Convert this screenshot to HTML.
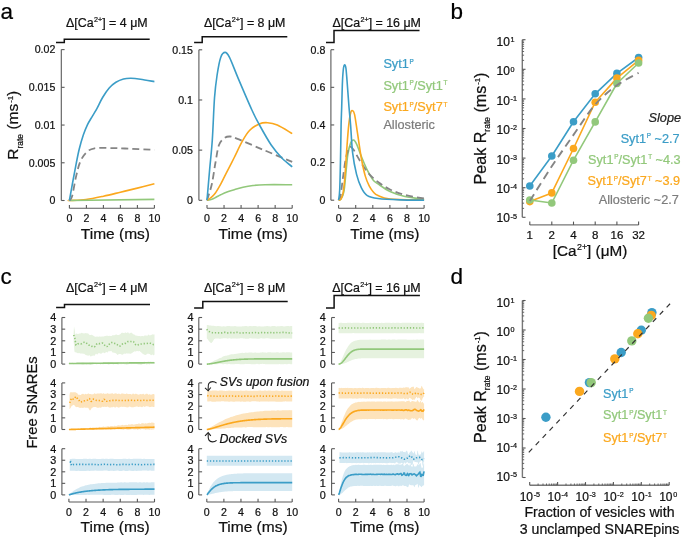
<!DOCTYPE html><html><head><meta charset="utf-8"><style>html,body{margin:0;padding:0;background:#fff;}svg{display:block;will-change:transform;}text{font-family:"Liberation Sans", sans-serif;}</style></head><body>
<svg width="685" height="538" viewBox="0 0 685 538">
<rect width="685" height="538" fill="#fff"/>
<text x="0.50" y="18.60" font-size="22.5" text-anchor="start" fill="#000" stroke="#000" stroke-width="0.22" >a</text>
<text x="450.50" y="18.60" font-size="22.5" text-anchor="start" fill="#000" stroke="#000" stroke-width="0.22" >b</text>
<text x="0.50" y="284.40" font-size="22.5" text-anchor="start" fill="#000" stroke="#000" stroke-width="0.22" >c</text>
<text x="450.50" y="284.40" font-size="22.5" text-anchor="start" fill="#000" stroke="#000" stroke-width="0.22" >d</text>
<path d="M56,42.5 H64.3 V39.3 H149.7" fill="none" stroke="#111" stroke-width="1.5"/>
<text x="66.10" y="27.00" font-size="12.4" text-anchor="start" fill="#111" stroke="#111" stroke-width="0.22" >&#916;[Ca<tspan dx="0.37" dy="-4.71" font-size="7.19">2+</tspan><tspan dy="4.71">&#8203;</tspan>] = 4 &#956;M</text>
<line x1="61.30" y1="49.60" x2="61.30" y2="200.50" stroke="#5a5a5a" stroke-width="1.1" />
<line x1="61.30" y1="200.50" x2="64.60" y2="200.50" stroke="#5a5a5a" stroke-width="1.1" />
<text x="55.30" y="204.30" font-size="10.6" text-anchor="end" fill="#111" stroke="#111" stroke-width="0.22" >0</text>
<line x1="61.30" y1="162.78" x2="64.60" y2="162.78" stroke="#5a5a5a" stroke-width="1.1" />
<text x="55.30" y="166.58" font-size="10.6" text-anchor="end" fill="#111" stroke="#111" stroke-width="0.22" >0.005</text>
<line x1="61.30" y1="125.05" x2="64.60" y2="125.05" stroke="#5a5a5a" stroke-width="1.1" />
<text x="55.30" y="128.85" font-size="10.6" text-anchor="end" fill="#111" stroke="#111" stroke-width="0.22" >0.01</text>
<line x1="61.30" y1="87.33" x2="64.60" y2="87.33" stroke="#5a5a5a" stroke-width="1.1" />
<text x="55.30" y="91.12" font-size="10.6" text-anchor="end" fill="#111" stroke="#111" stroke-width="0.22" >0.015</text>
<line x1="61.30" y1="49.60" x2="64.60" y2="49.60" stroke="#5a5a5a" stroke-width="1.1" />
<text x="55.30" y="53.40" font-size="10.6" text-anchor="end" fill="#111" stroke="#111" stroke-width="0.22" >0.02</text>
<line x1="69.40" y1="208.30" x2="154.40" y2="208.30" stroke="#5a5a5a" stroke-width="1.1" />
<line x1="69.40" y1="208.30" x2="69.40" y2="205.10" stroke="#5a5a5a" stroke-width="1.1" />
<text x="69.40" y="222.40" font-size="10.6" text-anchor="middle" fill="#111" stroke="#111" stroke-width="0.22" >0</text>
<line x1="86.40" y1="208.30" x2="86.40" y2="205.10" stroke="#5a5a5a" stroke-width="1.1" />
<text x="86.40" y="222.40" font-size="10.6" text-anchor="middle" fill="#111" stroke="#111" stroke-width="0.22" >2</text>
<line x1="103.40" y1="208.30" x2="103.40" y2="205.10" stroke="#5a5a5a" stroke-width="1.1" />
<text x="103.40" y="222.40" font-size="10.6" text-anchor="middle" fill="#111" stroke="#111" stroke-width="0.22" >4</text>
<line x1="120.40" y1="208.30" x2="120.40" y2="205.10" stroke="#5a5a5a" stroke-width="1.1" />
<text x="120.40" y="222.40" font-size="10.6" text-anchor="middle" fill="#111" stroke="#111" stroke-width="0.22" >6</text>
<line x1="137.40" y1="208.30" x2="137.40" y2="205.10" stroke="#5a5a5a" stroke-width="1.1" />
<text x="137.40" y="222.40" font-size="10.6" text-anchor="middle" fill="#111" stroke="#111" stroke-width="0.22" >8</text>
<line x1="154.40" y1="208.30" x2="154.40" y2="205.10" stroke="#5a5a5a" stroke-width="1.1" />
<text x="154.40" y="222.40" font-size="10.6" text-anchor="middle" fill="#111" stroke="#111" stroke-width="0.22" >10</text>
<text x="115.40" y="238.60" font-size="15.5" text-anchor="middle" fill="#111" stroke="#111" stroke-width="0.22" >Time (ms)</text>
<path d="M194.1,42.4 H202.2 V36.8 H287.3" fill="none" stroke="#111" stroke-width="1.5"/>
<text x="203.90" y="27.00" font-size="12.4" text-anchor="start" fill="#111" stroke="#111" stroke-width="0.22" >&#916;[Ca<tspan dx="0.37" dy="-4.71" font-size="7.19">2+</tspan><tspan dy="4.71">&#8203;</tspan>] = 8 &#956;M</text>
<line x1="198.90" y1="49.80" x2="198.90" y2="200.30" stroke="#5a5a5a" stroke-width="1.1" />
<line x1="198.90" y1="200.30" x2="202.20" y2="200.30" stroke="#5a5a5a" stroke-width="1.1" />
<text x="192.90" y="204.10" font-size="10.6" text-anchor="end" fill="#111" stroke="#111" stroke-width="0.22" >0</text>
<line x1="198.90" y1="150.13" x2="202.20" y2="150.13" stroke="#5a5a5a" stroke-width="1.1" />
<text x="192.90" y="153.93" font-size="10.6" text-anchor="end" fill="#111" stroke="#111" stroke-width="0.22" >0.05</text>
<line x1="198.90" y1="99.97" x2="202.20" y2="99.97" stroke="#5a5a5a" stroke-width="1.1" />
<text x="192.90" y="103.77" font-size="10.6" text-anchor="end" fill="#111" stroke="#111" stroke-width="0.22" >0.1</text>
<line x1="198.90" y1="49.80" x2="202.20" y2="49.80" stroke="#5a5a5a" stroke-width="1.1" />
<text x="192.90" y="53.60" font-size="10.6" text-anchor="end" fill="#111" stroke="#111" stroke-width="0.22" >0.15</text>
<line x1="207.00" y1="208.30" x2="292.20" y2="208.30" stroke="#5a5a5a" stroke-width="1.1" />
<line x1="207.00" y1="208.30" x2="207.00" y2="205.10" stroke="#5a5a5a" stroke-width="1.1" />
<text x="207.00" y="222.40" font-size="10.6" text-anchor="middle" fill="#111" stroke="#111" stroke-width="0.22" >0</text>
<line x1="224.04" y1="208.30" x2="224.04" y2="205.10" stroke="#5a5a5a" stroke-width="1.1" />
<text x="224.04" y="222.40" font-size="10.6" text-anchor="middle" fill="#111" stroke="#111" stroke-width="0.22" >2</text>
<line x1="241.08" y1="208.30" x2="241.08" y2="205.10" stroke="#5a5a5a" stroke-width="1.1" />
<text x="241.08" y="222.40" font-size="10.6" text-anchor="middle" fill="#111" stroke="#111" stroke-width="0.22" >4</text>
<line x1="258.12" y1="208.30" x2="258.12" y2="205.10" stroke="#5a5a5a" stroke-width="1.1" />
<text x="258.12" y="222.40" font-size="10.6" text-anchor="middle" fill="#111" stroke="#111" stroke-width="0.22" >6</text>
<line x1="275.16" y1="208.30" x2="275.16" y2="205.10" stroke="#5a5a5a" stroke-width="1.1" />
<text x="275.16" y="222.40" font-size="10.6" text-anchor="middle" fill="#111" stroke="#111" stroke-width="0.22" >8</text>
<line x1="292.20" y1="208.30" x2="292.20" y2="205.10" stroke="#5a5a5a" stroke-width="1.1" />
<text x="292.20" y="222.40" font-size="10.6" text-anchor="middle" fill="#111" stroke="#111" stroke-width="0.22" >10</text>
<text x="253.10" y="238.60" font-size="15.5" text-anchor="middle" fill="#111" stroke="#111" stroke-width="0.22" >Time (ms)</text>
<path d="M326,42.6 H334 V30.6 H419.5" fill="none" stroke="#111" stroke-width="1.5"/>
<text x="332.50" y="27.00" font-size="12.4" text-anchor="start" fill="#111" stroke="#111" stroke-width="0.22" >&#916;[Ca<tspan dx="0.37" dy="-4.71" font-size="7.19">2+</tspan><tspan dy="4.71">&#8203;</tspan>] = 16 &#956;M</text>
<line x1="330.90" y1="49.70" x2="330.90" y2="200.20" stroke="#5a5a5a" stroke-width="1.1" />
<line x1="330.90" y1="200.20" x2="334.20" y2="200.20" stroke="#5a5a5a" stroke-width="1.1" />
<text x="325.30" y="204.00" font-size="10.6" text-anchor="end" fill="#111" stroke="#111" stroke-width="0.22" >0</text>
<line x1="330.90" y1="162.57" x2="334.20" y2="162.57" stroke="#5a5a5a" stroke-width="1.1" />
<text x="325.30" y="166.38" font-size="10.6" text-anchor="end" fill="#111" stroke="#111" stroke-width="0.22" >0.2</text>
<line x1="330.90" y1="124.95" x2="334.20" y2="124.95" stroke="#5a5a5a" stroke-width="1.1" />
<text x="325.30" y="128.75" font-size="10.6" text-anchor="end" fill="#111" stroke="#111" stroke-width="0.22" >0.4</text>
<line x1="330.90" y1="87.33" x2="334.20" y2="87.33" stroke="#5a5a5a" stroke-width="1.1" />
<text x="325.30" y="91.12" font-size="10.6" text-anchor="end" fill="#111" stroke="#111" stroke-width="0.22" >0.6</text>
<line x1="330.90" y1="49.70" x2="334.20" y2="49.70" stroke="#5a5a5a" stroke-width="1.1" />
<text x="325.30" y="53.50" font-size="10.6" text-anchor="end" fill="#111" stroke="#111" stroke-width="0.22" >0.8</text>
<line x1="338.60" y1="208.30" x2="424.10" y2="208.30" stroke="#5a5a5a" stroke-width="1.1" />
<line x1="338.60" y1="208.30" x2="338.60" y2="205.10" stroke="#5a5a5a" stroke-width="1.1" />
<text x="338.60" y="222.40" font-size="10.6" text-anchor="middle" fill="#111" stroke="#111" stroke-width="0.22" >0</text>
<line x1="355.70" y1="208.30" x2="355.70" y2="205.10" stroke="#5a5a5a" stroke-width="1.1" />
<text x="355.70" y="222.40" font-size="10.6" text-anchor="middle" fill="#111" stroke="#111" stroke-width="0.22" >2</text>
<line x1="372.80" y1="208.30" x2="372.80" y2="205.10" stroke="#5a5a5a" stroke-width="1.1" />
<text x="372.80" y="222.40" font-size="10.6" text-anchor="middle" fill="#111" stroke="#111" stroke-width="0.22" >4</text>
<line x1="389.90" y1="208.30" x2="389.90" y2="205.10" stroke="#5a5a5a" stroke-width="1.1" />
<text x="389.90" y="222.40" font-size="10.6" text-anchor="middle" fill="#111" stroke="#111" stroke-width="0.22" >6</text>
<line x1="407.00" y1="208.30" x2="407.00" y2="205.10" stroke="#5a5a5a" stroke-width="1.1" />
<text x="407.00" y="222.40" font-size="10.6" text-anchor="middle" fill="#111" stroke="#111" stroke-width="0.22" >8</text>
<line x1="424.10" y1="208.30" x2="424.10" y2="205.10" stroke="#5a5a5a" stroke-width="1.1" />
<text x="424.10" y="222.40" font-size="10.6" text-anchor="middle" fill="#111" stroke="#111" stroke-width="0.22" >10</text>
<text x="384.85" y="238.60" font-size="15.5" text-anchor="middle" fill="#111" stroke="#111" stroke-width="0.22" >Time (ms)</text>
<text transform="translate(18,125.3) rotate(-90)" font-size="15.5" text-anchor="middle" fill="#111" stroke="#111" stroke-width="0.22">R<tspan dy="4.96" font-size="8.53">rate</tspan><tspan dy="-4.96">&#8203;</tspan> (ms<tspan dx="0.93" dy="-5.27" font-size="7.75">-1</tspan><tspan dy="5.27">&#8203;</tspan>)</text>
<path d="M69.40,200.50 C69.43,200.50 66.83,200.67 69.60,200.50 C72.37,200.33 80.35,200.22 86.00,199.50 C91.65,198.78 97.77,197.42 103.50,196.20 C109.23,194.98 114.77,193.55 120.40,192.20 C126.03,190.85 131.63,189.50 137.30,188.10 C142.97,186.70 151.55,184.52 154.40,183.80" fill="none" stroke="#fba81e" stroke-width="1.6" stroke-linecap="butt" stroke-linejoin="round"/>
<path d="M69.40,200.50 L154.40,199.40" fill="none" stroke="#92c87b" stroke-width="1.6" stroke-linecap="butt" stroke-linejoin="round"/>
<path d="M69.40,200.50 C69.85,199.80 70.97,200.40 72.10,196.30 C73.23,192.20 74.83,181.68 76.20,175.90 C77.57,170.12 78.60,165.52 80.30,161.60 C82.00,157.68 84.02,154.62 86.40,152.40 C88.78,150.18 90.17,149.02 94.60,148.30 C99.03,147.58 107.93,148.07 113.00,148.10 C118.07,148.13 118.10,148.20 125.00,148.50 C131.90,148.80 149.50,149.67 154.40,149.90" fill="none" stroke="#858585" stroke-width="1.8" stroke-linecap="butt" stroke-linejoin="round" stroke-dasharray="7,4"/>
<path d="M69.40,200.50 C70.02,197.08 71.97,186.15 73.10,180.00 C74.23,173.85 75.18,168.72 76.20,163.60 C77.22,158.48 78.02,154.07 79.20,149.30 C80.38,144.53 81.93,139.08 83.30,135.00 C84.67,130.92 85.90,127.92 87.40,124.80 C88.90,121.68 90.72,119.00 92.30,116.30 C93.88,113.60 95.18,111.73 96.90,108.60 C98.62,105.47 100.55,100.93 102.60,97.50 C104.65,94.07 106.98,90.53 109.20,88.00 C111.42,85.47 113.52,83.80 115.90,82.30 C118.28,80.80 120.98,79.67 123.50,79.00 C126.02,78.33 128.17,78.27 131.00,78.30 C133.83,78.33 136.60,78.65 140.50,79.20 C144.40,79.75 152.08,81.20 154.40,81.60" fill="none" stroke="#3b9dc7" stroke-width="1.6" stroke-linecap="butt" stroke-linejoin="round"/>
<path d="M207.00,200.30 C207.80,200.13 210.30,199.80 211.80,199.30 C213.30,198.80 214.52,198.05 216.00,197.30 C217.48,196.55 218.87,195.68 220.70,194.80 C222.53,193.92 224.65,192.88 227.00,192.00 C229.35,191.12 232.13,190.30 234.80,189.50 C237.47,188.70 239.97,187.87 243.00,187.20 C246.03,186.53 249.33,185.92 253.00,185.50 C256.67,185.08 258.47,184.83 265.00,184.70 C271.53,184.57 287.67,184.70 292.20,184.70" fill="none" stroke="#92c87b" stroke-width="1.6" stroke-linecap="butt" stroke-linejoin="round"/>
<path d="M207.00,200.30 C207.80,197.62 210.40,190.42 211.80,184.20 C213.20,177.98 214.22,169.48 215.40,163.00 C216.58,156.52 217.43,149.42 218.90,145.30 C220.37,141.18 222.43,139.77 224.20,138.30 C225.97,136.83 227.40,136.45 229.50,136.50 C231.60,136.55 231.05,136.33 236.80,138.60 C242.55,140.87 254.77,146.22 264.00,150.10 C273.23,153.98 287.50,159.93 292.20,161.90" fill="none" stroke="#858585" stroke-width="1.8" stroke-linecap="butt" stroke-linejoin="round" stroke-dasharray="7,4"/>
<path d="M207.00,200.30 C207.67,199.83 209.60,198.72 211.00,197.50 C212.40,196.28 213.78,195.22 215.40,193.00 C217.02,190.78 218.93,187.43 220.70,184.20 C222.47,180.97 223.78,177.97 226.00,173.60 C228.22,169.23 231.30,163.37 234.00,158.00 C236.70,152.63 239.62,145.98 242.20,141.40 C244.78,136.82 246.67,133.42 249.50,130.50 C252.33,127.58 256.18,125.20 259.20,123.90 C262.22,122.60 264.58,122.50 267.60,122.70 C270.62,122.90 273.20,123.28 277.30,125.10 C281.40,126.92 289.72,132.18 292.20,133.60" fill="none" stroke="#fba81e" stroke-width="1.6" stroke-linecap="butt" stroke-linejoin="round"/>
<path d="M207.00,200.30 C207.43,195.25 208.72,180.05 209.60,170.00 C210.48,159.95 211.48,152.00 212.30,140.00 C213.12,128.00 213.70,108.83 214.50,98.00 C215.30,87.17 216.07,81.77 217.10,75.00 C218.13,68.23 219.37,61.17 220.70,57.40 C222.03,53.63 223.63,52.40 225.10,52.40 C226.57,52.40 227.30,53.03 229.50,57.40 C231.70,61.77 234.57,69.83 238.30,78.60 C242.03,87.37 248.42,102.35 251.90,110.00 C255.38,117.65 255.98,118.67 259.20,124.50 C262.42,130.33 267.38,139.37 271.20,145.00 C275.02,150.63 278.60,154.67 282.10,158.30 C285.60,161.93 290.52,165.38 292.20,166.80" fill="none" stroke="#3b9dc7" stroke-width="1.6" stroke-linecap="butt" stroke-linejoin="round"/>
<path d="M338.60,200.20 C339.00,200.00 340.12,200.42 341.00,199.00 C341.88,197.58 343.10,195.85 343.90,191.70 C344.70,187.55 345.15,180.28 345.80,174.10 C346.45,167.92 346.98,159.80 347.80,154.60 C348.62,149.40 349.73,145.33 350.70,142.90 C351.67,140.47 352.63,139.83 353.60,140.00 C354.57,140.17 355.20,141.13 356.50,143.90 C357.80,146.67 359.60,152.22 361.40,156.60 C363.20,160.98 365.35,166.30 367.30,170.20 C369.25,174.10 371.32,177.72 373.10,180.00 C374.88,182.28 375.18,181.98 378.00,183.90 C380.82,185.82 385.50,189.40 390.00,191.50 C394.50,193.60 399.32,195.22 405.00,196.50 C410.68,197.78 420.92,198.75 424.10,199.20" fill="none" stroke="#92c87b" stroke-width="1.6" stroke-linecap="butt" stroke-linejoin="round"/>
<path d="M338.60,200.20 C338.92,199.50 339.78,199.70 340.50,196.00 C341.22,192.30 342.02,184.25 342.90,178.00 C343.78,171.75 344.83,163.37 345.80,158.50 C346.77,153.63 347.88,150.75 348.70,148.80 C349.52,146.85 349.88,146.63 350.70,146.80 C351.52,146.97 352.47,148.17 353.60,149.80 C354.73,151.43 355.87,153.85 357.50,156.60 C359.13,159.35 361.45,163.38 363.40,166.30 C365.35,169.22 366.77,171.49 369.20,174.10 C371.63,176.71 374.53,179.38 378.00,181.95 C381.47,184.52 385.50,187.32 390.00,189.50 C394.50,191.68 399.32,193.50 405.00,195.00 C410.68,196.50 420.92,197.92 424.10,198.50" fill="none" stroke="#858585" stroke-width="1.8" stroke-linecap="butt" stroke-linejoin="round" stroke-dasharray="7,4"/>
<path d="M338.60,200.20 C338.97,200.03 340.08,200.28 340.80,199.20 C341.52,198.12 342.23,197.23 342.90,193.70 C343.57,190.17 344.15,185.48 344.80,178.00 C345.45,170.52 346.15,157.57 346.80,148.80 C347.45,140.03 348.05,131.42 348.70,125.40 C349.35,119.38 350.05,115.15 350.70,112.70 C351.35,110.25 351.95,110.38 352.60,110.70 C353.25,111.02 353.78,110.85 354.60,114.60 C355.42,118.35 356.37,125.88 357.50,133.20 C358.63,140.52 360.10,151.35 361.40,158.50 C362.70,165.65 364.00,171.53 365.30,176.10 C366.60,180.67 367.90,183.30 369.20,185.90 C370.50,188.50 371.63,190.08 373.10,191.70 C374.57,193.32 375.18,194.38 378.00,195.60 C380.82,196.82 382.32,198.27 390.00,199.00 C397.68,199.73 418.42,199.83 424.10,200.00" fill="none" stroke="#fba81e" stroke-width="1.6" stroke-linecap="butt" stroke-linejoin="round"/>
<path d="M338.60,200.20 C338.78,198.50 339.38,196.70 339.70,190.00 C340.02,183.30 340.27,170.83 340.50,160.00 C340.73,149.17 340.90,133.83 341.10,125.00 C341.30,116.17 341.47,114.33 341.70,107.00 C341.93,99.67 342.20,87.50 342.50,81.00 C342.80,74.50 343.13,70.71 343.50,68.00 C343.87,65.29 344.30,64.75 344.70,64.75 C345.10,64.75 345.51,65.29 345.90,68.00 C346.29,70.71 346.53,74.50 347.05,81.00 C347.57,87.50 348.41,99.67 349.00,107.00 C349.59,114.33 350.00,117.38 350.60,125.00 C351.20,132.62 351.62,144.52 352.60,152.70 C353.58,160.88 355.03,168.25 356.50,174.10 C357.97,179.95 359.60,184.22 361.40,187.80 C363.20,191.38 364.53,193.82 367.30,195.60 C370.07,197.38 372.55,197.78 378.00,198.50 C383.45,199.22 392.32,199.63 400.00,199.90 C407.68,200.17 420.08,200.07 424.10,200.10" fill="none" stroke="#3b9dc7" stroke-width="1.6" stroke-linecap="butt" stroke-linejoin="round"/>
<text x="383.40" y="68.10" font-size="12.7" text-anchor="start" fill="#3b9dc7" stroke="#3b9dc7" stroke-width="0.22" >Syt1<tspan dx="0.76" dy="-4.32" font-size="6.35">P</tspan><tspan dy="4.32">&#8203;</tspan></text>
<text x="383.40" y="89.80" font-size="12.7" text-anchor="start" fill="#92c87b" stroke="#92c87b" stroke-width="0.22" >Syt1<tspan dx="0.76" dy="-4.32" font-size="6.35">P</tspan><tspan dy="4.32">&#8203;</tspan>/Syt1<tspan dx="0.76" dy="-4.32" font-size="6.35">T</tspan><tspan dy="4.32">&#8203;</tspan></text>
<text x="383.40" y="111.10" font-size="12.7" text-anchor="start" fill="#fba81e" stroke="#fba81e" stroke-width="0.22" >Syt1<tspan dx="0.76" dy="-4.32" font-size="6.35">P</tspan><tspan dy="4.32">&#8203;</tspan>/Syt7<tspan dx="0.76" dy="-4.32" font-size="6.35">T</tspan><tspan dy="4.32">&#8203;</tspan></text>
<text x="383.40" y="128.70" font-size="12.7" text-anchor="start" fill="#7c7c7c" stroke="#7c7c7c" stroke-width="0.22" >Allosteric</text>
<line x1="522.30" y1="39.70" x2="522.30" y2="217.30" stroke="#777" stroke-width="1.4" />
<line x1="522.30" y1="39.70" x2="525.50" y2="39.70" stroke="#555555" stroke-width="1.1" />
<text x="496.60" y="45.80" font-size="12" text-anchor="start" fill="#111" stroke="#111" stroke-width="0.22" >10<tspan dx="0.6" dy="-3.6" font-size="7.2">1</tspan></text>
<line x1="522.30" y1="60.39" x2="524.10" y2="60.39" stroke="#555555" stroke-width="0.9" />
<line x1="522.30" y1="55.18" x2="524.10" y2="55.18" stroke="#555555" stroke-width="0.9" />
<line x1="522.30" y1="51.48" x2="524.10" y2="51.48" stroke="#555555" stroke-width="0.9" />
<line x1="522.30" y1="48.61" x2="524.10" y2="48.61" stroke="#555555" stroke-width="0.9" />
<line x1="522.30" y1="46.27" x2="524.10" y2="46.27" stroke="#555555" stroke-width="0.9" />
<line x1="522.30" y1="44.29" x2="524.10" y2="44.29" stroke="#555555" stroke-width="0.9" />
<line x1="522.30" y1="42.57" x2="524.10" y2="42.57" stroke="#555555" stroke-width="0.9" />
<line x1="522.30" y1="41.05" x2="524.10" y2="41.05" stroke="#555555" stroke-width="0.9" />
<line x1="522.30" y1="69.30" x2="525.50" y2="69.30" stroke="#555555" stroke-width="1.1" />
<text x="496.60" y="75.23" font-size="12" text-anchor="start" fill="#111" stroke="#111" stroke-width="0.22" >10<tspan dx="0.6" dy="-3.6" font-size="7.2">0</tspan></text>
<line x1="522.30" y1="89.99" x2="524.10" y2="89.99" stroke="#555555" stroke-width="0.9" />
<line x1="522.30" y1="84.78" x2="524.10" y2="84.78" stroke="#555555" stroke-width="0.9" />
<line x1="522.30" y1="81.08" x2="524.10" y2="81.08" stroke="#555555" stroke-width="0.9" />
<line x1="522.30" y1="78.21" x2="524.10" y2="78.21" stroke="#555555" stroke-width="0.9" />
<line x1="522.30" y1="75.87" x2="524.10" y2="75.87" stroke="#555555" stroke-width="0.9" />
<line x1="522.30" y1="73.89" x2="524.10" y2="73.89" stroke="#555555" stroke-width="0.9" />
<line x1="522.30" y1="72.17" x2="524.10" y2="72.17" stroke="#555555" stroke-width="0.9" />
<line x1="522.30" y1="70.65" x2="524.10" y2="70.65" stroke="#555555" stroke-width="0.9" />
<line x1="522.30" y1="98.90" x2="525.50" y2="98.90" stroke="#555555" stroke-width="1.1" />
<text x="496.60" y="104.66" font-size="12" text-anchor="start" fill="#111" stroke="#111" stroke-width="0.22" >10<tspan dx="0.6" dy="-3.6" font-size="7.2">-1</tspan></text>
<line x1="522.30" y1="119.59" x2="524.10" y2="119.59" stroke="#555555" stroke-width="0.9" />
<line x1="522.30" y1="114.38" x2="524.10" y2="114.38" stroke="#555555" stroke-width="0.9" />
<line x1="522.30" y1="110.68" x2="524.10" y2="110.68" stroke="#555555" stroke-width="0.9" />
<line x1="522.30" y1="107.81" x2="524.10" y2="107.81" stroke="#555555" stroke-width="0.9" />
<line x1="522.30" y1="105.47" x2="524.10" y2="105.47" stroke="#555555" stroke-width="0.9" />
<line x1="522.30" y1="103.49" x2="524.10" y2="103.49" stroke="#555555" stroke-width="0.9" />
<line x1="522.30" y1="101.77" x2="524.10" y2="101.77" stroke="#555555" stroke-width="0.9" />
<line x1="522.30" y1="100.25" x2="524.10" y2="100.25" stroke="#555555" stroke-width="0.9" />
<line x1="522.30" y1="128.50" x2="525.50" y2="128.50" stroke="#555555" stroke-width="1.1" />
<text x="496.60" y="134.09" font-size="12" text-anchor="start" fill="#111" stroke="#111" stroke-width="0.22" >10<tspan dx="0.6" dy="-3.6" font-size="7.2">-2</tspan></text>
<line x1="522.30" y1="149.19" x2="524.10" y2="149.19" stroke="#555555" stroke-width="0.9" />
<line x1="522.30" y1="143.98" x2="524.10" y2="143.98" stroke="#555555" stroke-width="0.9" />
<line x1="522.30" y1="140.28" x2="524.10" y2="140.28" stroke="#555555" stroke-width="0.9" />
<line x1="522.30" y1="137.41" x2="524.10" y2="137.41" stroke="#555555" stroke-width="0.9" />
<line x1="522.30" y1="135.07" x2="524.10" y2="135.07" stroke="#555555" stroke-width="0.9" />
<line x1="522.30" y1="133.09" x2="524.10" y2="133.09" stroke="#555555" stroke-width="0.9" />
<line x1="522.30" y1="131.37" x2="524.10" y2="131.37" stroke="#555555" stroke-width="0.9" />
<line x1="522.30" y1="129.85" x2="524.10" y2="129.85" stroke="#555555" stroke-width="0.9" />
<line x1="522.30" y1="158.10" x2="525.50" y2="158.10" stroke="#555555" stroke-width="1.1" />
<text x="496.60" y="163.52" font-size="12" text-anchor="start" fill="#111" stroke="#111" stroke-width="0.22" >10<tspan dx="0.6" dy="-3.6" font-size="7.2">-3</tspan></text>
<line x1="522.30" y1="178.79" x2="524.10" y2="178.79" stroke="#555555" stroke-width="0.9" />
<line x1="522.30" y1="173.58" x2="524.10" y2="173.58" stroke="#555555" stroke-width="0.9" />
<line x1="522.30" y1="169.88" x2="524.10" y2="169.88" stroke="#555555" stroke-width="0.9" />
<line x1="522.30" y1="167.01" x2="524.10" y2="167.01" stroke="#555555" stroke-width="0.9" />
<line x1="522.30" y1="164.67" x2="524.10" y2="164.67" stroke="#555555" stroke-width="0.9" />
<line x1="522.30" y1="162.69" x2="524.10" y2="162.69" stroke="#555555" stroke-width="0.9" />
<line x1="522.30" y1="160.97" x2="524.10" y2="160.97" stroke="#555555" stroke-width="0.9" />
<line x1="522.30" y1="159.45" x2="524.10" y2="159.45" stroke="#555555" stroke-width="0.9" />
<line x1="522.30" y1="187.70" x2="525.50" y2="187.70" stroke="#555555" stroke-width="1.1" />
<text x="496.60" y="192.95" font-size="12" text-anchor="start" fill="#111" stroke="#111" stroke-width="0.22" >10<tspan dx="0.6" dy="-3.6" font-size="7.2">-4</tspan></text>
<line x1="522.30" y1="208.39" x2="524.10" y2="208.39" stroke="#555555" stroke-width="0.9" />
<line x1="522.30" y1="203.18" x2="524.10" y2="203.18" stroke="#555555" stroke-width="0.9" />
<line x1="522.30" y1="199.48" x2="524.10" y2="199.48" stroke="#555555" stroke-width="0.9" />
<line x1="522.30" y1="196.61" x2="524.10" y2="196.61" stroke="#555555" stroke-width="0.9" />
<line x1="522.30" y1="194.27" x2="524.10" y2="194.27" stroke="#555555" stroke-width="0.9" />
<line x1="522.30" y1="192.29" x2="524.10" y2="192.29" stroke="#555555" stroke-width="0.9" />
<line x1="522.30" y1="190.57" x2="524.10" y2="190.57" stroke="#555555" stroke-width="0.9" />
<line x1="522.30" y1="189.05" x2="524.10" y2="189.05" stroke="#555555" stroke-width="0.9" />
<line x1="522.30" y1="217.30" x2="525.50" y2="217.30" stroke="#555555" stroke-width="1.1" />
<text x="496.60" y="222.38" font-size="12" text-anchor="start" fill="#111" stroke="#111" stroke-width="0.22" >10<tspan dx="0.6" dy="-3.6" font-size="7.2">-5</tspan></text>
<line x1="529.80" y1="224.90" x2="638.60" y2="224.90" stroke="#777" stroke-width="1.4" />
<line x1="529.80" y1="224.90" x2="529.80" y2="221.60" stroke="#555555" stroke-width="1.1" />
<text x="529.80" y="238.60" font-size="11.5" text-anchor="middle" fill="#111" stroke="#111" stroke-width="0.22" >1</text>
<line x1="551.80" y1="224.90" x2="551.80" y2="221.60" stroke="#555555" stroke-width="1.1" />
<text x="551.80" y="238.60" font-size="11.5" text-anchor="middle" fill="#111" stroke="#111" stroke-width="0.22" >2</text>
<line x1="573.50" y1="224.90" x2="573.50" y2="221.60" stroke="#555555" stroke-width="1.1" />
<text x="573.50" y="238.60" font-size="11.5" text-anchor="middle" fill="#111" stroke="#111" stroke-width="0.22" >4</text>
<line x1="595.20" y1="224.90" x2="595.20" y2="221.60" stroke="#555555" stroke-width="1.1" />
<text x="595.20" y="238.60" font-size="11.5" text-anchor="middle" fill="#111" stroke="#111" stroke-width="0.22" >8</text>
<line x1="616.90" y1="224.90" x2="616.90" y2="221.60" stroke="#555555" stroke-width="1.1" />
<text x="616.90" y="238.60" font-size="11.5" text-anchor="middle" fill="#111" stroke="#111" stroke-width="0.22" >16</text>
<line x1="638.60" y1="224.90" x2="638.60" y2="221.60" stroke="#555555" stroke-width="1.1" />
<text x="638.60" y="238.60" font-size="11.5" text-anchor="middle" fill="#111" stroke="#111" stroke-width="0.22" >32</text>
<text x="590.00" y="256.00" font-size="15.3" text-anchor="middle" fill="#111" stroke="#111" stroke-width="0.22" >[Ca<tspan dx="0.46" dy="-5.81" font-size="8.87">2+</tspan><tspan dy="5.81">&#8203;</tspan>] (&#956;M)</text>
<text transform="translate(485.5,128.5) rotate(-90)" font-size="16.1" text-anchor="middle" fill="#111" stroke="#111" stroke-width="0.22">Peak R<tspan dy="4.96" font-size="8.53">rate</tspan><tspan dy="-4.96">&#8203;</tspan> (ms<tspan dx="0.93" dy="-5.27" font-size="7.75">-1</tspan><tspan dy="5.27">&#8203;</tspan>)</text>
<path d="M529.80,186.00 L551.80,156.00 L573.50,121.70 L595.20,93.80 L616.90,73.40 L638.60,57.50" fill="none" stroke="#3b9dc7" stroke-width="1.6" stroke-linejoin="round"/>
<circle cx="529.80" cy="186.00" r="3.8" fill="#3b9dc7"/>
<circle cx="551.80" cy="156.00" r="3.8" fill="#3b9dc7"/>
<circle cx="573.50" cy="121.70" r="3.8" fill="#3b9dc7"/>
<circle cx="595.20" cy="93.80" r="3.8" fill="#3b9dc7"/>
<circle cx="616.90" cy="73.40" r="3.8" fill="#3b9dc7"/>
<circle cx="638.60" cy="57.50" r="3.8" fill="#3b9dc7"/>
<path d="M529.80,201.60 L551.80,192.90 L573.50,148.50 L595.20,102.20 L616.90,78.10 L638.60,60.40" fill="none" stroke="#fba81e" stroke-width="1.6" stroke-linejoin="round"/>
<circle cx="529.80" cy="201.60" r="3.8" fill="#fba81e"/>
<circle cx="551.80" cy="192.90" r="3.8" fill="#fba81e"/>
<circle cx="573.50" cy="148.50" r="3.8" fill="#fba81e"/>
<circle cx="595.20" cy="102.20" r="3.8" fill="#fba81e"/>
<circle cx="616.90" cy="78.10" r="3.8" fill="#fba81e"/>
<circle cx="638.60" cy="60.40" r="3.8" fill="#fba81e"/>
<path d="M529.80,200.00 L551.80,203.00 L573.50,160.20 L595.20,121.90 L616.90,83.50 L638.60,63.00" fill="none" stroke="#92c87b" stroke-width="1.6" stroke-linejoin="round"/>
<circle cx="529.80" cy="200.00" r="3.8" fill="#92c87b"/>
<circle cx="551.80" cy="203.00" r="3.8" fill="#92c87b"/>
<circle cx="573.50" cy="160.20" r="3.8" fill="#92c87b"/>
<circle cx="595.20" cy="121.90" r="3.8" fill="#92c87b"/>
<circle cx="616.90" cy="83.50" r="3.8" fill="#92c87b"/>
<circle cx="638.60" cy="63.00" r="3.8" fill="#92c87b"/>
<path d="M529.80,200.90 C533.47,195.13 544.52,177.30 551.80,166.30 C559.08,155.30 566.27,145.18 573.50,134.90 C580.73,124.62 587.97,112.87 595.20,104.60 C602.43,96.33 609.67,90.58 616.90,85.30 C624.13,80.02 634.98,74.97 638.60,72.90" fill="none" stroke="#858585" stroke-width="1.9" stroke-linecap="butt" stroke-linejoin="round" stroke-dasharray="8,5"/>
<text x="681.00" y="122.20" font-size="12.7" text-anchor="end" fill="#222" stroke="#222" stroke-width="0.22" font-style="italic">Slope</text>
<text x="679.60" y="142.70" font-size="12.7" text-anchor="end" fill="#3b9dc7" stroke="#3b9dc7" stroke-width="0.22" >Syt1<tspan dx="0.76" dy="-4.32" font-size="6.35">P</tspan><tspan dy="4.32">&#8203;</tspan> ~2.7</text>
<text x="680.60" y="163.50" font-size="12.7" text-anchor="end" fill="#92c87b" stroke="#92c87b" stroke-width="0.22" >Syt1<tspan dx="0.76" dy="-4.32" font-size="6.35">P</tspan><tspan dy="4.32">&#8203;</tspan>/Syt1<tspan dx="0.76" dy="-4.32" font-size="6.35">T</tspan><tspan dy="4.32">&#8203;</tspan> ~4.3</text>
<text x="680.10" y="185.00" font-size="12.7" text-anchor="end" fill="#fba81e" stroke="#fba81e" stroke-width="0.22" >Syt1<tspan dx="0.76" dy="-4.32" font-size="6.35">P</tspan><tspan dy="4.32">&#8203;</tspan>/Syt7<tspan dx="0.76" dy="-4.32" font-size="6.35">T</tspan><tspan dy="4.32">&#8203;</tspan> ~3.9</text>
<text x="678.80" y="203.60" font-size="12.7" text-anchor="end" fill="#7c7c7c" stroke="#7c7c7c" stroke-width="0.22" >Allosteric ~2.7</text>
<line x1="522.40" y1="300.50" x2="522.40" y2="477.50" stroke="#777" stroke-width="1.4" />
<line x1="522.40" y1="300.50" x2="525.60" y2="300.50" stroke="#555555" stroke-width="1.1" />
<text x="496.60" y="306.70" font-size="12" text-anchor="start" fill="#111" stroke="#111" stroke-width="0.22" >10<tspan dx="0.6" dy="-3.6" font-size="7.2">1</tspan></text>
<line x1="522.40" y1="321.12" x2="524.20" y2="321.12" stroke="#555555" stroke-width="0.9" />
<line x1="522.40" y1="315.92" x2="524.20" y2="315.92" stroke="#555555" stroke-width="0.9" />
<line x1="522.40" y1="312.24" x2="524.20" y2="312.24" stroke="#555555" stroke-width="0.9" />
<line x1="522.40" y1="309.38" x2="524.20" y2="309.38" stroke="#555555" stroke-width="0.9" />
<line x1="522.40" y1="307.04" x2="524.20" y2="307.04" stroke="#555555" stroke-width="0.9" />
<line x1="522.40" y1="305.07" x2="524.20" y2="305.07" stroke="#555555" stroke-width="0.9" />
<line x1="522.40" y1="303.36" x2="524.20" y2="303.36" stroke="#555555" stroke-width="0.9" />
<line x1="522.40" y1="301.85" x2="524.20" y2="301.85" stroke="#555555" stroke-width="0.9" />
<line x1="522.40" y1="330.00" x2="525.60" y2="330.00" stroke="#555555" stroke-width="1.1" />
<text x="496.60" y="335.75" font-size="12" text-anchor="start" fill="#111" stroke="#111" stroke-width="0.22" >10<tspan dx="0.6" dy="-3.6" font-size="7.2">0</tspan></text>
<line x1="522.40" y1="350.62" x2="524.20" y2="350.62" stroke="#555555" stroke-width="0.9" />
<line x1="522.40" y1="345.42" x2="524.20" y2="345.42" stroke="#555555" stroke-width="0.9" />
<line x1="522.40" y1="341.74" x2="524.20" y2="341.74" stroke="#555555" stroke-width="0.9" />
<line x1="522.40" y1="338.88" x2="524.20" y2="338.88" stroke="#555555" stroke-width="0.9" />
<line x1="522.40" y1="336.54" x2="524.20" y2="336.54" stroke="#555555" stroke-width="0.9" />
<line x1="522.40" y1="334.57" x2="524.20" y2="334.57" stroke="#555555" stroke-width="0.9" />
<line x1="522.40" y1="332.86" x2="524.20" y2="332.86" stroke="#555555" stroke-width="0.9" />
<line x1="522.40" y1="331.35" x2="524.20" y2="331.35" stroke="#555555" stroke-width="0.9" />
<line x1="522.40" y1="359.50" x2="525.60" y2="359.50" stroke="#555555" stroke-width="1.1" />
<text x="496.60" y="364.80" font-size="12" text-anchor="start" fill="#111" stroke="#111" stroke-width="0.22" >10<tspan dx="0.6" dy="-3.6" font-size="7.2">-1</tspan></text>
<line x1="522.40" y1="380.12" x2="524.20" y2="380.12" stroke="#555555" stroke-width="0.9" />
<line x1="522.40" y1="374.92" x2="524.20" y2="374.92" stroke="#555555" stroke-width="0.9" />
<line x1="522.40" y1="371.24" x2="524.20" y2="371.24" stroke="#555555" stroke-width="0.9" />
<line x1="522.40" y1="368.38" x2="524.20" y2="368.38" stroke="#555555" stroke-width="0.9" />
<line x1="522.40" y1="366.04" x2="524.20" y2="366.04" stroke="#555555" stroke-width="0.9" />
<line x1="522.40" y1="364.07" x2="524.20" y2="364.07" stroke="#555555" stroke-width="0.9" />
<line x1="522.40" y1="362.36" x2="524.20" y2="362.36" stroke="#555555" stroke-width="0.9" />
<line x1="522.40" y1="360.85" x2="524.20" y2="360.85" stroke="#555555" stroke-width="0.9" />
<line x1="522.40" y1="389.00" x2="525.60" y2="389.00" stroke="#555555" stroke-width="1.1" />
<text x="496.60" y="393.85" font-size="12" text-anchor="start" fill="#111" stroke="#111" stroke-width="0.22" >10<tspan dx="0.6" dy="-3.6" font-size="7.2">-2</tspan></text>
<line x1="522.40" y1="409.62" x2="524.20" y2="409.62" stroke="#555555" stroke-width="0.9" />
<line x1="522.40" y1="404.42" x2="524.20" y2="404.42" stroke="#555555" stroke-width="0.9" />
<line x1="522.40" y1="400.74" x2="524.20" y2="400.74" stroke="#555555" stroke-width="0.9" />
<line x1="522.40" y1="397.88" x2="524.20" y2="397.88" stroke="#555555" stroke-width="0.9" />
<line x1="522.40" y1="395.54" x2="524.20" y2="395.54" stroke="#555555" stroke-width="0.9" />
<line x1="522.40" y1="393.57" x2="524.20" y2="393.57" stroke="#555555" stroke-width="0.9" />
<line x1="522.40" y1="391.86" x2="524.20" y2="391.86" stroke="#555555" stroke-width="0.9" />
<line x1="522.40" y1="390.35" x2="524.20" y2="390.35" stroke="#555555" stroke-width="0.9" />
<line x1="522.40" y1="418.50" x2="525.60" y2="418.50" stroke="#555555" stroke-width="1.1" />
<text x="496.60" y="422.90" font-size="12" text-anchor="start" fill="#111" stroke="#111" stroke-width="0.22" >10<tspan dx="0.6" dy="-3.6" font-size="7.2">-3</tspan></text>
<line x1="522.40" y1="439.12" x2="524.20" y2="439.12" stroke="#555555" stroke-width="0.9" />
<line x1="522.40" y1="433.92" x2="524.20" y2="433.92" stroke="#555555" stroke-width="0.9" />
<line x1="522.40" y1="430.24" x2="524.20" y2="430.24" stroke="#555555" stroke-width="0.9" />
<line x1="522.40" y1="427.38" x2="524.20" y2="427.38" stroke="#555555" stroke-width="0.9" />
<line x1="522.40" y1="425.04" x2="524.20" y2="425.04" stroke="#555555" stroke-width="0.9" />
<line x1="522.40" y1="423.07" x2="524.20" y2="423.07" stroke="#555555" stroke-width="0.9" />
<line x1="522.40" y1="421.36" x2="524.20" y2="421.36" stroke="#555555" stroke-width="0.9" />
<line x1="522.40" y1="419.85" x2="524.20" y2="419.85" stroke="#555555" stroke-width="0.9" />
<line x1="522.40" y1="448.00" x2="525.60" y2="448.00" stroke="#555555" stroke-width="1.1" />
<text x="496.60" y="451.95" font-size="12" text-anchor="start" fill="#111" stroke="#111" stroke-width="0.22" >10<tspan dx="0.6" dy="-3.6" font-size="7.2">-4</tspan></text>
<line x1="522.40" y1="468.62" x2="524.20" y2="468.62" stroke="#555555" stroke-width="0.9" />
<line x1="522.40" y1="463.42" x2="524.20" y2="463.42" stroke="#555555" stroke-width="0.9" />
<line x1="522.40" y1="459.74" x2="524.20" y2="459.74" stroke="#555555" stroke-width="0.9" />
<line x1="522.40" y1="456.88" x2="524.20" y2="456.88" stroke="#555555" stroke-width="0.9" />
<line x1="522.40" y1="454.54" x2="524.20" y2="454.54" stroke="#555555" stroke-width="0.9" />
<line x1="522.40" y1="452.57" x2="524.20" y2="452.57" stroke="#555555" stroke-width="0.9" />
<line x1="522.40" y1="450.86" x2="524.20" y2="450.86" stroke="#555555" stroke-width="0.9" />
<line x1="522.40" y1="449.35" x2="524.20" y2="449.35" stroke="#555555" stroke-width="0.9" />
<line x1="522.40" y1="477.50" x2="525.60" y2="477.50" stroke="#555555" stroke-width="1.1" />
<text x="496.60" y="481.00" font-size="12" text-anchor="start" fill="#111" stroke="#111" stroke-width="0.22" >10<tspan dx="0.6" dy="-3.6" font-size="7.2">-5</tspan></text>
<line x1="529.70" y1="485.30" x2="669.20" y2="485.30" stroke="#777" stroke-width="1.4" />
<line x1="529.70" y1="485.30" x2="529.70" y2="482.10" stroke="#555555" stroke-width="1.1" />
<text x="519.70" y="500.80" font-size="12" text-anchor="start" fill="#111" stroke="#111" stroke-width="0.22" >10<tspan dx="0.6" dy="-3.6" font-size="7.2">-5</tspan></text>
<line x1="538.10" y1="485.30" x2="538.10" y2="483.50" stroke="#555555" stroke-width="0.9" />
<line x1="543.01" y1="485.30" x2="543.01" y2="483.50" stroke="#555555" stroke-width="0.9" />
<line x1="546.50" y1="485.30" x2="546.50" y2="483.50" stroke="#555555" stroke-width="0.9" />
<line x1="549.20" y1="485.30" x2="549.20" y2="483.50" stroke="#555555" stroke-width="0.9" />
<line x1="551.41" y1="485.30" x2="551.41" y2="483.50" stroke="#555555" stroke-width="0.9" />
<line x1="553.28" y1="485.30" x2="553.28" y2="483.50" stroke="#555555" stroke-width="0.9" />
<line x1="554.90" y1="485.30" x2="554.90" y2="483.50" stroke="#555555" stroke-width="0.9" />
<line x1="556.32" y1="485.30" x2="556.32" y2="483.50" stroke="#555555" stroke-width="0.9" />
<line x1="557.60" y1="485.30" x2="557.60" y2="482.10" stroke="#555555" stroke-width="1.1" />
<text x="547.60" y="500.80" font-size="12" text-anchor="start" fill="#111" stroke="#111" stroke-width="0.22" >10<tspan dx="0.6" dy="-3.6" font-size="7.2">-4</tspan></text>
<line x1="566.00" y1="485.30" x2="566.00" y2="483.50" stroke="#555555" stroke-width="0.9" />
<line x1="570.91" y1="485.30" x2="570.91" y2="483.50" stroke="#555555" stroke-width="0.9" />
<line x1="574.40" y1="485.30" x2="574.40" y2="483.50" stroke="#555555" stroke-width="0.9" />
<line x1="577.10" y1="485.30" x2="577.10" y2="483.50" stroke="#555555" stroke-width="0.9" />
<line x1="579.31" y1="485.30" x2="579.31" y2="483.50" stroke="#555555" stroke-width="0.9" />
<line x1="581.18" y1="485.30" x2="581.18" y2="483.50" stroke="#555555" stroke-width="0.9" />
<line x1="582.80" y1="485.30" x2="582.80" y2="483.50" stroke="#555555" stroke-width="0.9" />
<line x1="584.22" y1="485.30" x2="584.22" y2="483.50" stroke="#555555" stroke-width="0.9" />
<line x1="585.50" y1="485.30" x2="585.50" y2="482.10" stroke="#555555" stroke-width="1.1" />
<text x="575.50" y="500.80" font-size="12" text-anchor="start" fill="#111" stroke="#111" stroke-width="0.22" >10<tspan dx="0.6" dy="-3.6" font-size="7.2">-3</tspan></text>
<line x1="593.90" y1="485.30" x2="593.90" y2="483.50" stroke="#555555" stroke-width="0.9" />
<line x1="598.81" y1="485.30" x2="598.81" y2="483.50" stroke="#555555" stroke-width="0.9" />
<line x1="602.30" y1="485.30" x2="602.30" y2="483.50" stroke="#555555" stroke-width="0.9" />
<line x1="605.00" y1="485.30" x2="605.00" y2="483.50" stroke="#555555" stroke-width="0.9" />
<line x1="607.21" y1="485.30" x2="607.21" y2="483.50" stroke="#555555" stroke-width="0.9" />
<line x1="609.08" y1="485.30" x2="609.08" y2="483.50" stroke="#555555" stroke-width="0.9" />
<line x1="610.70" y1="485.30" x2="610.70" y2="483.50" stroke="#555555" stroke-width="0.9" />
<line x1="612.12" y1="485.30" x2="612.12" y2="483.50" stroke="#555555" stroke-width="0.9" />
<line x1="613.40" y1="485.30" x2="613.40" y2="482.10" stroke="#555555" stroke-width="1.1" />
<text x="603.40" y="500.80" font-size="12" text-anchor="start" fill="#111" stroke="#111" stroke-width="0.22" >10<tspan dx="0.6" dy="-3.6" font-size="7.2">-2</tspan></text>
<line x1="621.80" y1="485.30" x2="621.80" y2="483.50" stroke="#555555" stroke-width="0.9" />
<line x1="626.71" y1="485.30" x2="626.71" y2="483.50" stroke="#555555" stroke-width="0.9" />
<line x1="630.20" y1="485.30" x2="630.20" y2="483.50" stroke="#555555" stroke-width="0.9" />
<line x1="632.90" y1="485.30" x2="632.90" y2="483.50" stroke="#555555" stroke-width="0.9" />
<line x1="635.11" y1="485.30" x2="635.11" y2="483.50" stroke="#555555" stroke-width="0.9" />
<line x1="636.98" y1="485.30" x2="636.98" y2="483.50" stroke="#555555" stroke-width="0.9" />
<line x1="638.60" y1="485.30" x2="638.60" y2="483.50" stroke="#555555" stroke-width="0.9" />
<line x1="640.02" y1="485.30" x2="640.02" y2="483.50" stroke="#555555" stroke-width="0.9" />
<line x1="641.30" y1="485.30" x2="641.30" y2="482.10" stroke="#555555" stroke-width="1.1" />
<text x="631.30" y="500.80" font-size="12" text-anchor="start" fill="#111" stroke="#111" stroke-width="0.22" >10<tspan dx="0.6" dy="-3.6" font-size="7.2">-1</tspan></text>
<line x1="649.70" y1="485.30" x2="649.70" y2="483.50" stroke="#555555" stroke-width="0.9" />
<line x1="654.61" y1="485.30" x2="654.61" y2="483.50" stroke="#555555" stroke-width="0.9" />
<line x1="658.10" y1="485.30" x2="658.10" y2="483.50" stroke="#555555" stroke-width="0.9" />
<line x1="660.80" y1="485.30" x2="660.80" y2="483.50" stroke="#555555" stroke-width="0.9" />
<line x1="663.01" y1="485.30" x2="663.01" y2="483.50" stroke="#555555" stroke-width="0.9" />
<line x1="664.88" y1="485.30" x2="664.88" y2="483.50" stroke="#555555" stroke-width="0.9" />
<line x1="666.50" y1="485.30" x2="666.50" y2="483.50" stroke="#555555" stroke-width="0.9" />
<line x1="667.92" y1="485.30" x2="667.92" y2="483.50" stroke="#555555" stroke-width="0.9" />
<line x1="669.20" y1="485.30" x2="669.20" y2="482.10" stroke="#555555" stroke-width="1.1" />
<text x="659.20" y="500.80" font-size="12" text-anchor="start" fill="#111" stroke="#111" stroke-width="0.22" >10<tspan dx="0.6" dy="-3.6" font-size="7.2">0</tspan></text>
<text x="599.50" y="517.00" font-size="14.15" text-anchor="middle" fill="#111" stroke="#111" stroke-width="0.22" >Fraction of vesicles with</text>
<text x="599.50" y="533.90" font-size="14.15" text-anchor="middle" fill="#111" stroke="#111" stroke-width="0.22" >3 unclamped SNAREpins</text>
<text transform="translate(485.5,387) rotate(-90)" font-size="16.1" text-anchor="middle" fill="#111" stroke="#111" stroke-width="0.22">Peak R<tspan dy="4.96" font-size="8.53">rate</tspan><tspan dy="-4.96">&#8203;</tspan> (ms<tspan dx="0.93" dy="-5.27" font-size="7.75">-1</tspan><tspan dy="5.27">&#8203;</tspan>)</text>
<circle cx="545.9" cy="417.2" r="4.7" fill="#3b9dc7"/>
<circle cx="589.4" cy="382.6" r="4.7" fill="#3b9dc7"/>
<circle cx="621.2" cy="352.5" r="4.7" fill="#3b9dc7"/>
<circle cx="641.3" cy="330.3" r="4.7" fill="#3b9dc7"/>
<circle cx="651.9" cy="312.6" r="4.7" fill="#3b9dc7"/>
<circle cx="579.5" cy="391.4" r="4.7" fill="#fba81e"/>
<circle cx="614.8" cy="358.9" r="4.7" fill="#fba81e"/>
<circle cx="637.8" cy="333.8" r="4.7" fill="#fba81e"/>
<circle cx="651.2" cy="315.4" r="4.7" fill="#fba81e"/>
<circle cx="591.2" cy="382.6" r="4.7" fill="#92c87b"/>
<circle cx="631.8" cy="340.9" r="4.7" fill="#92c87b"/>
<circle cx="648.4" cy="318.3" r="4.7" fill="#92c87b"/>
<line x1="528.8" y1="452.3" x2="670.2" y2="303.6" stroke="#333" stroke-width="1.2" stroke-dasharray="5,5"/>
<text x="603.00" y="397.80" font-size="12.7" text-anchor="start" fill="#3b9dc7" stroke="#3b9dc7" stroke-width="0.22" >Syt1<tspan dx="0.76" dy="-4.32" font-size="6.35">P</tspan><tspan dy="4.32">&#8203;</tspan></text>
<text x="603.00" y="419.00" font-size="12.7" text-anchor="start" fill="#92c87b" stroke="#92c87b" stroke-width="0.22" >Syt1<tspan dx="0.76" dy="-4.32" font-size="6.35">P</tspan><tspan dy="4.32">&#8203;</tspan>/Syt1<tspan dx="0.76" dy="-4.32" font-size="6.35">T</tspan><tspan dy="4.32">&#8203;</tspan></text>
<text x="603.00" y="442.00" font-size="12.7" text-anchor="start" fill="#fba81e" stroke="#fba81e" stroke-width="0.22" >Syt1<tspan dx="0.76" dy="-4.32" font-size="6.35">P</tspan><tspan dy="4.32">&#8203;</tspan>/Syt7<tspan dx="0.76" dy="-4.32" font-size="6.35">T</tspan><tspan dy="4.32">&#8203;</tspan></text>
<path d="M56.1,307.5 H64.5 V304.5 H150" fill="none" stroke="#111" stroke-width="1.5"/>
<text x="66.10" y="292.00" font-size="12.4" text-anchor="start" fill="#111" stroke="#111" stroke-width="0.22" >&#916;[Ca<tspan dx="0.37" dy="-4.71" font-size="7.19">2+</tspan><tspan dy="4.71">&#8203;</tspan>] = 4 &#956;M</text>
<line x1="61.90" y1="317.50" x2="61.90" y2="364.10" stroke="#5a5a5a" stroke-width="1.1" />
<line x1="61.90" y1="364.10" x2="65.20" y2="364.10" stroke="#5a5a5a" stroke-width="1.1" />
<text x="56.30" y="368.00" font-size="10.8" text-anchor="end" fill="#111" stroke="#111" stroke-width="0.22" >0</text>
<line x1="61.90" y1="352.45" x2="65.20" y2="352.45" stroke="#5a5a5a" stroke-width="1.1" />
<text x="56.30" y="356.35" font-size="10.8" text-anchor="end" fill="#111" stroke="#111" stroke-width="0.22" >1</text>
<line x1="61.90" y1="340.80" x2="65.20" y2="340.80" stroke="#5a5a5a" stroke-width="1.1" />
<text x="56.30" y="344.70" font-size="10.8" text-anchor="end" fill="#111" stroke="#111" stroke-width="0.22" >2</text>
<line x1="61.90" y1="329.15" x2="65.20" y2="329.15" stroke="#5a5a5a" stroke-width="1.1" />
<text x="56.30" y="333.05" font-size="10.8" text-anchor="end" fill="#111" stroke="#111" stroke-width="0.22" >3</text>
<line x1="61.90" y1="317.50" x2="65.20" y2="317.50" stroke="#5a5a5a" stroke-width="1.1" />
<text x="56.30" y="321.40" font-size="10.8" text-anchor="end" fill="#111" stroke="#111" stroke-width="0.22" >4</text>
<line x1="61.90" y1="382.90" x2="61.90" y2="429.50" stroke="#5a5a5a" stroke-width="1.1" />
<line x1="61.90" y1="429.50" x2="65.20" y2="429.50" stroke="#5a5a5a" stroke-width="1.1" />
<text x="56.30" y="433.40" font-size="10.8" text-anchor="end" fill="#111" stroke="#111" stroke-width="0.22" >0</text>
<line x1="61.90" y1="417.85" x2="65.20" y2="417.85" stroke="#5a5a5a" stroke-width="1.1" />
<text x="56.30" y="421.75" font-size="10.8" text-anchor="end" fill="#111" stroke="#111" stroke-width="0.22" >1</text>
<line x1="61.90" y1="406.20" x2="65.20" y2="406.20" stroke="#5a5a5a" stroke-width="1.1" />
<text x="56.30" y="410.10" font-size="10.8" text-anchor="end" fill="#111" stroke="#111" stroke-width="0.22" >2</text>
<line x1="61.90" y1="394.55" x2="65.20" y2="394.55" stroke="#5a5a5a" stroke-width="1.1" />
<text x="56.30" y="398.45" font-size="10.8" text-anchor="end" fill="#111" stroke="#111" stroke-width="0.22" >3</text>
<line x1="61.90" y1="382.90" x2="65.20" y2="382.90" stroke="#5a5a5a" stroke-width="1.1" />
<text x="56.30" y="386.80" font-size="10.8" text-anchor="end" fill="#111" stroke="#111" stroke-width="0.22" >4</text>
<line x1="61.90" y1="448.70" x2="61.90" y2="494.90" stroke="#5a5a5a" stroke-width="1.1" />
<line x1="61.90" y1="494.90" x2="65.20" y2="494.90" stroke="#5a5a5a" stroke-width="1.1" />
<text x="56.30" y="498.80" font-size="10.8" text-anchor="end" fill="#111" stroke="#111" stroke-width="0.22" >0</text>
<line x1="61.90" y1="483.35" x2="65.20" y2="483.35" stroke="#5a5a5a" stroke-width="1.1" />
<text x="56.30" y="487.25" font-size="10.8" text-anchor="end" fill="#111" stroke="#111" stroke-width="0.22" >1</text>
<line x1="61.90" y1="471.80" x2="65.20" y2="471.80" stroke="#5a5a5a" stroke-width="1.1" />
<text x="56.30" y="475.70" font-size="10.8" text-anchor="end" fill="#111" stroke="#111" stroke-width="0.22" >2</text>
<line x1="61.90" y1="460.25" x2="65.20" y2="460.25" stroke="#5a5a5a" stroke-width="1.1" />
<text x="56.30" y="464.15" font-size="10.8" text-anchor="end" fill="#111" stroke="#111" stroke-width="0.22" >3</text>
<line x1="61.90" y1="448.70" x2="65.20" y2="448.70" stroke="#5a5a5a" stroke-width="1.1" />
<text x="56.30" y="452.60" font-size="10.8" text-anchor="end" fill="#111" stroke="#111" stroke-width="0.22" >4</text>
<line x1="68.90" y1="502.00" x2="154.50" y2="502.00" stroke="#5a5a5a" stroke-width="1.1" />
<line x1="68.90" y1="502.00" x2="68.90" y2="498.80" stroke="#5a5a5a" stroke-width="1.1" />
<text x="68.90" y="516.00" font-size="10.6" text-anchor="middle" fill="#111" stroke="#111" stroke-width="0.22" >0</text>
<line x1="86.02" y1="502.00" x2="86.02" y2="498.80" stroke="#5a5a5a" stroke-width="1.1" />
<text x="86.02" y="516.00" font-size="10.6" text-anchor="middle" fill="#111" stroke="#111" stroke-width="0.22" >2</text>
<line x1="103.14" y1="502.00" x2="103.14" y2="498.80" stroke="#5a5a5a" stroke-width="1.1" />
<text x="103.14" y="516.00" font-size="10.6" text-anchor="middle" fill="#111" stroke="#111" stroke-width="0.22" >4</text>
<line x1="120.26" y1="502.00" x2="120.26" y2="498.80" stroke="#5a5a5a" stroke-width="1.1" />
<text x="120.26" y="516.00" font-size="10.6" text-anchor="middle" fill="#111" stroke="#111" stroke-width="0.22" >6</text>
<line x1="137.38" y1="502.00" x2="137.38" y2="498.80" stroke="#5a5a5a" stroke-width="1.1" />
<text x="137.38" y="516.00" font-size="10.6" text-anchor="middle" fill="#111" stroke="#111" stroke-width="0.22" >8</text>
<line x1="154.50" y1="502.00" x2="154.50" y2="498.80" stroke="#5a5a5a" stroke-width="1.1" />
<text x="154.50" y="516.00" font-size="10.6" text-anchor="middle" fill="#111" stroke="#111" stroke-width="0.22" >10</text>
<text x="115.20" y="532.20" font-size="15.5" text-anchor="middle" fill="#111" stroke="#111" stroke-width="0.22" >Time (ms)</text>
<path d="M194.1,307.9 H202.8 V301.6 H287.7" fill="none" stroke="#111" stroke-width="1.5"/>
<text x="203.90" y="292.00" font-size="12.4" text-anchor="start" fill="#111" stroke="#111" stroke-width="0.22" >&#916;[Ca<tspan dx="0.37" dy="-4.71" font-size="7.19">2+</tspan><tspan dy="4.71">&#8203;</tspan>] = 8 &#956;M</text>
<line x1="198.80" y1="317.50" x2="198.80" y2="364.10" stroke="#5a5a5a" stroke-width="1.1" />
<line x1="198.80" y1="364.10" x2="202.10" y2="364.10" stroke="#5a5a5a" stroke-width="1.1" />
<text x="193.60" y="368.00" font-size="10.8" text-anchor="end" fill="#111" stroke="#111" stroke-width="0.22" >0</text>
<line x1="198.80" y1="352.45" x2="202.10" y2="352.45" stroke="#5a5a5a" stroke-width="1.1" />
<text x="193.60" y="356.35" font-size="10.8" text-anchor="end" fill="#111" stroke="#111" stroke-width="0.22" >1</text>
<line x1="198.80" y1="340.80" x2="202.10" y2="340.80" stroke="#5a5a5a" stroke-width="1.1" />
<text x="193.60" y="344.70" font-size="10.8" text-anchor="end" fill="#111" stroke="#111" stroke-width="0.22" >2</text>
<line x1="198.80" y1="329.15" x2="202.10" y2="329.15" stroke="#5a5a5a" stroke-width="1.1" />
<text x="193.60" y="333.05" font-size="10.8" text-anchor="end" fill="#111" stroke="#111" stroke-width="0.22" >3</text>
<line x1="198.80" y1="317.50" x2="202.10" y2="317.50" stroke="#5a5a5a" stroke-width="1.1" />
<text x="193.60" y="321.40" font-size="10.8" text-anchor="end" fill="#111" stroke="#111" stroke-width="0.22" >4</text>
<line x1="198.80" y1="382.90" x2="198.80" y2="429.50" stroke="#5a5a5a" stroke-width="1.1" />
<line x1="198.80" y1="429.50" x2="202.10" y2="429.50" stroke="#5a5a5a" stroke-width="1.1" />
<text x="193.60" y="433.40" font-size="10.8" text-anchor="end" fill="#111" stroke="#111" stroke-width="0.22" >0</text>
<line x1="198.80" y1="417.85" x2="202.10" y2="417.85" stroke="#5a5a5a" stroke-width="1.1" />
<text x="193.60" y="421.75" font-size="10.8" text-anchor="end" fill="#111" stroke="#111" stroke-width="0.22" >1</text>
<line x1="198.80" y1="406.20" x2="202.10" y2="406.20" stroke="#5a5a5a" stroke-width="1.1" />
<text x="193.60" y="410.10" font-size="10.8" text-anchor="end" fill="#111" stroke="#111" stroke-width="0.22" >2</text>
<line x1="198.80" y1="394.55" x2="202.10" y2="394.55" stroke="#5a5a5a" stroke-width="1.1" />
<text x="193.60" y="398.45" font-size="10.8" text-anchor="end" fill="#111" stroke="#111" stroke-width="0.22" >3</text>
<line x1="198.80" y1="382.90" x2="202.10" y2="382.90" stroke="#5a5a5a" stroke-width="1.1" />
<text x="193.60" y="386.80" font-size="10.8" text-anchor="end" fill="#111" stroke="#111" stroke-width="0.22" >4</text>
<line x1="198.80" y1="448.70" x2="198.80" y2="494.90" stroke="#5a5a5a" stroke-width="1.1" />
<line x1="198.80" y1="494.90" x2="202.10" y2="494.90" stroke="#5a5a5a" stroke-width="1.1" />
<text x="193.60" y="498.80" font-size="10.8" text-anchor="end" fill="#111" stroke="#111" stroke-width="0.22" >0</text>
<line x1="198.80" y1="483.35" x2="202.10" y2="483.35" stroke="#5a5a5a" stroke-width="1.1" />
<text x="193.60" y="487.25" font-size="10.8" text-anchor="end" fill="#111" stroke="#111" stroke-width="0.22" >1</text>
<line x1="198.80" y1="471.80" x2="202.10" y2="471.80" stroke="#5a5a5a" stroke-width="1.1" />
<text x="193.60" y="475.70" font-size="10.8" text-anchor="end" fill="#111" stroke="#111" stroke-width="0.22" >2</text>
<line x1="198.80" y1="460.25" x2="202.10" y2="460.25" stroke="#5a5a5a" stroke-width="1.1" />
<text x="193.60" y="464.15" font-size="10.8" text-anchor="end" fill="#111" stroke="#111" stroke-width="0.22" >3</text>
<line x1="198.80" y1="448.70" x2="202.10" y2="448.70" stroke="#5a5a5a" stroke-width="1.1" />
<text x="193.60" y="452.60" font-size="10.8" text-anchor="end" fill="#111" stroke="#111" stroke-width="0.22" >4</text>
<line x1="206.80" y1="502.00" x2="292.20" y2="502.00" stroke="#5a5a5a" stroke-width="1.1" />
<line x1="206.80" y1="502.00" x2="206.80" y2="498.80" stroke="#5a5a5a" stroke-width="1.1" />
<text x="206.80" y="516.00" font-size="10.6" text-anchor="middle" fill="#111" stroke="#111" stroke-width="0.22" >0</text>
<line x1="223.88" y1="502.00" x2="223.88" y2="498.80" stroke="#5a5a5a" stroke-width="1.1" />
<text x="223.88" y="516.00" font-size="10.6" text-anchor="middle" fill="#111" stroke="#111" stroke-width="0.22" >2</text>
<line x1="240.96" y1="502.00" x2="240.96" y2="498.80" stroke="#5a5a5a" stroke-width="1.1" />
<text x="240.96" y="516.00" font-size="10.6" text-anchor="middle" fill="#111" stroke="#111" stroke-width="0.22" >4</text>
<line x1="258.04" y1="502.00" x2="258.04" y2="498.80" stroke="#5a5a5a" stroke-width="1.1" />
<text x="258.04" y="516.00" font-size="10.6" text-anchor="middle" fill="#111" stroke="#111" stroke-width="0.22" >6</text>
<line x1="275.12" y1="502.00" x2="275.12" y2="498.80" stroke="#5a5a5a" stroke-width="1.1" />
<text x="275.12" y="516.00" font-size="10.6" text-anchor="middle" fill="#111" stroke="#111" stroke-width="0.22" >8</text>
<line x1="292.20" y1="502.00" x2="292.20" y2="498.80" stroke="#5a5a5a" stroke-width="1.1" />
<text x="292.20" y="516.00" font-size="10.6" text-anchor="middle" fill="#111" stroke="#111" stroke-width="0.22" >10</text>
<text x="253.00" y="532.20" font-size="15.5" text-anchor="middle" fill="#111" stroke="#111" stroke-width="0.22" >Time (ms)</text>
<path d="M326,307.9 H334.1 V295.6 H419.9" fill="none" stroke="#111" stroke-width="1.5"/>
<text x="332.30" y="292.00" font-size="12.4" text-anchor="start" fill="#111" stroke="#111" stroke-width="0.22" >&#916;[Ca<tspan dx="0.37" dy="-4.71" font-size="7.19">2+</tspan><tspan dy="4.71">&#8203;</tspan>] = 16 &#956;M</text>
<line x1="331.60" y1="317.50" x2="331.60" y2="364.10" stroke="#5a5a5a" stroke-width="1.1" />
<line x1="331.60" y1="364.10" x2="334.90" y2="364.10" stroke="#5a5a5a" stroke-width="1.1" />
<text x="325.80" y="368.00" font-size="10.8" text-anchor="end" fill="#111" stroke="#111" stroke-width="0.22" >0</text>
<line x1="331.60" y1="352.45" x2="334.90" y2="352.45" stroke="#5a5a5a" stroke-width="1.1" />
<text x="325.80" y="356.35" font-size="10.8" text-anchor="end" fill="#111" stroke="#111" stroke-width="0.22" >1</text>
<line x1="331.60" y1="340.80" x2="334.90" y2="340.80" stroke="#5a5a5a" stroke-width="1.1" />
<text x="325.80" y="344.70" font-size="10.8" text-anchor="end" fill="#111" stroke="#111" stroke-width="0.22" >2</text>
<line x1="331.60" y1="329.15" x2="334.90" y2="329.15" stroke="#5a5a5a" stroke-width="1.1" />
<text x="325.80" y="333.05" font-size="10.8" text-anchor="end" fill="#111" stroke="#111" stroke-width="0.22" >3</text>
<line x1="331.60" y1="317.50" x2="334.90" y2="317.50" stroke="#5a5a5a" stroke-width="1.1" />
<text x="325.80" y="321.40" font-size="10.8" text-anchor="end" fill="#111" stroke="#111" stroke-width="0.22" >4</text>
<line x1="331.60" y1="382.90" x2="331.60" y2="429.50" stroke="#5a5a5a" stroke-width="1.1" />
<line x1="331.60" y1="429.50" x2="334.90" y2="429.50" stroke="#5a5a5a" stroke-width="1.1" />
<text x="325.80" y="433.40" font-size="10.8" text-anchor="end" fill="#111" stroke="#111" stroke-width="0.22" >0</text>
<line x1="331.60" y1="417.85" x2="334.90" y2="417.85" stroke="#5a5a5a" stroke-width="1.1" />
<text x="325.80" y="421.75" font-size="10.8" text-anchor="end" fill="#111" stroke="#111" stroke-width="0.22" >1</text>
<line x1="331.60" y1="406.20" x2="334.90" y2="406.20" stroke="#5a5a5a" stroke-width="1.1" />
<text x="325.80" y="410.10" font-size="10.8" text-anchor="end" fill="#111" stroke="#111" stroke-width="0.22" >2</text>
<line x1="331.60" y1="394.55" x2="334.90" y2="394.55" stroke="#5a5a5a" stroke-width="1.1" />
<text x="325.80" y="398.45" font-size="10.8" text-anchor="end" fill="#111" stroke="#111" stroke-width="0.22" >3</text>
<line x1="331.60" y1="382.90" x2="334.90" y2="382.90" stroke="#5a5a5a" stroke-width="1.1" />
<text x="325.80" y="386.80" font-size="10.8" text-anchor="end" fill="#111" stroke="#111" stroke-width="0.22" >4</text>
<line x1="331.60" y1="448.70" x2="331.60" y2="494.90" stroke="#5a5a5a" stroke-width="1.1" />
<line x1="331.60" y1="494.90" x2="334.90" y2="494.90" stroke="#5a5a5a" stroke-width="1.1" />
<text x="325.80" y="498.80" font-size="10.8" text-anchor="end" fill="#111" stroke="#111" stroke-width="0.22" >0</text>
<line x1="331.60" y1="483.35" x2="334.90" y2="483.35" stroke="#5a5a5a" stroke-width="1.1" />
<text x="325.80" y="487.25" font-size="10.8" text-anchor="end" fill="#111" stroke="#111" stroke-width="0.22" >1</text>
<line x1="331.60" y1="471.80" x2="334.90" y2="471.80" stroke="#5a5a5a" stroke-width="1.1" />
<text x="325.80" y="475.70" font-size="10.8" text-anchor="end" fill="#111" stroke="#111" stroke-width="0.22" >2</text>
<line x1="331.60" y1="460.25" x2="334.90" y2="460.25" stroke="#5a5a5a" stroke-width="1.1" />
<text x="325.80" y="464.15" font-size="10.8" text-anchor="end" fill="#111" stroke="#111" stroke-width="0.22" >3</text>
<line x1="331.60" y1="448.70" x2="334.90" y2="448.70" stroke="#5a5a5a" stroke-width="1.1" />
<text x="325.80" y="452.60" font-size="10.8" text-anchor="end" fill="#111" stroke="#111" stroke-width="0.22" >4</text>
<line x1="338.60" y1="502.00" x2="424.10" y2="502.00" stroke="#5a5a5a" stroke-width="1.1" />
<line x1="338.60" y1="502.00" x2="338.60" y2="498.80" stroke="#5a5a5a" stroke-width="1.1" />
<text x="338.60" y="516.00" font-size="10.6" text-anchor="middle" fill="#111" stroke="#111" stroke-width="0.22" >0</text>
<line x1="355.70" y1="502.00" x2="355.70" y2="498.80" stroke="#5a5a5a" stroke-width="1.1" />
<text x="355.70" y="516.00" font-size="10.6" text-anchor="middle" fill="#111" stroke="#111" stroke-width="0.22" >2</text>
<line x1="372.80" y1="502.00" x2="372.80" y2="498.80" stroke="#5a5a5a" stroke-width="1.1" />
<text x="372.80" y="516.00" font-size="10.6" text-anchor="middle" fill="#111" stroke="#111" stroke-width="0.22" >4</text>
<line x1="389.90" y1="502.00" x2="389.90" y2="498.80" stroke="#5a5a5a" stroke-width="1.1" />
<text x="389.90" y="516.00" font-size="10.6" text-anchor="middle" fill="#111" stroke="#111" stroke-width="0.22" >6</text>
<line x1="407.00" y1="502.00" x2="407.00" y2="498.80" stroke="#5a5a5a" stroke-width="1.1" />
<text x="407.00" y="516.00" font-size="10.6" text-anchor="middle" fill="#111" stroke="#111" stroke-width="0.22" >8</text>
<line x1="424.10" y1="502.00" x2="424.10" y2="498.80" stroke="#5a5a5a" stroke-width="1.1" />
<text x="424.10" y="516.00" font-size="10.6" text-anchor="middle" fill="#111" stroke="#111" stroke-width="0.22" >10</text>
<text x="384.85" y="532.20" font-size="15.5" text-anchor="middle" fill="#111" stroke="#111" stroke-width="0.22" >Time (ms)</text>
<text transform="translate(37.3,402.5) rotate(-90)" font-size="14.7" text-anchor="middle" fill="#111" stroke="#111" stroke-width="0.22">Free SNAREs</text>
<path d="M73.61,333.18 L74.01,326.25 L74.42,328.42 L74.82,330.47 L75.23,333.95 L75.63,334.48 L76.03,334.01 L76.44,333.59 L76.84,333.53 L77.25,333.77 L77.65,333.99 L78.06,333.92 L78.46,333.83 L78.87,333.75 L79.27,333.62 L79.67,333.58 L80.08,333.62 L80.48,333.58 L80.89,333.32 L81.29,332.95 L81.70,332.74 L82.10,332.85 L82.51,333.15 L82.91,333.37 L83.32,333.40 L83.72,333.37 L84.12,333.37 L84.53,333.40 L84.93,333.26 L85.34,333.12 L85.74,333.15 L86.15,333.16 L86.55,333.13 L86.96,333.20 L87.36,333.31 L87.76,333.42 L88.17,333.52 L88.57,333.85 L88.98,334.44 L89.38,334.82 L89.79,334.88 L90.19,334.94 L90.60,334.98 L91.00,334.96 L91.40,334.85 L91.81,334.86 L92.21,335.08 L92.62,335.25 L93.02,335.46 L93.43,335.84 L93.83,336.11 L94.24,336.28 L94.64,336.50 L95.04,336.71 L95.45,336.80 L95.85,336.81 L96.26,336.74 L96.66,336.59 L97.07,336.48 L97.47,336.49 L97.88,336.67 L98.28,336.79 L98.68,336.71 L99.09,336.58 L99.49,336.46 L99.90,336.38 L100.30,336.51 L100.71,336.67 L101.11,336.67 L101.52,336.59 L101.92,336.52 L102.32,336.48 L102.73,336.50 L103.13,336.57 L103.54,336.62 L103.94,336.50 L104.35,336.24 L104.75,336.05 L105.16,336.00 L105.56,335.92 L105.96,335.85 L106.37,335.81 L106.77,335.80 L107.18,335.79 L107.58,335.77 L107.99,335.84 L108.39,335.94 L108.80,335.95 L109.20,335.91 L109.60,335.86 L110.01,335.83 L110.41,335.88 L110.82,336.01 L111.22,336.08 L111.63,335.92 L112.03,335.48 L112.44,335.15 L112.84,335.14 L113.25,335.27 L113.65,335.37 L114.05,335.32 L114.46,335.14 L114.86,334.95 L115.27,334.84 L115.67,334.72 L116.08,334.58 L116.48,334.48 L116.89,334.63 L117.29,334.93 L117.69,335.02 L118.10,334.96 L118.50,334.97 L118.91,334.93 L119.31,334.78 L119.72,334.53 L120.12,334.32 L120.53,334.10 L120.93,333.54 L121.33,333.03 L121.74,332.87 L122.14,332.84 L122.55,332.83 L122.95,332.77 L123.36,332.90 L123.76,333.12 L124.17,333.16 L124.57,332.93 L124.97,332.59 L125.38,332.40 L125.78,332.51 L126.19,332.82 L126.59,333.02 L127.00,332.90 L127.40,332.51 L127.81,332.22 L128.21,332.33 L128.61,332.91 L129.02,333.49 L129.42,333.61 L129.83,333.29 L130.23,332.91 L130.64,332.87 L131.04,332.86 L131.45,332.80 L131.85,332.85 L132.25,333.23 L132.66,333.80 L133.06,334.18 L133.47,334.31 L133.87,334.43 L134.28,334.55 L134.68,334.75 L135.09,335.13 L135.49,335.47 L135.89,335.60 L136.30,335.62 L136.70,335.63 L137.11,335.71 L137.51,335.82 L137.92,335.92 L138.32,335.99 L138.73,336.01 L139.13,336.00 L139.53,336.00 L139.94,336.10 L140.34,336.27 L140.75,336.37 L141.15,336.30 L141.56,336.12 L141.96,335.98 L142.37,335.99 L142.77,336.11 L143.18,336.22 L143.58,336.17 L143.98,335.88 L144.39,335.56 L144.79,335.46 L145.20,335.51 L145.60,335.57 L146.01,335.57 L146.41,335.62 L146.82,335.73 L147.22,335.77 L147.62,335.48 L148.03,334.90 L148.43,334.52 L148.84,334.64 L149.24,335.09 L149.65,335.43 L150.05,335.40 L150.46,335.22 L150.86,335.05 L151.26,334.97 L151.67,334.73 L152.07,334.45 L152.48,334.37 L152.88,334.43 L153.29,334.53 L153.69,334.56 L154.10,334.46 L154.50,334.30 L154.50,354.46 L154.10,355.04 L153.69,355.37 L153.29,355.20 L152.88,354.78 L152.48,354.46 L152.07,354.52 L151.67,354.88 L151.26,355.19 L150.86,355.12 L150.46,354.65 L150.05,354.16 L149.65,354.01 L149.24,353.90 L148.84,353.77 L148.43,353.70 L148.03,353.67 L147.62,353.66 L147.22,353.64 L146.82,353.93 L146.41,354.55 L146.01,354.94 L145.60,354.93 L145.20,354.87 L144.79,354.78 L144.39,354.66 L143.98,354.48 L143.58,354.28 L143.18,354.08 L142.77,353.77 L142.37,353.44 L141.96,353.18 L141.56,352.78 L141.15,352.31 L140.75,352.01 L140.34,351.71 L139.94,351.35 L139.53,351.10 L139.13,351.07 L138.73,351.22 L138.32,351.30 L137.92,351.20 L137.51,351.02 L137.11,350.90 L136.70,350.96 L136.30,351.22 L135.89,351.49 L135.49,351.57 L135.09,351.47 L134.68,351.35 L134.28,351.41 L133.87,351.67 L133.47,352.01 L133.06,352.23 L132.66,352.51 L132.25,352.90 L131.85,353.18 L131.45,353.36 L131.04,353.59 L130.64,353.78 L130.23,353.82 L129.83,353.66 L129.42,353.53 L129.02,353.58 L128.61,353.59 L128.21,353.57 L127.81,353.59 L127.40,353.51 L127.00,353.39 L126.59,353.36 L126.19,353.51 L125.78,353.73 L125.38,353.86 L124.97,353.80 L124.57,353.65 L124.17,353.59 L123.76,353.80 L123.36,354.26 L122.95,354.62 L122.55,354.68 L122.14,354.63 L121.74,354.60 L121.33,354.59 L120.93,354.29 L120.53,353.95 L120.12,353.90 L119.72,353.91 L119.31,353.91 L118.91,353.92 L118.50,354.26 L118.10,354.78 L117.69,354.97 L117.29,354.70 L116.89,354.21 L116.48,353.82 L116.08,353.60 L115.67,353.35 L115.27,353.10 L114.86,352.89 L114.46,352.84 L114.05,352.80 L113.65,352.63 L113.25,352.59 L112.84,352.61 L112.44,352.49 L112.03,351.88 L111.63,351.13 L111.22,350.85 L110.82,350.99 L110.41,351.23 L110.01,351.37 L109.60,351.33 L109.20,351.20 L108.80,351.14 L108.39,351.37 L107.99,352.01 L107.58,352.56 L107.18,352.61 L106.77,352.32 L106.37,352.04 L105.96,352.09 L105.56,352.52 L105.16,353.02 L104.75,353.22 L104.35,353.00 L103.94,352.63 L103.54,352.54 L103.13,352.64 L102.73,352.74 L102.32,352.83 L101.92,353.07 L101.52,353.54 L101.11,353.90 L100.71,353.86 L100.30,353.47 L99.90,353.14 L99.49,353.14 L99.09,353.17 L98.68,353.19 L98.28,353.26 L97.88,353.77 L97.47,354.41 L97.07,354.60 L96.66,354.27 L96.26,353.81 L95.85,353.71 L95.45,354.21 L95.04,355.02 L94.64,355.63 L94.24,355.75 L93.83,355.59 L93.43,355.50 L93.02,355.65 L92.62,355.76 L92.21,355.80 L91.81,355.85 L91.40,356.14 L91.00,356.43 L90.60,356.41 L90.19,356.00 L89.79,355.46 L89.38,355.18 L88.98,355.32 L88.57,355.63 L88.17,355.72 L87.76,355.60 L87.36,355.50 L86.96,355.42 L86.55,355.30 L86.15,355.06 L85.74,354.88 L85.34,354.76 L84.93,354.40 L84.53,354.02 L84.12,353.86 L83.72,353.83 L83.32,353.83 L82.91,353.74 L82.51,353.59 L82.10,353.44 L81.70,353.39 L81.29,353.47 L80.89,353.59 L80.48,353.62 L80.08,353.49 L79.67,353.28 L79.27,353.10 L78.87,353.05 L78.46,353.19 L78.06,353.27 L77.65,353.15 L77.25,352.92 L76.84,352.69 L76.44,352.57 L76.03,352.40 L75.63,352.24 L75.23,352.17 L74.82,352.20 L74.42,351.16 L74.01,345.36 L73.61,341.70Z" fill="#e6f2df"/>
<path d="M68.90,362.65 L69.33,362.66 L69.76,362.66 L70.18,362.82 L70.61,363.15 L71.04,363.32 L71.47,363.12 L71.90,362.73 L72.32,362.54 L72.75,362.70 L73.18,363.04 L73.61,363.20 L74.04,363.24 L74.46,363.31 L74.89,363.34 L75.32,363.40 L75.75,363.53 L76.18,363.60 L76.60,363.46 L77.03,363.18 L77.46,363.04 L77.89,363.15 L78.32,363.37 L78.74,363.48 L79.17,363.44 L79.60,363.36 L80.03,363.31 L80.46,363.20 L80.88,362.97 L81.31,362.85 L81.74,362.79 L82.17,362.68 L82.60,362.62 L83.02,362.62 L83.45,362.63 L83.88,362.63 L84.31,362.85 L84.74,363.27 L85.16,363.49 L85.59,363.49 L86.02,363.50 L86.45,363.50 L86.88,363.43 L87.30,363.30 L87.73,363.23 L88.16,363.13 L88.59,362.93 L89.02,362.83 L89.44,362.73 L89.87,362.53 L90.30,362.43 L90.73,362.44 L91.16,362.46 L91.58,362.47 L92.01,362.42 L92.44,362.33 L92.87,362.28 L93.30,362.38 L93.72,362.60 L94.15,362.71 L94.58,362.69 L95.01,362.65 L95.44,362.63 L95.86,362.74 L96.29,362.95 L96.72,363.06 L97.15,363.05 L97.58,363.03 L98.00,363.01 L98.43,363.04 L98.86,363.11 L99.29,363.14 L99.72,363.02 L100.14,362.80 L100.57,362.69 L101.00,362.66 L101.43,362.61 L101.86,362.58 L102.28,362.58 L102.71,362.60 L103.14,362.61 L103.57,362.66 L104.00,362.77 L104.42,362.83 L104.85,362.81 L105.28,362.78 L105.71,362.77 L106.14,362.82 L106.56,362.93 L106.99,362.98 L107.42,362.79 L107.85,362.41 L108.28,362.22 L108.70,362.29 L109.13,362.44 L109.56,362.51 L109.99,362.45 L110.42,362.33 L110.84,362.27 L111.27,362.25 L111.70,362.20 L112.13,362.17 L112.56,362.34 L112.98,362.68 L113.41,362.85 L113.84,362.90 L114.27,363.00 L114.70,363.04 L115.12,362.98 L115.55,362.87 L115.98,362.81 L116.41,362.60 L116.84,362.19 L117.26,361.98 L117.69,362.01 L118.12,362.08 L118.55,362.11 L118.98,362.23 L119.40,362.48 L119.83,362.60 L120.26,362.47 L120.69,362.22 L121.12,362.10 L121.54,362.23 L121.97,362.51 L122.40,362.65 L122.83,362.47 L123.26,362.12 L123.68,361.95 L124.11,362.19 L124.54,362.69 L124.97,362.94 L125.40,362.72 L125.82,362.29 L126.25,362.07 L126.68,361.99 L127.11,361.83 L127.54,361.74 L127.96,361.92 L128.39,362.28 L128.82,362.46 L129.25,362.44 L129.68,362.40 L130.10,362.38 L130.53,362.49 L130.96,362.70 L131.39,362.80 L131.82,362.75 L132.24,362.65 L132.67,362.59 L133.10,362.60 L133.53,362.62 L133.96,362.63 L134.38,362.60 L134.81,362.56 L135.24,362.53 L135.67,362.60 L136.10,362.74 L136.52,362.81 L136.95,362.73 L137.38,362.57 L137.81,362.49 L138.24,362.55 L138.66,362.67 L139.09,362.73 L139.52,362.59 L139.95,362.31 L140.38,362.16 L140.80,362.20 L141.23,362.27 L141.66,362.30 L142.09,362.35 L142.52,362.46 L142.94,362.52 L143.37,362.28 L143.80,361.80 L144.23,361.56 L144.66,361.77 L145.08,362.17 L145.51,362.37 L145.94,362.30 L146.37,362.15 L146.80,362.07 L147.22,361.94 L147.65,361.70 L148.08,361.58 L148.51,361.61 L148.94,361.70 L149.36,361.74 L149.79,361.66 L150.22,361.52 L150.65,361.45 L151.08,361.56 L151.50,361.78 L151.93,361.90 L152.36,361.80 L152.79,361.63 L153.22,361.54 L153.64,361.79 L154.07,362.31 L154.50,362.57 L154.50,363.96 L154.07,363.91 L153.64,363.82 L153.22,363.77 L152.79,363.81 L152.36,363.87 L151.93,363.90 L151.50,363.82 L151.08,363.67 L150.65,363.59 L150.22,363.84 L149.79,364.34 L149.36,364.59 L148.94,364.41 L148.51,364.06 L148.08,363.89 L147.65,364.07 L147.22,364.43 L146.80,364.61 L146.37,364.40 L145.94,363.98 L145.51,363.77 L145.08,363.73 L144.66,363.65 L144.23,363.61 L143.80,363.62 L143.37,363.62 L142.94,363.63 L142.52,363.90 L142.09,364.43 L141.66,364.70 L141.23,364.69 L140.80,364.68 L140.38,364.67 L139.95,364.64 L139.52,364.60 L139.09,364.57 L138.66,364.51 L138.24,364.39 L137.81,364.33 L137.38,364.22 L136.95,364.01 L136.52,363.90 L136.10,363.82 L135.67,363.68 L135.24,363.60 L134.81,363.71 L134.38,363.94 L133.96,364.05 L133.53,363.98 L133.10,363.85 L132.67,363.78 L132.24,363.89 L131.82,364.09 L131.39,364.20 L130.96,364.10 L130.53,363.90 L130.10,363.80 L129.68,363.89 L129.25,364.07 L128.82,364.15 L128.39,364.26 L127.96,364.47 L127.54,364.58 L127.11,364.61 L126.68,364.69 L126.25,364.72 L125.82,364.60 L125.40,364.36 L124.97,364.24 L124.54,364.21 L124.11,364.14 L123.68,364.11 L123.26,364.05 L122.83,363.94 L122.40,363.89 L121.97,363.97 L121.54,364.14 L121.12,364.22 L120.69,364.14 L120.26,363.97 L119.83,363.88 L119.40,364.05 L118.98,364.39 L118.55,364.56 L118.12,364.51 L117.69,364.41 L117.26,364.36 L116.84,364.18 L116.41,363.83 L115.98,363.65 L115.55,363.63 L115.12,363.61 L114.70,363.59 L114.27,363.82 L113.84,364.28 L113.41,364.51 L112.98,364.38 L112.56,364.10 L112.13,363.96 L111.70,363.95 L111.27,363.95 L110.84,363.94 L110.42,364.04 L109.99,364.24 L109.56,364.34 L109.13,364.42 L108.70,364.60 L108.28,364.68 L107.85,364.38 L107.42,363.78 L106.99,363.47 L106.56,363.57 L106.14,363.76 L105.71,363.85 L105.28,363.78 L104.85,363.63 L104.42,363.56 L104.00,363.82 L103.57,364.33 L103.14,364.59 L102.71,364.41 L102.28,364.06 L101.86,363.88 L101.43,364.06 L101.00,364.41 L100.57,364.59 L100.14,364.39 L99.72,363.99 L99.29,363.80 L98.86,363.80 L98.43,363.80 L98.00,363.80 L97.58,363.97 L97.15,364.30 L96.72,364.47 L96.29,364.27 L95.86,363.86 L95.44,363.66 L95.01,363.65 L94.58,363.63 L94.15,363.62 L93.72,363.89 L93.30,364.44 L92.87,364.71 L92.44,364.46 L92.01,363.97 L91.58,363.73 L91.16,363.97 L90.73,364.44 L90.30,364.67 L89.87,364.49 L89.44,364.13 L89.02,363.94 L88.59,363.93 L88.16,363.91 L87.73,363.90 L87.30,364.06 L86.88,364.37 L86.45,364.53 L86.02,364.35 L85.59,363.99 L85.16,363.81 L84.74,364.00 L84.31,364.37 L83.88,364.56 L83.45,364.56 L83.02,364.55 L82.60,364.55 L82.17,364.46 L81.74,364.27 L81.31,364.18 L80.88,364.05 L80.46,363.79 L80.03,363.66 L79.60,363.72 L79.17,363.83 L78.74,363.89 L78.32,363.85 L77.89,363.77 L77.46,363.73 L77.03,363.80 L76.60,363.93 L76.18,364.00 L75.75,363.95 L75.32,363.85 L74.89,363.80 L74.46,363.91 L74.04,364.14 L73.61,364.25 L73.18,364.20 L72.75,364.09 L72.32,364.03 L71.90,363.99 L71.47,363.90 L71.04,363.85 L70.61,363.89 L70.18,363.96 L69.76,364.00 L69.33,363.89 L68.90,363.67Z" fill="#e6f2df"/>
<path d="M73.61,334.96 L74.01,335.88 L74.42,337.44 L74.82,338.26 L75.23,341.00 L75.63,342.37 L76.03,345.06 L76.44,345.05 L76.84,344.82 L77.25,344.46 L77.65,344.08 L78.06,343.81 L78.46,343.70 L78.87,343.66 L79.27,343.65 L79.67,343.68 L80.08,343.75 L80.48,343.84 L80.89,343.87 L81.29,343.81 L81.70,343.65 L82.10,343.43 L82.51,343.17 L82.91,342.91 L83.32,342.67 L83.72,342.46 L84.12,342.32 L84.53,342.24 L84.93,342.24 L85.34,342.33 L85.74,342.53 L86.15,342.83 L86.55,343.19 L86.96,343.60 L87.36,344.02 L87.76,344.42 L88.17,344.76 L88.57,345.02 L88.98,345.16 L89.38,345.20 L89.79,345.27 L90.19,345.38 L90.60,345.53 L91.00,345.72 L91.40,345.95 L91.81,346.22 L92.21,346.50 L92.62,346.75 L93.02,346.93 L93.43,347.04 L93.83,347.07 L94.24,346.94 L94.64,346.65 L95.04,346.23 L95.45,345.72 L95.85,345.16 L96.26,344.61 L96.66,344.09 L97.07,343.67 L97.47,343.38 L97.88,343.31 L98.28,343.39 L98.68,343.50 L99.09,343.59 L99.49,343.64 L99.90,343.65 L100.30,343.58 L100.71,343.45 L101.11,343.31 L101.52,343.17 L101.92,343.07 L102.32,343.04 L102.73,343.15 L103.13,343.42 L103.54,343.83 L103.94,344.32 L104.35,344.84 L104.75,345.35 L105.16,345.80 L105.56,346.16 L105.96,346.43 L106.37,346.56 L106.77,346.55 L107.18,346.40 L107.58,346.12 L107.99,345.74 L108.39,345.28 L108.80,344.76 L109.20,344.23 L109.60,343.72 L110.01,343.27 L110.41,342.90 L110.82,342.65 L111.22,342.54 L111.63,342.54 L112.03,342.61 L112.44,342.72 L112.84,342.86 L113.25,342.99 L113.65,343.12 L114.05,343.25 L114.46,343.37 L114.86,343.48 L115.27,343.59 L115.67,343.70 L116.08,343.80 L116.48,344.00 L116.89,344.32 L117.29,344.70 L117.69,345.09 L118.10,345.45 L118.50,345.77 L118.91,346.01 L119.31,346.13 L119.72,346.12 L120.12,346.02 L120.53,345.83 L120.93,345.51 L121.33,345.11 L121.74,344.68 L122.14,344.28 L122.55,343.96 L122.95,343.76 L123.36,343.70 L123.76,343.76 L124.17,343.80 L124.57,343.74 L124.97,343.56 L125.38,343.27 L125.78,342.91 L126.19,342.55 L126.59,342.22 L127.00,341.94 L127.40,341.75 L127.81,341.65 L128.21,341.64 L128.61,341.63 L129.02,341.61 L129.42,341.58 L129.83,341.56 L130.23,341.54 L130.64,341.54 L131.04,341.51 L131.45,341.46 L131.85,341.38 L132.25,341.31 L132.66,341.26 L133.06,341.33 L133.47,341.62 L133.87,342.11 L134.28,342.73 L134.68,343.40 L135.09,344.04 L135.49,344.58 L135.89,344.96 L136.30,345.19 L136.70,345.27 L137.11,345.25 L137.51,345.16 L137.92,345.01 L138.32,344.80 L138.73,344.58 L139.13,344.38 L139.53,344.22 L139.94,344.14 L140.34,344.10 L140.75,344.06 L141.15,344.02 L141.56,343.97 L141.96,343.91 L142.37,343.85 L142.77,343.78 L143.18,343.72 L143.58,343.66 L143.98,343.62 L144.39,343.61 L144.79,343.62 L145.20,343.65 L145.60,343.67 L146.01,343.67 L146.41,343.63 L146.82,343.53 L147.22,343.39 L147.62,343.26 L148.03,343.15 L148.43,343.11 L148.84,343.11 L149.24,343.13 L149.65,343.16 L150.05,343.22 L150.46,343.31 L150.86,343.41 L151.26,343.53 L151.67,343.70 L152.07,343.91 L152.48,344.13 L152.88,344.33 L153.29,344.49 L153.69,344.59 L154.10,344.63 L154.50,344.63" fill="none" stroke="#92c87b" stroke-width="1.6" stroke-dasharray="1.3,1.8"/>
<path d="M68.90,363.52 L69.33,363.51 L69.76,363.51 L70.18,363.51 L70.61,363.50 L71.04,363.50 L71.47,363.49 L71.90,363.49 L72.32,363.48 L72.75,363.48 L73.18,363.48 L73.61,363.47 L74.04,363.47 L74.46,363.46 L74.89,363.46 L75.32,363.46 L75.75,363.45 L76.18,363.45 L76.60,363.44 L77.03,363.44 L77.46,363.44 L77.89,363.43 L78.32,363.43 L78.74,363.42 L79.17,363.42 L79.60,363.42 L80.03,363.41 L80.46,363.41 L80.88,363.40 L81.31,363.40 L81.74,363.40 L82.17,363.39 L82.60,363.39 L83.02,363.38 L83.45,363.38 L83.88,363.37 L84.31,363.37 L84.74,363.37 L85.16,363.36 L85.59,363.36 L86.02,363.35 L86.45,363.35 L86.88,363.35 L87.30,363.34 L87.73,363.34 L88.16,363.33 L88.59,363.33 L89.02,363.33 L89.44,363.32 L89.87,363.32 L90.30,363.31 L90.73,363.31 L91.16,363.31 L91.58,363.30 L92.01,363.30 L92.44,363.29 L92.87,363.29 L93.30,363.29 L93.72,363.28 L94.15,363.28 L94.58,363.27 L95.01,363.27 L95.44,363.26 L95.86,363.26 L96.29,363.26 L96.72,363.25 L97.15,363.25 L97.58,363.24 L98.00,363.24 L98.43,363.24 L98.86,363.23 L99.29,363.23 L99.72,363.22 L100.14,363.22 L100.57,363.22 L101.00,363.21 L101.43,363.21 L101.86,363.20 L102.28,363.20 L102.71,363.20 L103.14,363.19 L103.57,363.19 L104.00,363.18 L104.42,363.18 L104.85,363.17 L105.28,363.17 L105.71,363.17 L106.14,363.16 L106.56,363.16 L106.99,363.15 L107.42,363.15 L107.85,363.15 L108.28,363.14 L108.70,363.14 L109.13,363.13 L109.56,363.13 L109.99,363.13 L110.42,363.12 L110.84,363.12 L111.27,363.11 L111.70,363.11 L112.13,363.11 L112.56,363.10 L112.98,363.10 L113.41,363.09 L113.84,363.09 L114.27,363.09 L114.70,363.08 L115.12,363.08 L115.55,363.07 L115.98,363.07 L116.41,363.06 L116.84,363.06 L117.26,363.06 L117.69,363.05 L118.12,363.05 L118.55,363.04 L118.98,363.04 L119.40,363.04 L119.83,363.03 L120.26,363.03 L120.69,363.02 L121.12,363.02 L121.54,363.02 L121.97,363.01 L122.40,363.01 L122.83,363.00 L123.26,363.00 L123.68,363.00 L124.11,362.99 L124.54,362.99 L124.97,362.98 L125.40,362.98 L125.82,362.98 L126.25,362.97 L126.68,362.97 L127.11,362.96 L127.54,362.96 L127.96,362.95 L128.39,362.95 L128.82,362.95 L129.25,362.94 L129.68,362.94 L130.10,362.93 L130.53,362.93 L130.96,362.93 L131.39,362.92 L131.82,362.92 L132.24,362.91 L132.67,362.91 L133.10,362.91 L133.53,362.90 L133.96,362.90 L134.38,362.89 L134.81,362.89 L135.24,362.89 L135.67,362.88 L136.10,362.88 L136.52,362.87 L136.95,362.87 L137.38,362.87 L137.81,362.86 L138.24,362.86 L138.66,362.85 L139.09,362.85 L139.52,362.84 L139.95,362.84 L140.38,362.84 L140.80,362.83 L141.23,362.83 L141.66,362.82 L142.09,362.82 L142.52,362.82 L142.94,362.81 L143.37,362.81 L143.80,362.80 L144.23,362.80 L144.66,362.80 L145.08,362.79 L145.51,362.79 L145.94,362.78 L146.37,362.78 L146.80,362.78 L147.22,362.77 L147.65,362.77 L148.08,362.76 L148.51,362.76 L148.94,362.76 L149.36,362.75 L149.79,362.75 L150.22,362.74 L150.65,362.74 L151.08,362.73 L151.50,362.73 L151.93,362.73 L152.36,362.72 L152.79,362.72 L153.22,362.71 L153.64,362.71 L154.07,362.71 L154.50,362.70" fill="none" stroke="#92c87b" stroke-width="1.65"/>
<path d="M69.50,395.38 L69.92,392.78 L70.35,392.16 L70.77,392.21 L71.20,392.28 L71.62,392.32 L72.05,392.33 L72.47,392.35 L72.90,392.39 L73.32,392.33 L73.75,392.26 L74.17,392.27 L74.60,392.23 L75.02,392.15 L75.45,392.18 L75.87,392.45 L76.30,392.79 L76.72,392.90 L77.15,393.02 L77.57,393.75 L78.00,394.61 L78.42,394.80 L78.85,394.72 L79.27,394.69 L79.70,394.79 L80.12,394.95 L80.55,394.97 L80.97,394.71 L81.40,394.35 L81.82,394.20 L82.25,394.03 L82.67,393.79 L83.10,393.69 L83.52,393.94 L83.95,394.35 L84.37,394.47 L84.80,394.23 L85.22,393.88 L85.65,393.74 L86.07,393.91 L86.50,394.20 L86.92,394.31 L87.35,394.06 L87.77,393.64 L88.20,393.47 L88.62,393.59 L89.05,393.80 L89.47,393.88 L89.90,393.93 L90.32,394.02 L90.75,394.05 L91.17,394.14 L91.60,394.33 L92.02,394.41 L92.45,394.35 L92.87,394.26 L93.30,394.20 L93.72,393.96 L94.15,393.50 L94.57,393.26 L95.00,393.43 L95.42,393.82 L95.85,394.02 L96.27,393.88 L96.70,393.60 L97.12,393.44 L97.55,393.44 L97.97,393.45 L98.40,393.44 L98.82,393.45 L99.25,393.50 L99.67,393.52 L100.10,393.44 L100.52,393.27 L100.95,393.17 L101.37,393.29 L101.80,393.62 L102.22,393.82 L102.65,393.70 L103.07,393.39 L103.50,393.19 L103.92,393.31 L104.35,393.66 L104.77,393.89 L105.20,393.87 L105.62,393.78 L106.05,393.73 L106.47,393.64 L106.90,393.38 L107.32,393.20 L107.75,393.29 L108.17,393.56 L108.60,393.76 L109.02,393.79 L109.45,393.82 L109.87,393.85 L110.30,393.80 L110.72,393.60 L111.15,393.45 L111.57,393.43 L112.00,393.35 L112.42,393.30 L112.85,393.39 L113.27,393.75 L113.70,394.03 L114.12,393.97 L114.55,393.62 L114.97,393.32 L115.40,393.32 L115.82,393.38 L116.25,393.43 L116.67,393.51 L117.10,393.83 L117.52,394.11 L117.95,394.08 L118.37,393.79 L118.80,393.53 L119.22,393.57 L119.65,393.88 L120.07,394.16 L120.50,394.15 L120.92,393.88 L121.35,393.62 L121.77,393.59 L122.20,393.57 L122.62,393.55 L123.05,393.58 L123.47,393.71 L123.90,393.83 L124.32,393.86 L124.75,393.88 L125.17,393.91 L125.60,393.89 L126.02,393.69 L126.45,393.48 L126.87,393.49 L127.30,393.80 L127.72,394.12 L128.15,394.17 L128.57,394.06 L129.00,393.93 L129.42,393.91 L129.85,393.90 L130.27,393.90 L130.70,393.93 L131.12,394.15 L131.55,394.41 L131.97,394.43 L132.40,394.06 L132.82,393.61 L133.25,393.54 L133.67,393.87 L134.10,394.27 L134.52,394.36 L134.95,394.10 L135.37,393.78 L135.80,393.71 L136.22,393.87 L136.65,394.05 L137.07,394.13 L137.50,394.33 L137.92,394.59 L138.35,394.67 L138.77,394.56 L139.20,394.41 L139.62,394.36 L140.05,394.26 L140.47,394.11 L140.90,394.07 L141.32,394.13 L141.75,394.20 L142.17,394.23 L142.60,394.06 L143.02,393.82 L143.45,393.74 L143.87,394.08 L144.30,394.59 L144.72,394.78 L145.15,394.49 L145.57,394.04 L146.00,393.87 L146.42,393.87 L146.85,393.85 L147.27,393.85 L147.70,394.10 L148.12,394.51 L148.55,394.68 L148.97,394.57 L149.40,394.37 L149.82,394.29 L150.25,394.44 L150.67,394.71 L151.10,394.83 L151.52,394.67 L151.95,394.36 L152.37,394.22 L152.80,394.19 L153.22,394.12 L153.65,394.09 L154.07,394.21 L154.50,394.44 L154.50,406.85 L154.07,406.95 L153.65,407.00 L153.22,406.95 L152.80,406.85 L152.37,406.80 L151.95,406.81 L151.52,406.83 L151.10,406.84 L150.67,406.92 L150.25,407.11 L149.82,407.21 L149.40,407.04 L148.97,406.64 L148.55,406.41 L148.12,406.40 L147.70,406.38 L147.27,406.37 L146.85,406.35 L146.42,406.29 L146.00,406.25 L145.57,406.38 L145.15,406.73 L144.72,406.96 L144.30,406.85 L143.87,406.52 L143.45,406.31 L143.02,406.48 L142.60,406.99 L142.17,407.35 L141.75,407.24 L141.32,406.89 L140.90,406.64 L140.47,406.66 L140.05,406.75 L139.62,406.82 L139.20,406.85 L138.77,406.92 L138.35,406.97 L137.92,406.90 L137.50,406.61 L137.07,406.40 L136.65,406.43 L136.22,406.57 L135.80,406.69 L135.37,406.73 L134.95,406.82 L134.52,406.89 L134.10,406.95 L133.67,407.14 L133.25,407.30 L132.82,407.33 L132.40,407.36 L131.97,407.40 L131.55,407.35 L131.12,407.12 L130.70,406.92 L130.27,406.87 L129.85,406.72 L129.42,406.59 L129.00,406.66 L128.57,407.11 L128.15,407.52 L127.72,407.54 L127.30,407.36 L126.87,407.18 L126.45,407.16 L126.02,407.14 L125.60,407.12 L125.17,407.10 L124.75,406.95 L124.32,406.81 L123.90,406.80 L123.47,406.87 L123.05,406.94 L122.62,406.93 L122.20,406.81 L121.77,406.68 L121.35,406.67 L120.92,406.81 L120.50,406.95 L120.07,407.01 L119.65,407.29 L119.22,407.60 L118.80,407.64 L118.37,407.49 L117.95,407.33 L117.52,407.27 L117.10,407.03 L116.67,406.77 L116.25,406.74 L115.82,407.14 L115.40,407.60 L114.97,407.68 L114.55,407.32 L114.12,406.88 L113.70,406.78 L113.27,406.95 L112.85,407.15 L112.42,407.21 L112.00,407.24 L111.57,407.29 L111.15,407.31 L110.72,407.44 L110.30,407.62 L109.87,407.66 L109.45,407.52 L109.02,407.33 L108.60,407.26 L108.17,407.03 L107.75,406.69 L107.32,406.60 L106.90,406.74 L106.47,406.93 L106.05,407.00 L105.62,406.94 L105.20,406.86 L104.77,406.84 L104.35,406.86 L103.92,406.89 L103.50,406.91 L103.07,406.84 L102.65,406.73 L102.22,406.70 L101.80,407.05 L101.37,407.61 L100.95,407.84 L100.52,407.72 L100.10,407.52 L99.67,407.44 L99.25,407.52 L98.82,407.65 L98.40,407.71 L97.97,407.72 L97.55,407.72 L97.12,407.72 L96.70,407.55 L96.27,407.22 L95.85,407.07 L95.42,407.02 L95.00,406.93 L94.57,406.88 L94.15,406.96 L93.72,407.11 L93.30,407.19 L92.87,407.37 L92.45,407.74 L92.02,407.93 L91.60,408.14 L91.17,408.77 L90.75,409.66 L90.32,410.31 L89.90,410.39 L89.47,409.98 L89.05,409.20 L88.62,408.44 L88.20,407.85 L87.77,407.64 L87.35,407.76 L86.92,407.84 L86.50,407.83 L86.07,407.81 L85.65,407.80 L85.22,407.73 L84.80,407.55 L84.37,407.44 L83.95,407.52 L83.52,407.75 L83.10,407.90 L82.67,407.88 L82.25,407.80 L81.82,407.74 L81.40,407.77 L80.97,407.85 L80.55,407.90 L80.12,407.87 L79.70,407.78 L79.27,407.71 L78.85,407.59 L78.42,407.19 L78.00,406.89 L77.57,406.92 L77.15,407.09 L76.72,407.18 L76.30,407.05 L75.87,406.88 L75.45,406.60 L75.02,406.13 L74.60,405.46 L74.17,404.90 L73.75,404.71 L73.32,404.89 L72.90,405.17 L72.47,405.42 L72.05,405.64 L71.62,406.06 L71.20,406.79 L70.77,407.61 L70.35,408.28 L69.92,408.75 L69.50,409.25Z" fill="#fde3bb"/>
<path d="M68.90,429.42 L69.33,429.27 L69.76,429.18 L70.18,429.09 L70.61,428.96 L71.04,428.87 L71.47,428.97 L71.90,429.20 L72.32,429.29 L72.75,429.30 L73.18,429.36 L73.61,429.37 L74.04,429.30 L74.46,429.20 L74.89,429.13 L75.32,429.16 L75.75,429.27 L76.18,429.31 L76.60,429.14 L77.03,428.84 L77.46,428.67 L77.89,428.55 L78.32,428.35 L78.74,428.24 L79.17,428.39 L79.60,428.72 L80.03,428.86 L80.46,428.70 L80.88,428.41 L81.31,428.25 L81.74,428.34 L82.17,428.56 L82.60,428.65 L83.02,428.45 L83.45,428.08 L83.88,427.88 L84.31,427.93 L84.74,428.07 L85.16,428.12 L85.59,428.12 L86.02,428.17 L86.45,428.17 L86.88,428.22 L87.30,428.35 L87.73,428.40 L88.16,428.34 L88.59,428.24 L89.02,428.18 L89.44,427.97 L89.87,427.59 L90.30,427.38 L90.73,427.51 L91.16,427.81 L91.58,427.94 L92.01,427.81 L92.44,427.57 L92.87,427.44 L93.30,427.41 L93.72,427.41 L94.15,427.38 L94.58,427.38 L95.01,427.39 L95.44,427.39 L95.86,427.29 L96.29,427.13 L96.72,427.03 L97.15,427.13 L97.58,427.37 L98.00,427.47 L98.43,427.31 L98.86,427.02 L99.29,426.86 L99.72,426.97 L100.14,427.21 L100.57,427.32 L101.00,427.25 L101.43,427.15 L101.86,427.07 L102.28,426.93 L102.71,426.68 L103.14,426.54 L103.57,426.62 L104.00,426.81 L104.42,426.89 L104.85,426.87 L105.28,426.86 L105.71,426.83 L106.14,426.72 L106.56,426.51 L106.99,426.39 L107.42,426.32 L107.85,426.22 L108.28,426.15 L108.70,426.27 L109.13,426.53 L109.56,426.64 L109.99,426.45 L110.42,426.10 L110.84,425.91 L111.27,425.90 L111.70,425.91 L112.13,425.89 L112.56,425.99 L112.98,426.23 L113.41,426.33 L113.84,426.16 L114.27,425.86 L114.70,425.70 L115.12,425.79 L115.55,426.02 L115.98,426.12 L116.41,425.96 L116.84,425.66 L117.26,425.50 L117.69,425.45 L118.12,425.39 L118.55,425.34 L118.98,425.36 L119.40,425.43 L119.83,425.45 L120.26,425.42 L120.69,425.40 L121.12,425.37 L121.54,425.23 L121.97,424.99 L122.40,424.86 L122.83,424.96 L123.26,425.21 L123.68,425.31 L124.11,425.21 L124.54,425.05 L124.97,424.95 L125.40,424.91 L125.82,424.86 L126.25,424.82 L126.68,424.89 L127.11,425.07 L127.54,425.14 L127.96,424.90 L128.39,424.47 L128.82,424.24 L129.25,424.37 L129.68,424.67 L130.10,424.80 L130.53,424.62 L130.96,424.30 L131.39,424.13 L131.82,424.17 L132.24,424.28 L132.67,424.32 L133.10,424.39 L133.53,424.57 L133.96,424.64 L134.38,424.54 L134.81,424.37 L135.24,424.27 L135.67,424.17 L136.10,424.00 L136.52,423.90 L136.95,423.89 L137.38,423.92 L137.81,423.91 L138.24,423.77 L138.66,423.52 L139.09,423.38 L139.52,423.56 L139.95,423.93 L140.38,424.10 L140.80,423.88 L141.23,423.47 L141.66,423.25 L142.09,423.21 L142.52,423.16 L142.94,423.12 L143.37,423.24 L143.80,423.53 L144.23,423.66 L144.66,423.55 L145.08,423.35 L145.51,423.24 L145.94,423.31 L146.37,423.49 L146.80,423.56 L147.22,423.40 L147.65,423.12 L148.08,422.96 L148.51,422.90 L148.94,422.81 L149.36,422.75 L149.79,422.81 L150.22,422.96 L150.65,423.02 L151.08,422.87 L151.50,422.60 L151.93,422.45 L152.36,422.54 L152.79,422.76 L153.22,422.85 L153.64,422.86 L154.07,422.91 L154.50,422.92 L154.50,429.30 L154.07,429.33 L153.64,429.39 L153.22,429.42 L152.79,429.49 L152.36,429.62 L151.93,429.68 L151.50,429.64 L151.08,429.56 L150.65,429.52 L150.22,429.56 L149.79,429.63 L149.36,429.67 L148.94,429.63 L148.51,429.55 L148.08,429.51 L147.65,429.52 L147.22,429.53 L146.80,429.54 L146.37,429.61 L145.94,429.76 L145.51,429.83 L145.08,429.67 L144.66,429.35 L144.23,429.18 L143.80,429.18 L143.37,429.16 L142.94,429.15 L142.52,429.12 L142.09,429.07 L141.66,429.05 L141.23,429.19 L140.80,429.47 L140.38,429.61 L139.95,429.48 L139.52,429.21 L139.09,429.07 L138.66,429.28 L138.24,429.70 L137.81,429.91 L137.38,429.76 L136.95,429.46 L136.52,429.32 L136.10,429.35 L135.67,429.42 L135.24,429.46 L134.81,429.48 L134.38,429.54 L133.96,429.57 L133.53,429.45 L133.10,429.20 L132.67,429.08 L132.24,429.14 L131.82,429.26 L131.39,429.32 L130.96,429.36 L130.53,429.43 L130.10,429.46 L129.68,429.55 L129.25,429.71 L128.82,429.79 L128.39,429.80 L127.96,429.83 L127.54,429.84 L127.11,429.74 L126.68,429.53 L126.25,429.43 L125.82,429.36 L125.40,429.22 L124.97,429.15 L124.54,429.35 L124.11,429.75 L123.68,429.94 L123.26,429.86 L122.83,429.68 L122.40,429.60 L121.97,429.59 L121.54,429.57 L121.12,429.56 L120.69,429.49 L120.26,429.35 L119.83,429.28 L119.40,429.31 L118.98,429.37 L118.55,429.40 L118.12,429.34 L117.69,429.21 L117.26,429.15 L116.84,429.22 L116.41,429.34 L115.98,429.40 L115.55,429.54 L115.12,429.81 L114.70,429.94 L114.27,429.87 L113.84,429.72 L113.41,429.64 L112.98,429.52 L112.56,429.29 L112.13,429.17 L111.70,429.37 L111.27,429.76 L110.84,429.96 L110.42,429.78 L109.99,429.40 L109.56,429.21 L109.13,429.30 L108.70,429.47 L108.28,429.56 L107.85,429.58 L107.42,429.61 L106.99,429.63 L106.56,429.71 L106.14,429.85 L105.71,429.93 L105.28,429.85 L104.85,429.68 L104.42,429.60 L104.00,429.46 L103.57,429.19 L103.14,429.05 L102.71,429.12 L102.28,429.28 L101.86,429.36 L101.43,429.32 L101.00,429.25 L100.57,429.21 L100.14,429.22 L99.72,429.24 L99.29,429.25 L98.86,429.21 L98.43,429.11 L98.00,429.06 L97.58,429.29 L97.15,429.74 L96.72,429.96 L96.29,429.87 L95.86,429.71 L95.44,429.62 L95.01,429.67 L94.58,429.77 L94.15,429.82 L93.72,429.82 L93.30,429.82 L92.87,429.82 L92.44,429.68 L92.01,429.42 L91.58,429.28 L91.16,429.24 L90.73,429.16 L90.30,429.12 L89.87,429.18 L89.44,429.30 L89.02,429.36 L88.59,429.51 L88.16,429.81 L87.73,429.95 L87.30,429.75 L86.88,429.35 L86.45,429.14 L86.02,429.26 L85.59,429.48 L85.16,429.59 L84.74,429.61 L84.31,429.66 L83.88,429.68 L83.45,429.73 L83.02,429.83 L82.60,429.88 L82.17,429.87 L81.74,429.86 L81.31,429.85 L80.88,429.78 L80.46,429.63 L80.03,429.56 L79.60,429.65 L79.17,429.84 L78.74,429.93 L78.32,429.90 L77.89,429.83 L77.46,429.80 L77.03,429.83 L76.60,429.90 L76.18,429.93 L75.75,429.89 L75.32,429.81 L74.89,429.78 L74.46,429.61 L74.04,429.28 L73.61,429.11 L73.18,429.18 L72.75,429.32 L72.32,429.39 L71.90,429.43 L71.47,429.52 L71.04,429.57 L70.61,429.45 L70.18,429.21 L69.76,429.09 L69.33,429.21 L68.90,429.46Z" fill="#fde3bb"/>
<path d="M69.50,402.75 L69.92,402.35 L70.35,401.28 L70.77,399.92 L71.20,398.75 L71.62,398.17 L72.05,398.24 L72.47,398.55 L72.90,398.94 L73.32,399.21 L73.75,399.21 L74.17,398.89 L74.60,398.33 L75.02,397.67 L75.45,397.11 L75.87,396.78 L76.30,396.81 L76.72,397.30 L77.15,398.12 L77.57,398.98 L78.00,399.58 L78.42,399.75 L78.85,400.11 L79.27,400.79 L79.70,401.52 L80.12,402.00 L80.55,402.08 L80.97,401.99 L81.40,401.81 L81.82,401.58 L82.25,401.33 L82.67,401.12 L83.10,400.98 L83.52,400.94 L83.95,400.90 L84.37,400.82 L84.80,400.71 L85.22,400.59 L85.65,400.47 L86.07,400.38 L86.50,400.32 L86.92,400.30 L87.35,400.11 L87.77,399.70 L88.20,399.20 L88.62,398.76 L89.05,398.52 L89.47,398.65 L89.90,399.35 L90.32,400.32 L90.75,401.14 L91.17,401.45 L91.60,401.28 L92.02,400.83 L92.45,400.23 L92.87,399.65 L93.30,399.26 L93.72,399.17 L94.15,399.26 L94.57,399.43 L95.00,399.66 L95.42,399.91 L95.85,400.14 L96.27,400.33 L96.70,400.45 L97.12,400.46 L97.55,400.43 L97.97,400.41 L98.40,400.41 L98.82,400.45 L99.25,400.51 L99.67,400.60 L100.10,400.71 L100.52,400.84 L100.95,400.98 L101.37,401.10 L101.80,401.20 L102.22,401.27 L102.65,401.09 L103.07,400.45 L103.50,399.73 L103.92,399.35 L104.35,399.43 L104.77,399.76 L105.20,400.23 L105.62,400.73 L106.05,401.13 L106.47,401.31 L106.90,401.31 L107.32,401.27 L107.75,401.21 L108.17,401.13 L108.60,401.03 L109.02,400.93 L109.45,400.82 L109.87,400.72 L110.30,400.63 L110.72,400.55 L111.15,400.49 L111.57,400.45 L112.00,400.44 L112.42,400.42 L112.85,400.41 L113.27,400.41 L113.70,400.40 L114.12,400.40 L114.55,400.38 L114.97,400.37 L115.40,400.35 L115.82,400.33 L116.25,400.32 L116.67,400.32 L117.10,400.32 L117.52,400.33 L117.95,400.36 L118.37,400.39 L118.80,400.43 L119.22,400.46 L119.65,400.49 L120.07,400.50 L120.50,400.50 L120.92,400.50 L121.35,400.50 L121.77,400.50 L122.20,400.50 L122.62,400.49 L123.05,400.49 L123.47,400.49 L123.90,400.49 L124.32,400.48 L124.75,400.47 L125.17,400.45 L125.60,400.43 L126.02,400.41 L126.45,400.40 L126.87,400.39 L127.30,400.39 L127.72,400.38 L128.15,400.36 L128.57,400.33 L129.00,400.31 L129.42,400.28 L129.85,400.26 L130.27,400.25 L130.70,400.25 L131.12,400.27 L131.55,400.31 L131.97,400.35 L132.40,400.41 L132.82,400.46 L133.25,400.50 L133.67,400.52 L134.10,400.53 L134.52,400.51 L134.95,400.47 L135.37,400.42 L135.80,400.36 L136.22,400.31 L136.65,400.27 L137.07,400.24 L137.50,400.24 L137.92,400.25 L138.35,400.28 L138.77,400.32 L139.20,400.36 L139.62,400.40 L140.05,400.44 L140.47,400.46 L140.90,400.46 L141.32,400.45 L141.75,400.42 L142.17,400.39 L142.60,400.34 L143.02,400.30 L143.45,400.27 L143.87,400.25 L144.30,400.24 L144.72,400.25 L145.15,400.28 L145.57,400.32 L146.00,400.36 L146.42,400.41 L146.85,400.44 L147.27,400.47 L147.70,400.47 L148.12,400.46 L148.55,400.43 L148.97,400.39 L149.40,400.35 L149.82,400.30 L150.25,400.26 L150.67,400.24 L151.10,400.23 L151.52,400.23 L151.95,400.22 L152.37,400.22 L152.80,400.22 L153.22,400.21 L153.65,400.21 L154.07,400.21 L154.50,400.20" fill="none" stroke="#fba81e" stroke-width="1.6" stroke-dasharray="1.3,1.8"/>
<path d="M68.90,429.50 L69.33,429.49 L69.76,429.48 L70.18,429.47 L70.61,429.45 L71.04,429.44 L71.47,429.43 L71.90,429.42 L72.32,429.41 L72.75,429.40 L73.18,429.38 L73.61,429.37 L74.04,429.36 L74.46,429.35 L74.89,429.34 L75.32,429.33 L75.75,429.31 L76.18,429.30 L76.60,429.29 L77.03,429.28 L77.46,429.27 L77.89,429.26 L78.32,429.24 L78.74,429.23 L79.17,429.22 L79.60,429.21 L80.03,429.20 L80.46,429.19 L80.88,429.17 L81.31,429.16 L81.74,429.15 L82.17,429.14 L82.60,429.13 L83.02,429.12 L83.45,429.10 L83.88,429.09 L84.31,429.08 L84.74,429.07 L85.16,429.06 L85.59,429.05 L86.02,429.03 L86.45,429.02 L86.88,429.01 L87.30,429.00 L87.73,428.99 L88.16,428.98 L88.59,428.96 L89.02,428.95 L89.44,428.94 L89.87,428.93 L90.30,428.92 L90.73,428.91 L91.16,428.89 L91.58,428.88 L92.01,428.87 L92.44,428.86 L92.87,428.85 L93.30,428.84 L93.72,428.82 L94.15,428.81 L94.58,428.80 L95.01,428.79 L95.44,428.78 L95.86,428.77 L96.29,428.75 L96.72,428.74 L97.15,428.73 L97.58,428.72 L98.00,428.71 L98.43,428.70 L98.86,428.68 L99.29,428.67 L99.72,428.66 L100.14,428.65 L100.57,428.64 L101.00,428.63 L101.43,428.61 L101.86,428.60 L102.28,428.59 L102.71,428.58 L103.14,428.57 L103.57,428.56 L104.00,428.54 L104.42,428.53 L104.85,428.52 L105.28,428.51 L105.71,428.50 L106.14,428.49 L106.56,428.47 L106.99,428.46 L107.42,428.45 L107.85,428.44 L108.28,428.43 L108.70,428.42 L109.13,428.40 L109.56,428.39 L109.99,428.38 L110.42,428.37 L110.84,428.36 L111.27,428.35 L111.70,428.33 L112.13,428.32 L112.56,428.31 L112.98,428.30 L113.41,428.29 L113.84,428.28 L114.27,428.27 L114.70,428.25 L115.12,428.24 L115.55,428.23 L115.98,428.22 L116.41,428.21 L116.84,428.20 L117.26,428.18 L117.69,428.17 L118.12,428.16 L118.55,428.15 L118.98,428.14 L119.40,428.13 L119.83,428.11 L120.26,428.10 L120.69,428.09 L121.12,428.08 L121.54,428.07 L121.97,428.06 L122.40,428.04 L122.83,428.03 L123.26,428.02 L123.68,428.01 L124.11,428.00 L124.54,427.99 L124.97,427.97 L125.40,427.96 L125.82,427.95 L126.25,427.94 L126.68,427.93 L127.11,427.92 L127.54,427.90 L127.96,427.89 L128.39,427.88 L128.82,427.87 L129.25,427.86 L129.68,427.85 L130.10,427.83 L130.53,427.82 L130.96,427.81 L131.39,427.80 L131.82,427.79 L132.24,427.78 L132.67,427.76 L133.10,427.75 L133.53,427.74 L133.96,427.73 L134.38,427.72 L134.81,427.71 L135.24,427.69 L135.67,427.68 L136.10,427.67 L136.52,427.66 L136.95,427.65 L137.38,427.64 L137.81,427.62 L138.24,427.61 L138.66,427.60 L139.09,427.59 L139.52,427.58 L139.95,427.57 L140.38,427.55 L140.80,427.54 L141.23,427.53 L141.66,427.52 L142.09,427.51 L142.52,427.50 L142.94,427.48 L143.37,427.47 L143.80,427.46 L144.23,427.45 L144.66,427.44 L145.08,427.43 L145.51,427.41 L145.94,427.40 L146.37,427.39 L146.80,427.38 L147.22,427.37 L147.65,427.36 L148.08,427.34 L148.51,427.33 L148.94,427.32 L149.36,427.31 L149.79,427.30 L150.22,427.29 L150.65,427.27 L151.08,427.26 L151.50,427.25 L151.93,427.24 L152.36,427.23 L152.79,427.22 L153.22,427.20 L153.64,427.19 L154.07,427.18 L154.50,427.17" fill="none" stroke="#fba81e" stroke-width="1.65"/>
<path d="M69.76,458.86 L70.18,458.97 L70.60,459.04 L71.03,459.04 L71.45,458.94 L71.87,458.81 L72.30,458.70 L72.72,458.67 L73.15,458.68 L73.57,458.71 L73.99,458.74 L74.42,458.76 L74.84,458.77 L75.26,458.83 L75.69,458.90 L76.11,458.96 L76.54,458.98 L76.96,458.96 L77.38,458.94 L77.81,458.91 L78.23,458.90 L78.65,458.91 L79.08,458.96 L79.50,459.02 L79.93,459.07 L80.35,459.08 L80.77,459.07 L81.20,459.05 L81.62,459.03 L82.04,459.03 L82.47,459.00 L82.89,458.94 L83.32,458.86 L83.74,458.80 L84.16,458.79 L84.59,458.78 L85.01,458.76 L85.43,458.74 L85.86,458.74 L86.28,458.77 L86.70,458.85 L87.13,458.95 L87.55,459.00 L87.98,459.00 L88.40,458.94 L88.82,458.86 L89.25,458.79 L89.67,458.77 L90.09,458.80 L90.52,458.84 L90.94,458.89 L91.37,458.92 L91.79,458.92 L92.21,458.90 L92.64,458.87 L93.06,458.85 L93.48,458.84 L93.91,458.82 L94.33,458.78 L94.76,458.73 L95.18,458.71 L95.60,458.73 L96.03,458.81 L96.45,458.90 L96.87,458.97 L97.30,458.99 L97.72,458.99 L98.15,459.00 L98.57,459.01 L98.99,459.01 L99.42,459.00 L99.84,458.97 L100.26,458.93 L100.69,458.90 L101.11,458.89 L101.53,458.84 L101.96,458.75 L102.38,458.67 L102.81,458.64 L103.23,458.68 L103.65,458.76 L104.08,458.85 L104.50,458.90 L104.92,458.90 L105.35,458.85 L105.77,458.78 L106.20,458.72 L106.62,458.71 L107.04,458.75 L107.47,458.85 L107.89,458.95 L108.31,459.01 L108.74,459.00 L109.16,458.93 L109.59,458.84 L110.01,458.77 L110.43,458.75 L110.86,458.74 L111.28,458.72 L111.70,458.71 L112.13,458.70 L112.55,458.72 L112.98,458.78 L113.40,458.86 L113.82,458.91 L114.25,458.93 L114.67,458.94 L115.09,458.97 L115.52,458.99 L115.94,459.00 L116.37,459.00 L116.79,459.02 L117.21,459.04 L117.64,459.05 L118.06,459.05 L118.48,459.04 L118.91,459.04 L119.33,459.03 L119.75,459.03 L120.18,459.02 L120.60,459.00 L121.03,458.98 L121.45,458.96 L121.87,458.95 L122.30,458.92 L122.72,458.87 L123.14,458.83 L123.57,458.82 L123.99,458.80 L124.42,458.76 L124.84,458.72 L125.26,458.69 L125.69,458.71 L126.11,458.78 L126.53,458.88 L126.96,458.96 L127.38,458.97 L127.81,458.92 L128.23,458.82 L128.65,458.72 L129.08,458.67 L129.50,458.69 L129.92,458.79 L130.35,458.91 L130.77,459.00 L131.20,459.02 L131.62,458.99 L132.04,458.93 L132.47,458.89 L132.89,458.86 L133.31,458.85 L133.74,458.82 L134.16,458.78 L134.59,458.75 L135.01,458.75 L135.43,458.73 L135.86,458.71 L136.28,458.69 L136.70,458.68 L137.13,458.68 L137.55,458.68 L137.97,458.67 L138.40,458.67 L138.82,458.67 L139.25,458.67 L139.67,458.66 L140.09,458.66 L140.52,458.66 L140.94,458.72 L141.36,458.84 L141.79,458.98 L142.21,459.05 L142.64,459.04 L143.06,458.94 L143.48,458.82 L143.91,458.72 L144.33,458.70 L144.75,458.77 L145.18,458.90 L145.60,459.03 L146.03,459.09 L146.45,459.08 L146.87,459.02 L147.30,458.95 L147.72,458.89 L148.14,458.88 L148.57,458.89 L148.99,458.91 L149.42,458.92 L149.84,458.93 L150.26,458.92 L150.69,458.91 L151.11,458.90 L151.53,458.90 L151.96,458.90 L152.38,458.93 L152.81,458.99 L153.23,459.04 L153.65,459.06 L154.08,459.04 L154.50,458.99 L154.50,470.72 L154.08,470.73 L153.65,470.74 L153.23,470.73 L152.81,470.71 L152.38,470.69 L151.96,470.68 L151.53,470.67 L151.11,470.64 L150.69,470.61 L150.26,470.57 L149.84,470.56 L149.42,470.59 L148.99,470.65 L148.57,470.72 L148.14,470.76 L147.72,470.75 L147.30,470.70 L146.87,470.62 L146.45,470.56 L146.03,470.55 L145.60,470.55 L145.18,470.55 L144.75,470.55 L144.33,470.56 L143.91,470.56 L143.48,470.58 L143.06,470.60 L142.64,470.61 L142.21,470.62 L141.79,470.66 L141.36,470.73 L140.94,470.81 L140.52,470.84 L140.09,470.84 L139.67,470.83 L139.25,470.82 L138.82,470.81 L138.40,470.82 L137.97,470.83 L137.55,470.87 L137.13,470.89 L136.70,470.90 L136.28,470.88 L135.86,470.83 L135.43,470.77 L135.01,470.73 L134.59,470.74 L134.16,470.80 L133.74,470.88 L133.31,470.96 L132.89,470.98 L132.47,470.97 L132.04,470.93 L131.62,470.89 L131.20,470.86 L130.77,470.85 L130.35,470.78 L129.92,470.68 L129.50,470.60 L129.08,470.58 L128.65,470.64 L128.23,470.76 L127.81,470.89 L127.38,470.95 L126.96,470.95 L126.53,470.95 L126.11,470.95 L125.69,470.94 L125.26,470.94 L124.84,470.87 L124.42,470.74 L123.99,470.62 L123.57,470.57 L123.14,470.60 L122.72,470.70 L122.30,470.82 L121.87,470.90 L121.45,470.91 L121.03,470.93 L120.60,470.94 L120.18,470.96 L119.75,470.96 L119.33,470.92 L118.91,470.80 L118.48,470.66 L118.06,470.58 L117.64,470.57 L117.21,470.58 L116.79,470.61 L116.37,470.63 L115.94,470.64 L115.52,470.67 L115.09,470.75 L114.67,470.84 L114.25,470.89 L113.82,470.89 L113.40,470.88 L112.98,470.87 L112.55,470.86 L112.13,470.86 L111.70,470.86 L111.28,470.86 L110.86,470.86 L110.43,470.85 L110.01,470.86 L109.59,470.88 L109.16,470.90 L108.74,470.91 L108.31,470.91 L107.89,470.84 L107.47,470.71 L107.04,470.59 L106.62,470.53 L106.20,470.53 L105.77,470.54 L105.35,470.55 L104.92,470.56 L104.50,470.56 L104.08,470.58 L103.65,470.61 L103.23,470.63 L102.81,470.64 L102.38,470.65 L101.96,470.66 L101.53,470.68 L101.11,470.69 L100.69,470.69 L100.26,470.68 L99.84,470.66 L99.42,470.64 L98.99,470.64 L98.57,470.64 L98.15,470.66 L97.72,470.68 L97.30,470.69 L96.87,470.68 L96.45,470.65 L96.03,470.61 L95.60,470.58 L95.18,470.57 L94.76,470.61 L94.33,470.70 L93.91,470.78 L93.48,470.82 L93.06,470.81 L92.64,470.78 L92.21,470.74 L91.79,470.71 L91.37,470.71 L90.94,470.75 L90.52,470.83 L90.09,470.90 L89.67,470.94 L89.25,470.92 L88.82,470.86 L88.40,470.79 L87.98,470.74 L87.55,470.74 L87.13,470.79 L86.70,470.87 L86.28,470.95 L85.86,470.98 L85.43,470.97 L85.01,470.95 L84.59,470.93 L84.16,470.92 L83.74,470.92 L83.32,470.92 L82.89,470.93 L82.47,470.93 L82.04,470.94 L81.62,470.93 L81.20,470.92 L80.77,470.92 L80.35,470.91 L79.93,470.91 L79.50,470.89 L79.08,470.86 L78.65,470.83 L78.23,470.83 L77.81,470.85 L77.38,470.88 L76.96,470.92 L76.54,470.94 L76.11,470.93 L75.69,470.90 L75.26,470.86 L74.84,470.83 L74.42,470.83 L73.99,470.81 L73.57,470.78 L73.15,470.74 L72.72,470.73 L72.30,470.73 L71.87,470.74 L71.45,470.75 L71.03,470.76 L70.60,470.76 L70.18,470.72 L69.76,470.65Z" fill="#d3e8f2"/>
<path d="M68.90,494.76 L69.33,494.34 L69.76,493.93 L70.18,493.54 L70.61,493.15 L71.04,492.82 L71.47,492.51 L71.90,492.20 L72.32,491.86 L72.75,491.51 L73.18,491.17 L73.61,490.84 L74.04,490.54 L74.46,490.27 L74.89,490.04 L75.32,489.82 L75.75,489.59 L76.18,489.34 L76.60,489.09 L77.03,488.84 L77.46,488.61 L77.89,488.39 L78.32,488.15 L78.74,487.88 L79.17,487.63 L79.60,487.41 L80.03,487.23 L80.46,487.04 L80.88,486.85 L81.31,486.68 L81.74,486.53 L82.17,486.42 L82.60,486.35 L83.02,486.27 L83.45,486.16 L83.88,486.01 L84.31,485.83 L84.74,485.64 L85.16,485.48 L85.59,485.37 L86.02,485.29 L86.45,485.22 L86.88,485.16 L87.30,485.07 L87.73,484.96 L88.16,484.85 L88.59,484.74 L89.02,484.64 L89.44,484.55 L89.87,484.44 L90.30,484.33 L90.73,484.23 L91.16,484.16 L91.58,484.13 L92.01,484.14 L92.44,484.15 L92.87,484.11 L93.30,484.05 L93.72,484.00 L94.15,483.96 L94.58,483.91 L95.01,483.85 L95.44,483.78 L95.86,483.70 L96.29,483.63 L96.72,483.57 L97.15,483.50 L97.58,483.39 L98.00,483.28 L98.43,483.21 L98.86,483.18 L99.29,483.21 L99.72,483.25 L100.14,483.26 L100.57,483.24 L101.00,483.17 L101.43,483.09 L101.86,483.01 L102.28,482.96 L102.71,482.96 L103.14,483.01 L103.57,483.07 L104.00,483.10 L104.42,483.07 L104.85,482.99 L105.28,482.90 L105.71,482.82 L106.14,482.78 L106.56,482.75 L106.99,482.72 L107.42,482.69 L107.85,482.67 L108.28,482.66 L108.70,482.70 L109.13,482.75 L109.56,482.78 L109.99,482.77 L110.42,482.77 L110.84,482.77 L111.27,482.78 L111.70,482.77 L112.13,482.77 L112.56,482.77 L112.98,482.77 L113.41,482.76 L113.84,482.75 L114.27,482.74 L114.70,482.72 L115.12,482.71 L115.55,482.70 L115.98,482.68 L116.41,482.65 L116.84,482.63 L117.26,482.61 L117.69,482.59 L118.12,482.55 L118.55,482.51 L118.98,482.47 L119.40,482.46 L119.83,482.43 L120.26,482.39 L120.69,482.35 L121.12,482.33 L121.54,482.36 L121.97,482.42 L122.40,482.49 L122.83,482.54 L123.26,482.52 L123.68,482.46 L124.11,482.37 L124.54,482.29 L124.97,482.27 L125.40,482.31 L125.82,482.40 L126.25,482.49 L126.68,482.53 L127.11,482.52 L127.54,482.48 L127.96,482.44 L128.39,482.40 L128.82,482.39 L129.25,482.37 L129.68,482.34 L130.10,482.31 L130.53,482.29 L130.96,482.28 L131.39,482.26 L131.82,482.24 L132.24,482.23 L132.67,482.22 L133.10,482.22 L133.53,482.22 L133.96,482.21 L134.38,482.21 L134.81,482.21 L135.24,482.20 L135.67,482.19 L136.10,482.19 L136.52,482.21 L136.95,482.30 L137.38,482.41 L137.81,482.49 L138.24,482.50 L138.66,482.44 L139.09,482.34 L139.52,482.25 L139.95,482.21 L140.38,482.25 L140.80,482.34 L141.23,482.45 L141.66,482.52 L142.09,482.52 L142.52,482.47 L142.94,482.41 L143.37,482.36 L143.80,482.35 L144.23,482.36 L144.66,482.37 L145.08,482.38 L145.51,482.38 L145.94,482.38 L146.37,482.37 L146.80,482.36 L147.22,482.35 L147.65,482.36 L148.08,482.38 L148.51,482.43 L148.94,482.46 L149.36,482.48 L149.79,482.46 L150.22,482.43 L150.65,482.39 L151.08,482.36 L151.50,482.35 L151.93,482.33 L152.36,482.29 L152.79,482.26 L153.22,482.26 L153.64,482.26 L154.07,482.26 L154.50,482.26 L154.50,494.76 L154.07,494.79 L153.64,494.83 L153.22,494.84 L152.79,494.84 L152.36,494.84 L151.93,494.84 L151.50,494.85 L151.08,494.85 L150.65,494.85 L150.22,494.87 L149.79,494.88 L149.36,494.88 L148.94,494.88 L148.51,494.86 L148.08,494.84 L147.65,494.83 L147.22,494.83 L146.80,494.80 L146.37,494.77 L145.94,494.75 L145.51,494.74 L145.08,494.77 L144.66,494.82 L144.23,494.87 L143.80,494.90 L143.37,494.89 L142.94,494.84 L142.52,494.78 L142.09,494.74 L141.66,494.73 L141.23,494.73 L140.80,494.73 L140.38,494.74 L139.95,494.74 L139.52,494.74 L139.09,494.76 L138.66,494.77 L138.24,494.78 L137.81,494.79 L137.38,494.84 L136.95,494.90 L136.52,494.95 L136.10,494.96 L135.67,494.96 L135.24,494.95 L134.81,494.95 L134.38,494.94 L133.96,494.95 L133.53,494.97 L133.10,494.99 L132.67,495.01 L132.24,495.01 L131.82,494.98 L131.39,494.93 L130.96,494.89 L130.53,494.87 L130.10,494.90 L129.68,494.96 L129.25,495.03 L128.82,495.08 L128.39,495.07 L127.96,495.05 L127.54,495.02 L127.11,494.99 L126.68,494.98 L126.25,494.94 L125.82,494.87 L125.40,494.79 L124.97,494.75 L124.54,494.78 L124.11,494.86 L123.68,494.97 L123.26,495.04 L122.83,495.05 L122.40,495.05 L121.97,495.05 L121.54,495.05 L121.12,495.05 L120.69,495.01 L120.26,494.92 L119.83,494.81 L119.40,494.75 L118.98,494.76 L118.55,494.83 L118.12,494.92 L117.69,495.00 L117.26,495.02 L116.84,495.03 L116.41,495.04 L115.98,495.05 L115.55,495.06 L115.12,495.04 L114.70,494.95 L114.27,494.84 L113.84,494.76 L113.41,494.75 L112.98,494.76 L112.56,494.78 L112.13,494.79 L111.70,494.80 L111.27,494.83 L110.84,494.89 L110.42,494.96 L109.99,495.00 L109.56,495.00 L109.13,495.00 L108.70,494.99 L108.28,494.98 L107.85,494.98 L107.42,494.98 L106.99,494.98 L106.56,494.98 L106.14,494.98 L105.71,494.98 L105.28,494.99 L104.85,495.01 L104.42,495.02 L104.00,495.02 L103.57,494.95 L103.14,494.85 L102.71,494.75 L102.28,494.72 L101.86,494.72 L101.43,494.73 L101.00,494.73 L100.57,494.74 L100.14,494.74 L99.72,494.76 L99.29,494.78 L98.86,494.80 L98.43,494.81 L98.00,494.81 L97.58,494.83 L97.15,494.84 L96.72,494.84 L96.29,494.84 L95.86,494.83 L95.44,494.81 L95.01,494.80 L94.58,494.80 L94.15,494.81 L93.72,494.82 L93.30,494.84 L92.87,494.84 L92.44,494.83 L92.01,494.80 L91.58,494.77 L91.16,494.75 L90.73,494.76 L90.30,494.81 L89.87,494.88 L89.44,494.93 L89.02,494.95 L88.59,494.93 L88.16,494.90 L87.73,494.87 L87.30,494.86 L86.88,494.87 L86.45,494.92 L86.02,494.99 L85.59,495.03 L85.16,495.04 L84.74,495.00 L84.31,494.95 L83.88,494.90 L83.45,494.88 L83.02,494.90 L82.60,494.96 L82.17,495.03 L81.74,495.07 L81.31,495.07 L80.88,495.06 L80.46,495.04 L80.03,495.03 L79.60,495.03 L79.17,495.03 L78.74,495.03 L78.32,495.04 L77.89,495.04 L77.46,495.04 L77.03,495.03 L76.60,495.03 L76.18,495.02 L75.75,495.02 L75.32,495.01 L74.89,494.98 L74.46,494.96 L74.04,494.95 L73.61,494.96 L73.18,494.99 L72.75,495.02 L72.32,495.04 L71.90,495.04 L71.47,495.02 L71.04,494.99 L70.61,494.96 L70.18,494.95 L69.76,494.94 L69.33,494.91 L68.90,494.89Z" fill="#d3e8f2"/>
<path d="M69.76,462.55 L70.18,462.26 L70.60,461.95 L71.03,463.60 L71.45,465.40 L71.87,465.28 L72.30,464.97 L72.72,464.66 L73.15,464.53 L73.57,464.56 L73.99,464.59 L74.42,464.61 L74.84,464.61 L75.26,464.60 L75.69,464.57 L76.11,464.51 L76.54,464.45 L76.96,464.39 L77.38,464.34 L77.81,464.33 L78.23,464.33 L78.65,464.34 L79.08,464.36 L79.50,464.38 L79.93,464.40 L80.35,464.41 L80.77,464.42 L81.20,464.42 L81.62,464.42 L82.04,464.41 L82.47,464.41 L82.89,464.41 L83.32,464.40 L83.74,464.40 L84.16,464.41 L84.59,464.42 L85.01,464.45 L85.43,464.48 L85.86,464.51 L86.28,464.53 L86.70,464.54 L87.13,464.54 L87.55,464.52 L87.98,464.49 L88.40,464.45 L88.82,464.42 L89.25,464.39 L89.67,464.37 L90.09,464.37 L90.52,464.37 L90.94,464.38 L91.37,464.39 L91.79,464.40 L92.21,464.41 L92.64,464.41 L93.06,464.42 L93.48,464.42 L93.91,464.43 L94.33,464.45 L94.76,464.46 L95.18,464.47 L95.60,464.48 L96.03,464.48 L96.45,464.50 L96.87,464.54 L97.30,464.59 L97.72,464.63 L98.15,464.68 L98.57,464.70 L98.99,464.70 L99.42,464.69 L99.84,464.67 L100.26,464.63 L100.69,464.60 L101.11,464.57 L101.53,464.55 L101.96,464.55 L102.38,464.53 L102.81,464.49 L103.23,464.44 L103.65,464.39 L104.08,464.34 L104.50,464.31 L104.92,464.31 L105.35,464.32 L105.77,464.35 L106.20,464.39 L106.62,464.43 L107.04,464.46 L107.47,464.49 L107.89,464.50 L108.31,464.50 L108.74,464.51 L109.16,464.53 L109.59,464.55 L110.01,464.56 L110.43,464.58 L110.86,464.58 L111.28,464.57 L111.70,464.56 L112.13,464.53 L112.55,464.51 L112.98,464.49 L113.40,464.47 L113.82,464.46 L114.25,464.47 L114.67,464.50 L115.09,464.55 L115.52,464.60 L115.94,464.64 L116.37,464.68 L116.79,464.69 L117.21,464.69 L117.64,464.67 L118.06,464.66 L118.48,464.64 L118.91,464.62 L119.33,464.61 L119.75,464.60 L120.18,464.60 L120.60,464.57 L121.03,464.53 L121.45,464.49 L121.87,464.44 L122.30,464.41 L122.72,464.40 L123.14,464.40 L123.57,464.41 L123.99,464.44 L124.42,464.47 L124.84,464.50 L125.26,464.52 L125.69,464.54 L126.11,464.54 L126.53,464.54 L126.96,464.55 L127.38,464.56 L127.81,464.57 L128.23,464.57 L128.65,464.58 L129.08,464.57 L129.50,464.54 L129.92,464.49 L130.35,464.44 L130.77,464.38 L131.20,464.33 L131.62,464.31 L132.04,464.31 L132.47,464.33 L132.89,464.36 L133.31,464.41 L133.74,464.45 L134.16,464.49 L134.59,464.51 L135.01,464.51 L135.43,464.52 L135.86,464.52 L136.28,464.53 L136.70,464.54 L137.13,464.54 L137.55,464.55 L137.97,464.55 L138.40,464.56 L138.82,464.59 L139.25,464.63 L139.67,464.66 L140.09,464.69 L140.52,464.71 L140.94,464.72 L141.36,464.70 L141.79,464.66 L142.21,464.61 L142.64,464.56 L143.06,464.51 L143.48,464.49 L143.91,464.48 L144.33,464.48 L144.75,464.49 L145.18,464.50 L145.60,464.51 L146.03,464.52 L146.45,464.52 L146.87,464.53 L147.30,464.53 L147.72,464.55 L148.14,464.57 L148.57,464.59 L148.99,464.61 L149.42,464.62 L149.84,464.62 L150.26,464.61 L150.69,464.56 L151.11,464.50 L151.53,464.44 L151.96,464.38 L152.38,464.34 L152.81,464.32 L153.23,464.33 L153.65,464.35 L154.08,464.38 L154.50,464.41" fill="none" stroke="#3b9dc7" stroke-width="1.6" stroke-dasharray="1.3,1.8"/>
<path d="M68.90,494.90 L69.33,494.76 L69.76,494.62 L70.18,494.48 L70.61,494.35 L71.04,494.22 L71.47,494.10 L71.90,493.97 L72.32,493.85 L72.75,493.74 L73.18,493.62 L73.61,493.51 L74.04,493.40 L74.46,493.30 L74.89,493.19 L75.32,493.09 L75.75,493.00 L76.18,492.90 L76.60,492.81 L77.03,492.72 L77.46,492.63 L77.89,492.54 L78.32,492.46 L78.74,492.37 L79.17,492.29 L79.60,492.22 L80.03,492.14 L80.46,492.07 L80.88,491.99 L81.31,491.92 L81.74,491.85 L82.17,491.79 L82.60,491.72 L83.02,491.66 L83.45,491.59 L83.88,491.53 L84.31,491.47 L84.74,491.41 L85.16,491.36 L85.59,491.30 L86.02,491.25 L86.45,491.20 L86.88,491.15 L87.30,491.10 L87.73,491.05 L88.16,491.00 L88.59,490.95 L89.02,490.91 L89.44,490.86 L89.87,490.82 L90.30,490.78 L90.73,490.74 L91.16,490.70 L91.58,490.66 L92.01,490.62 L92.44,490.59 L92.87,490.55 L93.30,490.51 L93.72,490.48 L94.15,490.45 L94.58,490.41 L95.01,490.38 L95.44,490.35 L95.86,490.32 L96.29,490.29 L96.72,490.26 L97.15,490.23 L97.58,490.21 L98.00,490.18 L98.43,490.15 L98.86,490.13 L99.29,490.10 L99.72,490.08 L100.14,490.06 L100.57,490.03 L101.00,490.01 L101.43,489.99 L101.86,489.97 L102.28,489.95 L102.71,489.93 L103.14,489.91 L103.57,489.89 L104.00,489.87 L104.42,489.85 L104.85,489.83 L105.28,489.81 L105.71,489.80 L106.14,489.78 L106.56,489.76 L106.99,489.75 L107.42,489.73 L107.85,489.72 L108.28,489.70 L108.70,489.69 L109.13,489.68 L109.56,489.66 L109.99,489.65 L110.42,489.64 L110.84,489.62 L111.27,489.61 L111.70,489.60 L112.13,489.59 L112.56,489.58 L112.98,489.56 L113.41,489.55 L113.84,489.54 L114.27,489.53 L114.70,489.52 L115.12,489.51 L115.55,489.50 L115.98,489.49 L116.41,489.49 L116.84,489.48 L117.26,489.47 L117.69,489.46 L118.12,489.45 L118.55,489.44 L118.98,489.43 L119.40,489.43 L119.83,489.42 L120.26,489.41 L120.69,489.41 L121.12,489.40 L121.54,489.39 L121.97,489.39 L122.40,489.38 L122.83,489.37 L123.26,489.37 L123.68,489.36 L124.11,489.35 L124.54,489.35 L124.97,489.34 L125.40,489.34 L125.82,489.33 L126.25,489.33 L126.68,489.32 L127.11,489.32 L127.54,489.31 L127.96,489.31 L128.39,489.30 L128.82,489.30 L129.25,489.30 L129.68,489.29 L130.10,489.29 L130.53,489.28 L130.96,489.28 L131.39,489.28 L131.82,489.27 L132.24,489.27 L132.67,489.26 L133.10,489.26 L133.53,489.26 L133.96,489.25 L134.38,489.25 L134.81,489.25 L135.24,489.24 L135.67,489.24 L136.10,489.24 L136.52,489.24 L136.95,489.23 L137.38,489.23 L137.81,489.23 L138.24,489.23 L138.66,489.22 L139.09,489.22 L139.52,489.22 L139.95,489.22 L140.38,489.21 L140.80,489.21 L141.23,489.21 L141.66,489.21 L142.09,489.21 L142.52,489.20 L142.94,489.20 L143.37,489.20 L143.80,489.20 L144.23,489.20 L144.66,489.19 L145.08,489.19 L145.51,489.19 L145.94,489.19 L146.37,489.19 L146.80,489.19 L147.22,489.18 L147.65,489.18 L148.08,489.18 L148.51,489.18 L148.94,489.18 L149.36,489.18 L149.79,489.18 L150.22,489.17 L150.65,489.17 L151.08,489.17 L151.50,489.17 L151.93,489.17 L152.36,489.17 L152.79,489.17 L153.22,489.17 L153.64,489.17 L154.07,489.16 L154.50,489.16" fill="none" stroke="#3b9dc7" stroke-width="1.65"/>
<path d="M206.80,324.74 L207.23,324.92 L207.65,325.03 L208.08,325.12 L208.51,325.21 L208.94,325.32 L209.36,325.38 L209.79,325.40 L210.22,325.42 L210.64,325.48 L211.07,325.56 L211.50,325.63 L211.92,325.70 L212.35,325.75 L212.78,325.79 L213.21,325.82 L213.63,325.84 L214.06,325.87 L214.49,325.90 L214.91,325.96 L215.34,326.05 L215.77,326.13 L216.19,326.17 L216.62,326.15 L217.05,326.09 L217.48,326.01 L217.90,325.97 L218.33,325.98 L218.76,326.03 L219.18,326.10 L219.61,326.16 L220.04,326.18 L220.46,326.24 L220.89,326.34 L221.32,326.45 L221.75,326.51 L222.17,326.49 L222.60,326.42 L223.03,326.33 L223.45,326.27 L223.88,326.26 L224.31,326.32 L224.73,326.42 L225.16,326.51 L225.59,326.55 L226.02,326.47 L226.44,326.28 L226.87,326.07 L227.30,325.94 L227.72,325.93 L228.15,325.93 L228.58,325.93 L229.00,325.92 L229.43,325.92 L229.86,326.00 L230.28,326.14 L230.71,326.28 L231.14,326.35 L231.57,326.35 L231.99,326.36 L232.42,326.36 L232.85,326.37 L233.27,326.36 L233.70,326.30 L234.13,326.19 L234.56,326.09 L234.98,326.05 L235.41,326.10 L235.84,326.22 L236.26,326.35 L236.69,326.44 L237.12,326.45 L237.54,326.45 L237.97,326.46 L238.40,326.46 L238.82,326.46 L239.25,326.46 L239.68,326.46 L240.11,326.46 L240.53,326.46 L240.96,326.45 L241.39,326.42 L241.81,326.38 L242.24,326.35 L242.67,326.34 L243.09,326.30 L243.52,326.23 L243.95,326.17 L244.38,326.15 L244.80,326.12 L245.23,326.05 L245.66,325.97 L246.08,325.92 L246.51,325.94 L246.94,326.07 L247.37,326.25 L247.79,326.40 L248.22,326.44 L248.65,326.35 L249.07,326.18 L249.50,326.01 L249.93,325.92 L250.35,325.94 L250.78,326.02 L251.21,326.12 L251.63,326.19 L252.06,326.19 L252.49,326.14 L252.92,326.06 L253.34,325.99 L253.77,325.96 L254.20,325.96 L254.62,325.98 L255.05,326.00 L255.48,326.01 L255.91,326.04 L256.33,326.15 L256.76,326.31 L257.19,326.44 L257.61,326.47 L258.04,326.42 L258.47,326.30 L258.89,326.19 L259.32,326.14 L259.75,326.16 L260.18,326.27 L260.60,326.39 L261.03,326.48 L261.46,326.50 L261.88,326.52 L262.31,326.55 L262.74,326.57 L263.16,326.58 L263.59,326.55 L264.02,326.47 L264.44,326.37 L264.87,326.32 L265.30,326.30 L265.73,326.23 L266.15,326.14 L266.58,326.07 L267.01,326.05 L267.43,326.07 L267.86,326.12 L268.29,326.17 L268.71,326.19 L269.14,326.21 L269.57,326.29 L270.00,326.38 L270.42,326.44 L270.85,326.44 L271.28,326.35 L271.70,326.19 L272.13,326.05 L272.56,326.00 L272.99,325.99 L273.41,325.98 L273.84,325.96 L274.27,325.95 L274.69,325.97 L275.12,326.09 L275.55,326.25 L275.97,326.38 L276.40,326.42 L276.83,326.40 L277.25,326.35 L277.68,326.30 L278.11,326.27 L278.54,326.26 L278.96,326.23 L279.39,326.18 L279.82,326.15 L280.24,326.14 L280.67,326.10 L281.10,326.04 L281.52,325.98 L281.95,325.96 L282.38,326.02 L282.81,326.19 L283.23,326.37 L283.66,326.49 L284.09,326.48 L284.51,326.41 L284.94,326.31 L285.37,326.22 L285.79,326.20 L286.22,326.15 L286.65,326.05 L287.08,325.96 L287.50,325.91 L287.93,325.93 L288.36,326.00 L288.78,326.09 L289.21,326.15 L289.64,326.16 L290.06,326.14 L290.49,326.12 L290.92,326.09 L291.35,326.09 L291.77,326.08 L292.20,326.07 L292.20,338.44 L291.77,338.60 L291.35,338.66 L290.92,338.63 L290.49,338.57 L290.06,338.50 L289.64,338.46 L289.21,338.46 L288.78,338.49 L288.36,338.52 L287.93,338.55 L287.50,338.56 L287.08,338.56 L286.65,338.56 L286.22,338.55 L285.79,338.55 L285.37,338.55 L284.94,338.53 L284.51,338.51 L284.09,338.49 L283.66,338.49 L283.23,338.51 L282.81,338.55 L282.38,338.58 L281.95,338.59 L281.52,338.60 L281.10,338.64 L280.67,338.68 L280.24,338.71 L279.82,338.71 L279.39,338.70 L278.96,338.70 L278.54,338.70 L278.11,338.70 L277.68,338.70 L277.25,338.72 L276.83,338.73 L276.40,338.74 L275.97,338.74 L275.55,338.73 L275.12,338.71 L274.69,338.70 L274.27,338.70 L273.84,338.72 L273.41,338.74 L272.99,338.77 L272.56,338.78 L272.13,338.77 L271.70,338.74 L271.28,338.71 L270.85,338.69 L270.42,338.68 L270.00,338.61 L269.57,338.51 L269.14,338.42 L268.71,338.40 L268.29,338.36 L267.86,338.28 L267.43,338.20 L267.01,338.16 L266.58,338.19 L266.15,338.26 L265.73,338.36 L265.30,338.43 L264.87,338.45 L264.44,338.47 L264.02,338.51 L263.59,338.54 L263.16,338.55 L262.74,338.50 L262.31,338.38 L261.88,338.23 L261.46,338.15 L261.03,338.16 L260.60,338.29 L260.18,338.47 L259.75,338.61 L259.32,338.65 L258.89,338.67 L258.47,338.70 L258.04,338.73 L257.61,338.74 L257.19,338.73 L256.76,338.67 L256.33,338.59 L255.91,338.54 L255.48,338.53 L255.05,338.52 L254.62,338.50 L254.20,338.48 L253.77,338.47 L253.34,338.47 L252.92,338.47 L252.49,338.46 L252.06,338.46 L251.63,338.44 L251.21,338.37 L250.78,338.28 L250.35,338.20 L249.93,338.18 L249.50,338.29 L249.07,338.49 L248.65,338.70 L248.22,338.81 L247.79,338.80 L247.37,338.78 L246.94,338.75 L246.51,338.73 L246.08,338.73 L245.66,338.69 L245.23,338.64 L244.80,338.60 L244.38,338.58 L243.95,338.55 L243.52,338.48 L243.09,338.40 L242.67,338.35 L242.24,338.34 L241.81,338.33 L241.39,338.32 L240.96,338.31 L240.53,338.31 L240.11,338.34 L239.68,338.41 L239.25,338.48 L238.82,338.52 L238.40,338.53 L237.97,338.56 L237.54,338.60 L237.12,338.64 L236.69,338.64 L236.26,338.62 L235.84,338.58 L235.41,338.55 L234.98,338.54 L234.56,338.52 L234.13,338.48 L233.70,338.44 L233.27,338.41 L232.85,338.42 L232.42,338.49 L231.99,338.58 L231.57,338.65 L231.14,338.67 L230.71,338.60 L230.28,338.46 L229.86,338.32 L229.43,338.25 L229.00,338.28 L228.58,338.39 L228.15,338.53 L227.72,338.62 L227.30,338.63 L226.87,338.52 L226.44,338.35 L226.02,338.19 L225.59,338.13 L225.16,338.13 L224.73,338.14 L224.31,338.14 L223.88,338.15 L223.45,338.16 L223.03,338.26 L222.60,338.39 L222.17,338.49 L221.75,338.52 L221.32,338.56 L220.89,338.64 L220.46,338.72 L220.04,338.76 L219.61,338.74 L219.18,338.68 L218.76,338.59 L218.33,338.53 L217.90,338.52 L217.48,338.51 L217.05,338.49 L216.62,338.49 L216.19,338.52 L215.77,338.56 L215.34,338.60 L214.91,338.70 L214.49,338.93 L214.06,339.34 L213.63,339.94 L213.21,340.66 L212.78,341.41 L212.35,342.07 L211.92,342.58 L211.50,342.89 L211.07,342.96 L210.64,342.80 L210.22,342.47 L209.79,342.05 L209.36,341.56 L208.94,341.00 L208.51,340.40 L208.08,339.77 L207.65,339.18 L207.23,338.73 L206.80,338.46Z" fill="#e6f2df"/>
<path d="M206.80,363.95 L207.23,363.90 L207.65,363.79 L208.08,363.66 L208.51,363.50 L208.94,363.32 L209.36,363.13 L209.79,362.93 L210.22,362.73 L210.64,362.56 L211.07,362.40 L211.50,362.23 L211.92,362.03 L212.35,361.79 L212.78,361.50 L213.21,361.20 L213.63,360.94 L214.06,360.71 L214.49,360.52 L214.91,360.35 L215.34,360.17 L215.77,359.97 L216.19,359.79 L216.62,359.66 L217.05,359.53 L217.48,359.36 L217.90,359.14 L218.33,358.88 L218.76,358.61 L219.18,358.36 L219.61,358.16 L220.04,358.02 L220.46,357.91 L220.89,357.80 L221.32,357.65 L221.75,357.42 L222.17,357.10 L222.60,356.77 L223.03,356.50 L223.45,356.34 L223.88,356.18 L224.31,356.03 L224.73,355.89 L225.16,355.75 L225.59,355.67 L226.02,355.65 L226.44,355.64 L226.87,355.57 L227.30,355.45 L227.72,355.34 L228.15,355.24 L228.58,355.13 L229.00,355.02 L229.43,354.87 L229.86,354.68 L230.28,354.51 L230.71,354.38 L231.14,354.33 L231.57,354.35 L231.99,354.37 L232.42,354.36 L232.85,354.29 L233.27,354.22 L233.70,354.16 L234.13,354.09 L234.56,354.03 L234.98,353.96 L235.41,353.90 L235.84,353.84 L236.26,353.79 L236.69,353.73 L237.12,353.65 L237.54,353.57 L237.97,353.50 L238.40,353.45 L238.82,353.37 L239.25,353.28 L239.68,353.19 L240.11,353.13 L240.53,353.07 L240.96,352.98 L241.39,352.88 L241.81,352.81 L242.24,352.80 L242.67,352.87 L243.09,352.99 L243.52,353.08 L243.95,353.09 L244.38,353.00 L244.80,352.84 L245.23,352.68 L245.66,352.59 L246.08,352.58 L246.51,352.63 L246.94,352.69 L247.37,352.73 L247.79,352.71 L248.22,352.66 L248.65,352.58 L249.07,352.50 L249.50,352.47 L249.93,352.46 L250.35,352.46 L250.78,352.47 L251.21,352.47 L251.63,352.47 L252.06,352.55 L252.49,352.67 L252.92,352.77 L253.34,352.79 L253.77,352.73 L254.20,352.63 L254.62,352.54 L255.05,352.49 L255.48,352.50 L255.91,352.58 L256.33,352.67 L256.76,352.74 L257.19,352.75 L257.61,352.76 L258.04,352.78 L258.47,352.79 L258.89,352.80 L259.32,352.77 L259.75,352.69 L260.18,352.62 L260.60,352.57 L261.03,352.55 L261.46,352.50 L261.88,352.42 L262.31,352.36 L262.74,352.34 L263.16,352.36 L263.59,352.39 L264.02,352.43 L264.44,352.44 L264.87,352.46 L265.30,352.52 L265.73,352.59 L266.15,352.64 L266.58,352.64 L267.01,352.56 L267.43,352.44 L267.86,352.32 L268.29,352.28 L268.71,352.27 L269.14,352.26 L269.57,352.24 L270.00,352.23 L270.42,352.25 L270.85,352.34 L271.28,352.47 L271.70,352.58 L272.13,352.61 L272.56,352.59 L272.99,352.55 L273.41,352.51 L273.84,352.49 L274.27,352.48 L274.69,352.45 L275.12,352.41 L275.55,352.38 L275.97,352.38 L276.40,352.34 L276.83,352.29 L277.25,352.25 L277.68,352.23 L278.11,352.28 L278.54,352.41 L278.96,352.56 L279.39,352.65 L279.82,352.65 L280.24,352.59 L280.67,352.51 L281.10,352.44 L281.52,352.42 L281.95,352.38 L282.38,352.31 L282.81,352.23 L283.23,352.19 L283.66,352.21 L284.09,352.26 L284.51,352.33 L284.94,352.38 L285.37,352.39 L285.79,352.38 L286.22,352.36 L286.65,352.34 L287.08,352.33 L287.50,352.33 L287.93,352.32 L288.36,352.30 L288.78,352.30 L289.21,352.30 L289.64,352.34 L290.06,352.39 L290.49,352.43 L290.92,352.45 L291.35,352.47 L291.77,352.51 L292.20,352.55 L292.20,364.06 L291.77,364.14 L291.35,364.21 L290.92,364.25 L290.49,364.22 L290.06,364.10 L289.64,363.96 L289.21,363.86 L288.78,363.85 L288.36,363.94 L287.93,364.08 L287.50,364.20 L287.08,364.25 L286.65,364.23 L286.22,364.18 L285.79,364.13 L285.37,364.09 L284.94,364.09 L284.51,364.11 L284.09,364.14 L283.66,364.17 L283.23,364.17 L282.81,364.17 L282.38,364.17 L281.95,364.17 L281.52,364.17 L281.10,364.16 L280.67,364.15 L280.24,364.13 L279.82,364.12 L279.39,364.12 L278.96,364.14 L278.54,364.16 L278.11,364.19 L277.68,364.20 L277.25,364.21 L276.83,364.24 L276.40,364.27 L275.97,364.29 L275.55,364.29 L275.12,364.29 L274.69,364.28 L274.27,364.28 L273.84,364.28 L273.41,364.29 L272.99,364.30 L272.56,364.31 L272.13,364.32 L271.70,364.32 L271.28,364.31 L270.85,364.29 L270.42,364.29 L270.00,364.29 L269.57,364.30 L269.14,364.32 L268.71,364.34 L268.29,364.34 L267.86,364.34 L267.43,364.32 L267.01,364.29 L266.58,364.28 L266.15,364.27 L265.73,364.21 L265.30,364.13 L264.87,364.06 L264.44,364.04 L264.02,364.01 L263.59,363.95 L263.16,363.89 L262.74,363.86 L262.31,363.87 L261.88,363.94 L261.46,364.01 L261.03,364.07 L260.60,364.08 L260.18,364.10 L259.75,364.13 L259.32,364.16 L258.89,364.17 L258.47,364.13 L258.04,364.02 L257.61,363.91 L257.19,363.84 L256.76,363.85 L256.33,363.96 L255.91,364.10 L255.48,364.21 L255.05,364.25 L254.62,364.26 L254.20,364.28 L253.77,364.31 L253.34,364.32 L252.92,364.31 L252.49,364.26 L252.06,364.20 L251.63,364.15 L251.21,364.15 L250.78,364.14 L250.35,364.12 L249.93,364.11 L249.50,364.10 L249.07,364.10 L248.65,364.10 L248.22,364.09 L247.79,364.09 L247.37,364.08 L246.94,364.02 L246.51,363.95 L246.08,363.88 L245.66,363.87 L245.23,363.95 L244.80,364.12 L244.38,364.28 L243.95,364.37 L243.52,364.37 L243.09,364.35 L242.67,364.33 L242.24,364.31 L241.81,364.30 L241.39,364.28 L240.96,364.24 L240.53,364.20 L240.11,364.19 L239.68,364.17 L239.25,364.11 L238.82,364.04 L238.40,364.00 L237.97,364.00 L237.54,363.99 L237.12,363.98 L236.69,363.97 L236.26,363.97 L235.84,364.00 L235.41,364.05 L234.98,364.11 L234.56,364.14 L234.13,364.15 L233.70,364.17 L233.27,364.21 L232.85,364.23 L232.42,364.23 L231.99,364.22 L231.57,364.19 L231.14,364.16 L230.71,364.15 L230.28,364.14 L229.86,364.11 L229.43,364.08 L229.00,364.06 L228.58,364.06 L228.15,364.11 L227.72,364.19 L227.30,364.25 L226.87,364.26 L226.44,364.20 L226.02,364.09 L225.59,363.98 L225.16,363.93 L224.73,363.95 L224.31,364.04 L223.88,364.15 L223.45,364.22 L223.03,364.23 L222.60,364.14 L222.17,364.00 L221.75,363.88 L221.32,363.83 L220.89,363.83 L220.46,363.83 L220.04,363.84 L219.61,363.84 L219.18,363.85 L218.76,363.93 L218.33,364.03 L217.90,364.12 L217.48,364.14 L217.05,364.17 L216.62,364.24 L216.19,364.30 L215.77,364.33 L215.34,364.32 L214.91,364.26 L214.49,364.20 L214.06,364.15 L213.63,364.14 L213.21,364.12 L212.78,364.10 L212.35,364.08 L211.92,364.07 L211.50,364.04 L211.07,363.97 L210.64,363.89 L210.22,363.84 L209.79,363.84 L209.36,363.90 L208.94,363.99 L208.51,364.06 L208.08,364.08 L207.65,364.05 L207.23,364.01 L206.80,363.96Z" fill="#e6f2df"/>
<path d="M206.80,329.16 L207.23,329.92 L207.65,330.48 L208.08,330.89 L208.51,331.20 L208.94,331.42 L209.36,331.61 L209.79,331.77 L210.22,331.92 L210.64,332.09 L211.07,332.26 L211.50,332.42 L211.92,332.56 L212.35,332.66 L212.78,332.72 L213.21,332.74 L213.63,332.74 L214.06,332.74 L214.49,332.74 L214.91,332.73 L215.34,332.72 L215.77,332.73 L216.19,332.73 L216.62,332.75 L217.05,332.77 L217.48,332.80 L217.90,332.82 L218.33,332.83 L218.76,332.84 L219.18,332.84 L219.61,332.85 L220.04,332.85 L220.46,332.87 L220.89,332.87 L221.32,332.88 L221.75,332.88 L222.17,332.86 L222.60,332.78 L223.03,332.68 L223.45,332.56 L223.88,332.45 L224.31,332.38 L224.73,332.35 L225.16,332.38 L225.59,332.46 L226.02,332.57 L226.44,332.69 L226.87,332.80 L227.30,332.87 L227.72,332.90 L228.15,332.88 L228.58,332.84 L229.00,332.78 L229.43,332.72 L229.86,332.66 L230.28,332.62 L230.71,332.60 L231.14,332.61 L231.57,332.63 L231.99,332.65 L232.42,332.68 L232.85,332.71 L233.27,332.73 L233.70,332.73 L234.13,332.71 L234.56,332.66 L234.98,332.58 L235.41,332.50 L235.84,332.42 L236.26,332.36 L236.69,332.35 L237.12,332.37 L237.54,332.46 L237.97,332.57 L238.40,332.71 L238.82,332.82 L239.25,332.91 L239.68,332.93 L240.11,332.93 L240.53,332.93 L240.96,332.92 L241.39,332.91 L241.81,332.91 L242.24,332.90 L242.67,332.90 L243.09,332.89 L243.52,332.86 L243.95,332.82 L244.38,332.77 L244.80,332.73 L245.23,332.70 L245.66,332.69 L246.08,332.70 L246.51,332.74 L246.94,332.80 L247.37,332.86 L247.79,332.92 L248.22,332.96 L248.65,332.97 L249.07,332.96 L249.50,332.92 L249.93,332.87 L250.35,332.82 L250.78,332.77 L251.21,332.73 L251.63,332.72 L252.06,332.71 L252.49,332.67 L252.92,332.62 L253.34,332.56 L253.77,332.51 L254.20,332.48 L254.62,332.47 L255.05,332.49 L255.48,332.56 L255.91,332.67 L256.33,332.79 L256.76,332.89 L257.19,332.97 L257.61,332.99 L258.04,332.97 L258.47,332.92 L258.89,332.84 L259.32,332.75 L259.75,332.67 L260.18,332.61 L260.60,332.59 L261.03,332.59 L261.46,332.58 L261.88,332.57 L262.31,332.56 L262.74,332.54 L263.16,332.53 L263.59,332.53 L264.02,332.55 L264.44,332.60 L264.87,332.68 L265.30,332.77 L265.73,332.85 L266.15,332.90 L266.58,332.92 L267.01,332.90 L267.43,332.83 L267.86,332.74 L268.29,332.63 L268.71,332.53 L269.14,332.47 L269.57,332.44 L270.00,332.47 L270.42,332.54 L270.85,332.64 L271.28,332.76 L271.70,332.86 L272.13,332.93 L272.56,332.96 L272.99,332.93 L273.41,332.85 L273.84,332.74 L274.27,332.62 L274.69,332.51 L275.12,332.43 L275.55,332.40 L275.97,332.43 L276.40,332.50 L276.83,332.59 L277.25,332.70 L277.68,332.80 L278.11,332.87 L278.54,332.89 L278.96,332.87 L279.39,332.80 L279.82,332.69 L280.24,332.57 L280.67,332.47 L281.10,332.40 L281.52,332.37 L281.95,332.37 L282.38,332.37 L282.81,332.37 L283.23,332.37 L283.66,332.37 L284.09,332.36 L284.51,332.36 L284.94,332.39 L285.37,332.45 L285.79,332.54 L286.22,332.64 L286.65,332.73 L287.08,332.80 L287.50,332.82 L287.93,332.83 L288.36,332.85 L288.78,332.88 L289.21,332.91 L289.64,332.94 L290.06,332.96 L290.49,332.97 L290.92,332.96 L291.35,332.96 L291.77,332.96 L292.20,332.95" fill="none" stroke="#92c87b" stroke-width="1.6" stroke-dasharray="1.3,1.8"/>
<path d="M206.80,364.10 L207.23,364.09 L207.65,364.07 L208.08,364.03 L208.51,364.00 L208.94,363.95 L209.36,363.90 L209.79,363.85 L210.22,363.79 L210.64,363.73 L211.07,363.66 L211.50,363.59 L211.92,363.52 L212.35,363.45 L212.78,363.37 L213.21,363.30 L213.63,363.22 L214.06,363.14 L214.49,363.05 L214.91,362.97 L215.34,362.88 L215.77,362.80 L216.19,362.71 L216.62,362.63 L217.05,362.54 L217.48,362.45 L217.90,362.37 L218.33,362.28 L218.76,362.19 L219.18,362.11 L219.61,362.02 L220.04,361.94 L220.46,361.85 L220.89,361.77 L221.32,361.69 L221.75,361.61 L222.17,361.53 L222.60,361.45 L223.03,361.37 L223.45,361.29 L223.88,361.21 L224.31,361.14 L224.73,361.07 L225.16,360.99 L225.59,360.92 L226.02,360.85 L226.44,360.79 L226.87,360.72 L227.30,360.65 L227.72,360.59 L228.15,360.53 L228.58,360.47 L229.00,360.41 L229.43,360.35 L229.86,360.30 L230.28,360.24 L230.71,360.19 L231.14,360.14 L231.57,360.09 L231.99,360.04 L232.42,359.99 L232.85,359.95 L233.27,359.90 L233.70,359.86 L234.13,359.82 L234.56,359.78 L234.98,359.74 L235.41,359.70 L235.84,359.67 L236.26,359.63 L236.69,359.60 L237.12,359.57 L237.54,359.53 L237.97,359.50 L238.40,359.47 L238.82,359.45 L239.25,359.42 L239.68,359.39 L240.11,359.37 L240.53,359.34 L240.96,359.32 L241.39,359.30 L241.81,359.28 L242.24,359.26 L242.67,359.24 L243.09,359.22 L243.52,359.20 L243.95,359.19 L244.38,359.17 L244.80,359.15 L245.23,359.14 L245.66,359.12 L246.08,359.11 L246.51,359.10 L246.94,359.08 L247.37,359.07 L247.79,359.06 L248.22,359.05 L248.65,359.04 L249.07,359.03 L249.50,359.02 L249.93,359.01 L250.35,359.00 L250.78,359.00 L251.21,358.99 L251.63,358.98 L252.06,358.97 L252.49,358.97 L252.92,358.96 L253.34,358.96 L253.77,358.95 L254.20,358.94 L254.62,358.94 L255.05,358.94 L255.48,358.93 L255.91,358.93 L256.33,358.92 L256.76,358.92 L257.19,358.91 L257.61,358.91 L258.04,358.91 L258.47,358.91 L258.89,358.90 L259.32,358.90 L259.75,358.90 L260.18,358.89 L260.60,358.89 L261.03,358.89 L261.46,358.89 L261.88,358.89 L262.31,358.88 L262.74,358.88 L263.16,358.88 L263.59,358.88 L264.02,358.88 L264.44,358.88 L264.87,358.88 L265.30,358.87 L265.73,358.87 L266.15,358.87 L266.58,358.87 L267.01,358.87 L267.43,358.87 L267.86,358.87 L268.29,358.87 L268.71,358.87 L269.14,358.87 L269.57,358.87 L270.00,358.87 L270.42,358.86 L270.85,358.86 L271.28,358.86 L271.70,358.86 L272.13,358.86 L272.56,358.86 L272.99,358.86 L273.41,358.86 L273.84,358.86 L274.27,358.86 L274.69,358.86 L275.12,358.86 L275.55,358.86 L275.97,358.86 L276.40,358.86 L276.83,358.86 L277.25,358.86 L277.68,358.86 L278.11,358.86 L278.54,358.86 L278.96,358.86 L279.39,358.86 L279.82,358.86 L280.24,358.86 L280.67,358.86 L281.10,358.86 L281.52,358.86 L281.95,358.86 L282.38,358.86 L282.81,358.86 L283.23,358.86 L283.66,358.86 L284.09,358.86 L284.51,358.86 L284.94,358.86 L285.37,358.86 L285.79,358.86 L286.22,358.86 L286.65,358.86 L287.08,358.86 L287.50,358.86 L287.93,358.86 L288.36,358.86 L288.78,358.86 L289.21,358.86 L289.64,358.86 L290.06,358.86 L290.49,358.86 L290.92,358.86 L291.35,358.86 L291.77,358.86 L292.20,358.86" fill="none" stroke="#92c87b" stroke-width="1.65"/>
<path d="M207.23,390.70 L207.65,390.68 L208.08,390.67 L208.50,390.66 L208.93,390.67 L209.35,390.70 L209.78,390.75 L210.20,390.79 L210.63,390.80 L211.05,390.75 L211.48,390.66 L211.90,390.56 L212.33,390.51 L212.75,390.51 L213.18,390.54 L213.60,390.57 L214.02,390.59 L214.45,390.60 L214.87,390.60 L215.30,390.59 L215.72,390.59 L216.15,390.58 L216.57,390.60 L217.00,390.64 L217.42,390.69 L217.85,390.72 L218.27,390.72 L218.70,390.68 L219.12,390.62 L219.55,390.57 L219.97,390.55 L220.40,390.56 L220.82,390.57 L221.25,390.59 L221.67,390.60 L222.10,390.60 L222.52,390.62 L222.95,390.64 L223.37,390.66 L223.80,390.66 L224.22,390.70 L224.65,390.78 L225.07,390.85 L225.50,390.89 L225.92,390.88 L226.35,390.83 L226.77,390.78 L227.20,390.74 L227.62,390.72 L228.05,390.68 L228.47,390.59 L228.90,390.52 L229.32,390.49 L229.74,390.51 L230.17,390.56 L230.59,390.63 L231.02,390.67 L231.44,390.68 L231.87,390.70 L232.29,390.73 L232.72,390.75 L233.14,390.76 L233.57,390.75 L233.99,390.71 L234.42,390.67 L234.84,390.65 L235.27,390.66 L235.69,390.72 L236.12,390.80 L236.54,390.86 L236.97,390.87 L237.39,390.86 L237.82,390.83 L238.24,390.80 L238.67,390.79 L239.09,390.77 L239.52,390.71 L239.94,390.64 L240.37,390.58 L240.79,390.58 L241.22,390.61 L241.64,390.66 L242.07,390.70 L242.49,390.72 L242.92,390.72 L243.34,390.74 L243.77,390.75 L244.19,390.76 L244.62,390.75 L245.04,390.68 L245.46,390.59 L245.89,390.51 L246.31,390.49 L246.74,390.52 L247.16,390.58 L247.59,390.65 L248.01,390.69 L248.44,390.70 L248.86,390.71 L249.29,390.72 L249.71,390.73 L250.14,390.73 L250.56,390.76 L250.99,390.82 L251.41,390.87 L251.84,390.90 L252.26,390.88 L252.69,390.81 L253.11,390.73 L253.54,390.67 L253.96,390.66 L254.39,390.67 L254.81,390.69 L255.24,390.70 L255.66,390.71 L256.09,390.72 L256.51,390.75 L256.94,390.78 L257.36,390.81 L257.79,390.79 L258.21,390.72 L258.64,390.61 L259.06,390.53 L259.49,390.50 L259.91,390.53 L260.34,390.57 L260.76,390.62 L261.18,390.65 L261.61,390.65 L262.03,390.66 L262.46,390.68 L262.88,390.68 L263.31,390.68 L263.73,390.66 L264.16,390.61 L264.58,390.56 L265.01,390.54 L265.43,390.56 L265.86,390.62 L266.28,390.70 L266.71,390.75 L267.13,390.75 L267.56,390.68 L267.98,390.59 L268.41,390.51 L268.83,390.48 L269.26,390.50 L269.68,390.54 L270.11,390.59 L270.53,390.62 L270.96,390.63 L271.38,390.66 L271.81,390.71 L272.23,390.75 L272.66,390.76 L273.08,390.75 L273.51,390.74 L273.93,390.73 L274.36,390.73 L274.78,390.71 L275.21,390.64 L275.63,390.56 L276.06,390.50 L276.48,390.49 L276.90,390.52 L277.33,390.58 L277.75,390.63 L278.18,390.66 L278.60,390.69 L279.03,390.77 L279.45,390.86 L279.88,390.93 L280.30,390.92 L280.73,390.83 L281.15,390.69 L281.58,390.58 L282.00,390.54 L282.43,390.57 L282.85,390.64 L283.28,390.70 L283.70,390.74 L284.13,390.75 L284.55,390.76 L284.98,390.78 L285.40,390.80 L285.83,390.80 L286.25,390.78 L286.68,390.75 L287.10,390.73 L287.53,390.71 L287.95,390.72 L288.38,390.76 L288.80,390.81 L289.23,390.84 L289.65,390.84 L290.08,390.79 L290.50,390.72 L290.93,390.65 L291.35,390.63 L291.78,390.63 L292.20,390.64 L292.20,401.49 L291.78,401.44 L291.35,401.42 L290.93,401.43 L290.50,401.46 L290.08,401.50 L289.65,401.53 L289.23,401.53 L288.80,401.52 L288.38,401.51 L287.95,401.50 L287.53,401.50 L287.10,401.48 L286.68,401.43 L286.25,401.39 L285.83,401.36 L285.40,401.37 L284.98,401.41 L284.55,401.46 L284.13,401.49 L283.70,401.50 L283.28,401.53 L282.85,401.59 L282.43,401.64 L282.00,401.67 L281.58,401.67 L281.15,401.67 L280.73,401.67 L280.30,401.67 L279.88,401.67 L279.45,401.66 L279.03,401.65 L278.60,401.64 L278.18,401.64 L277.75,401.65 L277.33,401.67 L276.90,401.69 L276.48,401.70 L276.06,401.69 L275.63,401.63 L275.21,401.55 L274.78,401.48 L274.36,401.46 L273.93,401.48 L273.51,401.53 L273.08,401.58 L272.66,401.61 L272.23,401.60 L271.81,401.55 L271.38,401.49 L270.96,401.45 L270.53,401.44 L270.11,401.48 L269.68,401.54 L269.26,401.60 L268.83,401.63 L268.41,401.62 L267.98,401.59 L267.56,401.55 L267.13,401.52 L266.71,401.52 L266.28,401.53 L265.86,401.54 L265.43,401.56 L265.01,401.56 L264.58,401.55 L264.16,401.53 L263.73,401.50 L263.31,401.49 L262.88,401.49 L262.46,401.51 L262.03,401.54 L261.61,401.56 L261.18,401.57 L260.76,401.59 L260.34,401.62 L259.91,401.66 L259.49,401.68 L259.06,401.66 L258.64,401.62 L258.21,401.56 L257.79,401.51 L257.36,401.50 L256.94,401.46 L256.51,401.40 L256.09,401.33 L255.66,401.31 L255.24,401.32 L254.81,401.34 L254.39,401.36 L253.96,401.37 L253.54,401.37 L253.11,401.37 L252.69,401.36 L252.26,401.36 L251.84,401.36 L251.41,401.42 L250.99,401.54 L250.56,401.68 L250.14,401.75 L249.71,401.74 L249.29,401.68 L248.86,401.61 L248.44,401.55 L248.01,401.53 L247.59,401.55 L247.16,401.58 L246.74,401.61 L246.31,401.62 L245.89,401.63 L245.46,401.65 L245.04,401.67 L244.62,401.68 L244.19,401.68 L243.77,401.66 L243.34,401.63 L242.92,401.60 L242.49,401.59 L242.07,401.59 L241.64,401.61 L241.22,401.63 L240.79,401.64 L240.37,401.64 L239.94,401.60 L239.52,401.55 L239.09,401.50 L238.67,401.49 L238.24,401.50 L237.82,401.53 L237.39,401.55 L236.97,401.57 L236.54,401.57 L236.12,401.59 L235.69,401.61 L235.27,401.62 L234.84,401.63 L234.42,401.65 L233.99,401.69 L233.57,401.73 L233.14,401.74 L232.72,401.71 L232.29,401.60 L231.87,401.48 L231.44,401.40 L231.02,401.40 L230.59,401.47 L230.17,401.59 L229.74,401.68 L229.32,401.72 L228.90,401.70 L228.47,401.64 L228.05,401.57 L227.62,401.54 L227.20,401.54 L226.77,401.54 L226.35,401.55 L225.92,401.55 L225.50,401.55 L225.07,401.52 L224.65,401.45 L224.22,401.39 L223.80,401.35 L223.37,401.35 L222.95,401.35 L222.52,401.35 L222.10,401.34 L221.67,401.34 L221.25,401.37 L220.82,401.40 L220.40,401.44 L219.97,401.45 L219.55,401.45 L219.12,401.43 L218.70,401.42 L218.27,401.40 L217.85,401.41 L217.42,401.46 L217.00,401.54 L216.57,401.60 L216.15,401.62 L215.72,401.64 L215.30,401.69 L214.87,401.73 L214.45,401.76 L214.02,401.76 L213.60,401.76 L213.18,401.77 L212.75,401.77 L212.33,401.77 L211.90,401.69 L211.48,401.55 L211.05,401.42 L210.63,401.35 L210.20,401.35 L209.78,401.37 L209.35,401.38 L208.93,401.40 L208.50,401.40 L208.08,401.39 L207.65,401.38 L207.23,401.37Z" fill="#fde3bb"/>
<path d="M206.80,429.53 L207.23,429.30 L207.65,429.02 L208.08,428.77 L208.51,428.54 L208.94,428.32 L209.36,428.10 L209.79,427.86 L210.22,427.61 L210.64,427.35 L211.07,427.08 L211.50,426.82 L211.92,426.55 L212.35,426.30 L212.78,426.07 L213.21,425.85 L213.63,425.61 L214.06,425.35 L214.49,425.05 L214.91,424.74 L215.34,424.45 L215.77,424.18 L216.19,423.94 L216.62,423.70 L217.05,423.47 L217.48,423.23 L217.90,422.99 L218.33,422.76 L218.76,422.54 L219.18,422.32 L219.61,422.09 L220.04,421.90 L220.46,421.74 L220.89,421.57 L221.32,421.37 L221.75,421.14 L222.17,420.89 L222.60,420.63 L223.03,420.39 L223.45,420.18 L223.88,419.93 L224.31,419.66 L224.73,419.41 L225.16,419.20 L225.59,419.04 L226.02,418.90 L226.44,418.76 L226.87,418.61 L227.30,418.44 L227.72,418.28 L228.15,418.13 L228.58,417.98 L229.00,417.81 L229.43,417.63 L229.86,417.43 L230.28,417.25 L230.71,417.08 L231.14,416.95 L231.57,416.85 L231.99,416.77 L232.42,416.66 L232.85,416.52 L233.27,416.36 L233.70,416.20 L234.13,416.05 L234.56,415.91 L234.98,415.75 L235.41,415.57 L235.84,415.39 L236.26,415.24 L236.69,415.13 L237.12,415.04 L237.54,414.97 L237.97,414.88 L238.40,414.78 L238.82,414.68 L239.25,414.58 L239.68,414.49 L240.11,414.39 L240.53,414.26 L240.96,414.10 L241.39,413.93 L241.81,413.79 L242.24,413.70 L242.67,413.65 L243.09,413.62 L243.52,413.58 L243.95,413.51 L244.38,413.43 L244.80,413.36 L245.23,413.28 L245.66,413.21 L246.08,413.15 L246.51,413.11 L246.94,413.09 L247.37,413.05 L247.79,412.98 L248.22,412.87 L248.65,412.74 L249.07,412.61 L249.50,412.53 L249.93,412.47 L250.35,412.42 L250.78,412.37 L251.21,412.32 L251.63,412.27 L252.06,412.23 L252.49,412.20 L252.92,412.17 L253.34,412.13 L253.77,412.03 L254.20,411.90 L254.62,411.78 L255.05,411.69 L255.48,411.65 L255.91,411.64 L256.33,411.63 L256.76,411.62 L257.19,411.58 L257.61,411.54 L258.04,411.51 L258.47,411.48 L258.89,411.45 L259.32,411.40 L259.75,411.32 L260.18,411.24 L260.60,411.18 L261.03,411.15 L261.46,411.16 L261.88,411.19 L262.31,411.21 L262.74,411.19 L263.16,411.12 L263.59,411.02 L264.02,410.92 L264.44,410.86 L264.87,410.84 L265.30,410.84 L265.73,410.85 L266.15,410.85 L266.58,410.83 L267.01,410.83 L267.43,410.85 L267.86,410.86 L268.29,410.85 L268.71,410.82 L269.14,410.79 L269.57,410.76 L270.00,410.74 L270.42,410.71 L270.85,410.64 L271.28,410.55 L271.70,410.48 L272.13,410.45 L272.56,410.45 L272.99,410.48 L273.41,410.51 L273.84,410.51 L274.27,410.51 L274.69,410.56 L275.12,410.62 L275.55,410.66 L275.97,410.65 L276.40,410.57 L276.83,410.45 L277.25,410.34 L277.68,410.29 L278.11,410.30 L278.54,410.33 L278.96,410.38 L279.39,410.40 L279.82,410.39 L280.24,410.39 L280.67,410.40 L281.10,410.40 L281.52,410.39 L281.95,410.37 L282.38,410.33 L282.81,410.30 L283.23,410.28 L283.66,410.28 L284.09,410.30 L284.51,410.33 L284.94,410.34 L285.37,410.34 L285.79,410.29 L286.22,410.23 L286.65,410.17 L287.08,410.14 L287.50,410.13 L287.93,410.13 L288.36,410.13 L288.78,410.13 L289.21,410.12 L289.64,410.13 L290.06,410.15 L290.49,410.16 L290.92,410.15 L291.35,410.15 L291.77,410.14 L292.20,410.13 L292.20,427.27 L291.77,427.27 L291.35,427.27 L290.92,427.27 L290.49,427.27 L290.06,427.25 L289.64,427.23 L289.21,427.21 L288.78,427.21 L288.36,427.18 L287.93,427.13 L287.50,427.09 L287.08,427.07 L286.65,427.08 L286.22,427.11 L285.79,427.14 L285.37,427.16 L284.94,427.16 L284.51,427.15 L284.09,427.15 L283.66,427.14 L283.23,427.14 L282.81,427.12 L282.38,427.08 L281.95,427.05 L281.52,427.03 L281.10,427.04 L280.67,427.07 L280.24,427.11 L279.82,427.13 L279.39,427.14 L278.96,427.17 L278.54,427.22 L278.11,427.26 L277.68,427.27 L277.25,427.27 L276.83,427.27 L276.40,427.27 L275.97,427.27 L275.55,427.27 L275.12,427.27 L274.69,427.26 L274.27,427.25 L273.84,427.25 L273.41,427.26 L272.99,427.28 L272.56,427.29 L272.13,427.30 L271.70,427.29 L271.28,427.23 L270.85,427.16 L270.42,427.11 L270.00,427.11 L269.57,427.13 L269.14,427.18 L268.71,427.21 L268.29,427.23 L267.86,427.21 L267.43,427.17 L267.01,427.12 L266.58,427.09 L266.15,427.10 L265.73,427.13 L265.30,427.19 L264.87,427.23 L264.44,427.24 L264.02,427.23 L263.59,427.20 L263.16,427.17 L262.74,427.16 L262.31,427.16 L261.88,427.17 L261.46,427.18 L261.03,427.19 L260.60,427.19 L260.18,427.18 L259.75,427.16 L259.32,427.14 L258.89,427.14 L258.47,427.14 L258.04,427.16 L257.61,427.19 L257.19,427.20 L256.76,427.21 L256.33,427.23 L255.91,427.26 L255.48,427.29 L255.05,427.29 L254.62,427.27 L254.20,427.23 L253.77,427.19 L253.34,427.16 L252.92,427.15 L252.49,427.11 L252.06,427.06 L251.63,427.02 L251.21,427.02 L250.78,427.03 L250.35,427.05 L249.93,427.07 L249.50,427.08 L249.07,427.08 L248.65,427.08 L248.22,427.08 L247.79,427.08 L247.37,427.10 L246.94,427.18 L246.51,427.30 L246.08,427.40 L245.66,427.43 L245.23,427.40 L244.80,427.35 L244.38,427.30 L243.95,427.28 L243.52,427.29 L243.09,427.32 L242.67,427.35 L242.24,427.38 L241.81,427.40 L241.39,427.42 L240.96,427.45 L240.53,427.47 L240.11,427.49 L239.68,427.49 L239.25,427.48 L238.82,427.47 L238.40,427.47 L237.97,427.49 L237.54,427.51 L237.12,427.55 L236.69,427.58 L236.26,427.60 L235.84,427.60 L235.41,427.58 L234.98,427.56 L234.56,427.56 L234.13,427.59 L233.70,427.63 L233.27,427.67 L232.85,427.71 L232.42,427.74 L231.99,427.78 L231.57,427.82 L231.14,427.87 L230.71,427.90 L230.28,427.94 L229.86,428.01 L229.43,428.07 L229.00,428.12 L228.58,428.14 L228.15,428.11 L227.72,428.04 L227.30,428.00 L226.87,428.01 L226.44,428.09 L226.02,428.22 L225.59,428.34 L225.16,428.43 L224.73,428.45 L224.31,428.45 L223.88,428.44 L223.45,428.44 L223.03,428.47 L222.60,428.52 L222.17,428.56 L221.75,428.61 L221.32,428.65 L220.89,428.67 L220.46,428.66 L220.04,428.64 L219.61,428.65 L219.18,428.68 L218.76,428.72 L218.33,428.76 L217.90,428.79 L217.48,428.83 L217.05,428.88 L216.62,428.94 L216.19,429.01 L215.77,429.05 L215.34,429.08 L214.91,429.10 L214.49,429.12 L214.06,429.14 L213.63,429.17 L213.21,429.23 L212.78,429.32 L212.35,429.39 L211.92,429.44 L211.50,429.47 L211.07,429.52 L210.64,429.58 L210.22,429.62 L209.79,429.63 L209.36,429.65 L208.94,429.66 L208.51,429.67 L208.08,429.68 L207.65,429.62 L207.23,429.52 L206.80,429.41Z" fill="#fde3bb"/>
<path d="M207.23,395.46 L207.65,395.61 L208.08,395.71 L208.50,395.76 L208.93,395.79 L209.35,395.82 L209.78,395.86 L210.20,395.90 L210.63,395.93 L211.05,395.94 L211.48,395.95 L211.90,395.95 L212.33,395.96 L212.75,395.96 L213.18,395.98 L213.60,396.03 L214.02,396.10 L214.45,396.17 L214.87,396.24 L215.30,396.29 L215.72,396.31 L216.15,396.31 L216.57,396.29 L217.00,396.27 L217.42,396.24 L217.85,396.22 L218.27,396.20 L218.70,396.19 L219.12,396.18 L219.55,396.16 L219.97,396.11 L220.40,396.06 L220.82,396.02 L221.25,395.98 L221.67,395.97 L222.10,395.98 L222.52,396.03 L222.95,396.10 L223.37,396.18 L223.80,396.26 L224.22,396.32 L224.65,396.34 L225.07,396.33 L225.50,396.29 L225.92,396.23 L226.35,396.15 L226.77,396.08 L227.20,396.03 L227.62,396.00 L228.05,396.00 L228.47,396.01 L228.90,396.02 L229.32,396.03 L229.74,396.03 L230.17,396.04 L230.59,396.04 L231.02,396.04 L231.44,396.03 L231.87,396.01 L232.29,395.99 L232.72,395.98 L233.14,395.96 L233.57,395.95 L233.99,395.96 L234.42,396.01 L234.84,396.09 L235.27,396.19 L235.69,396.28 L236.12,396.35 L236.54,396.39 L236.97,396.38 L237.39,396.33 L237.82,396.26 L238.24,396.17 L238.67,396.08 L239.09,396.02 L239.52,395.98 L239.94,395.99 L240.37,396.03 L240.79,396.10 L241.22,396.19 L241.64,396.27 L242.07,396.34 L242.49,396.38 L242.92,396.38 L243.34,396.34 L243.77,396.29 L244.19,396.22 L244.62,396.15 L245.04,396.10 L245.46,396.07 L245.89,396.07 L246.31,396.07 L246.74,396.07 L247.16,396.08 L247.59,396.08 L248.01,396.09 L248.44,396.09 L248.86,396.09 L249.29,396.11 L249.71,396.13 L250.14,396.16 L250.56,396.19 L250.99,396.21 L251.41,396.23 L251.84,396.23 L252.26,396.25 L252.69,396.27 L253.11,396.31 L253.54,396.34 L253.96,396.37 L254.39,396.39 L254.81,396.39 L255.24,396.35 L255.66,396.29 L256.09,396.21 L256.51,396.13 L256.94,396.06 L257.36,396.03 L257.79,396.02 L258.21,396.02 L258.64,396.03 L259.06,396.04 L259.49,396.05 L259.91,396.06 L260.34,396.07 L260.76,396.07 L261.18,396.09 L261.61,396.13 L262.03,396.18 L262.46,396.24 L262.88,396.28 L263.31,396.31 L263.73,396.32 L264.16,396.30 L264.58,396.26 L265.01,396.21 L265.43,396.16 L265.86,396.12 L266.28,396.10 L266.71,396.09 L267.13,396.08 L267.56,396.07 L267.98,396.06 L268.41,396.04 L268.83,396.02 L269.26,396.02 L269.68,396.01 L270.11,396.03 L270.53,396.05 L270.96,396.09 L271.38,396.13 L271.81,396.16 L272.23,396.18 L272.66,396.19 L273.08,396.18 L273.51,396.15 L273.93,396.11 L274.36,396.07 L274.78,396.04 L275.21,396.02 L275.63,396.01 L276.06,396.02 L276.48,396.04 L276.90,396.07 L277.33,396.10 L277.75,396.13 L278.18,396.15 L278.60,396.15 L279.03,396.15 L279.45,396.15 L279.88,396.15 L280.30,396.16 L280.73,396.16 L281.15,396.16 L281.58,396.16 L282.00,396.16 L282.43,396.16 L282.85,396.16 L283.28,396.17 L283.70,396.17 L284.13,396.17 L284.55,396.17 L284.98,396.17 L285.40,396.19 L285.83,396.21 L286.25,396.23 L286.68,396.24 L287.10,396.26 L287.53,396.26 L287.95,396.25 L288.38,396.23 L288.80,396.20 L289.23,396.17 L289.65,396.14 L290.08,396.12 L290.50,396.11 L290.93,396.12 L291.35,396.14 L291.78,396.16 L292.20,396.19" fill="none" stroke="#fba81e" stroke-width="1.6" stroke-dasharray="1.3,1.8"/>
<path d="M206.80,429.50 L207.23,429.46 L207.65,429.41 L208.08,429.34 L208.51,429.26 L208.94,429.17 L209.36,429.08 L209.79,428.98 L210.22,428.87 L210.64,428.77 L211.07,428.65 L211.50,428.54 L211.92,428.42 L212.35,428.30 L212.78,428.18 L213.21,428.05 L213.63,427.92 L214.06,427.80 L214.49,427.67 L214.91,427.54 L215.34,427.41 L215.77,427.27 L216.19,427.14 L216.62,427.01 L217.05,426.88 L217.48,426.74 L217.90,426.61 L218.33,426.48 L218.76,426.35 L219.18,426.21 L219.61,426.08 L220.04,425.95 L220.46,425.82 L220.89,425.69 L221.32,425.56 L221.75,425.44 L222.17,425.31 L222.60,425.18 L223.03,425.06 L223.45,424.93 L223.88,424.81 L224.31,424.69 L224.73,424.57 L225.16,424.45 L225.59,424.33 L226.02,424.22 L226.44,424.10 L226.87,423.99 L227.30,423.88 L227.72,423.77 L228.15,423.66 L228.58,423.55 L229.00,423.44 L229.43,423.34 L229.86,423.24 L230.28,423.14 L230.71,423.04 L231.14,422.94 L231.57,422.84 L231.99,422.75 L232.42,422.65 L232.85,422.56 L233.27,422.47 L233.70,422.38 L234.13,422.29 L234.56,422.21 L234.98,422.12 L235.41,422.04 L235.84,421.96 L236.26,421.88 L236.69,421.80 L237.12,421.72 L237.54,421.65 L237.97,421.57 L238.40,421.50 L238.82,421.43 L239.25,421.36 L239.68,421.29 L240.11,421.22 L240.53,421.16 L240.96,421.09 L241.39,421.03 L241.81,420.97 L242.24,420.91 L242.67,420.85 L243.09,420.79 L243.52,420.74 L243.95,420.68 L244.38,420.63 L244.80,420.57 L245.23,420.52 L245.66,420.47 L246.08,420.42 L246.51,420.37 L246.94,420.33 L247.37,420.28 L247.79,420.24 L248.22,420.19 L248.65,420.15 L249.07,420.11 L249.50,420.07 L249.93,420.03 L250.35,419.99 L250.78,419.95 L251.21,419.92 L251.63,419.88 L252.06,419.84 L252.49,419.81 L252.92,419.78 L253.34,419.74 L253.77,419.71 L254.20,419.68 L254.62,419.65 L255.05,419.62 L255.48,419.59 L255.91,419.57 L256.33,419.54 L256.76,419.51 L257.19,419.49 L257.61,419.46 L258.04,419.44 L258.47,419.42 L258.89,419.39 L259.32,419.37 L259.75,419.35 L260.18,419.33 L260.60,419.31 L261.03,419.29 L261.46,419.27 L261.88,419.25 L262.31,419.23 L262.74,419.21 L263.16,419.20 L263.59,419.18 L264.02,419.16 L264.44,419.15 L264.87,419.13 L265.30,419.12 L265.73,419.10 L266.15,419.09 L266.58,419.08 L267.01,419.06 L267.43,419.05 L267.86,419.04 L268.29,419.02 L268.71,419.01 L269.14,419.00 L269.57,418.99 L270.00,418.98 L270.42,418.97 L270.85,418.96 L271.28,418.95 L271.70,418.94 L272.13,418.93 L272.56,418.92 L272.99,418.91 L273.41,418.91 L273.84,418.90 L274.27,418.89 L274.69,418.88 L275.12,418.87 L275.55,418.87 L275.97,418.86 L276.40,418.85 L276.83,418.85 L277.25,418.84 L277.68,418.84 L278.11,418.83 L278.54,418.82 L278.96,418.82 L279.39,418.81 L279.82,418.81 L280.24,418.80 L280.67,418.80 L281.10,418.79 L281.52,418.79 L281.95,418.78 L282.38,418.78 L282.81,418.78 L283.23,418.77 L283.66,418.77 L284.09,418.76 L284.51,418.76 L284.94,418.76 L285.37,418.75 L285.79,418.75 L286.22,418.75 L286.65,418.75 L287.08,418.74 L287.50,418.74 L287.93,418.74 L288.36,418.73 L288.78,418.73 L289.21,418.73 L289.64,418.73 L290.06,418.72 L290.49,418.72 L290.92,418.72 L291.35,418.72 L291.77,418.72 L292.20,418.71" fill="none" stroke="#fba81e" stroke-width="1.65"/>
<path d="M206.80,455.86 L207.23,455.86 L207.65,455.86 L208.08,455.86 L208.51,455.86 L208.94,455.86 L209.36,455.86 L209.79,455.86 L210.22,455.86 L210.64,455.86 L211.07,455.86 L211.50,455.86 L211.92,455.86 L212.35,455.86 L212.78,455.86 L213.21,455.86 L213.63,455.86 L214.06,455.86 L214.49,455.86 L214.91,455.86 L215.34,455.86 L215.77,455.86 L216.19,455.86 L216.62,455.86 L217.05,455.86 L217.48,455.86 L217.90,455.86 L218.33,455.86 L218.76,455.86 L219.18,455.86 L219.61,455.86 L220.04,455.86 L220.46,455.86 L220.89,455.86 L221.32,455.86 L221.75,455.86 L222.17,455.86 L222.60,455.86 L223.03,455.86 L223.45,455.86 L223.88,455.86 L224.31,455.86 L224.73,455.86 L225.16,455.86 L225.59,455.86 L226.02,455.86 L226.44,455.86 L226.87,455.86 L227.30,455.86 L227.72,455.86 L228.15,455.86 L228.58,455.86 L229.00,455.86 L229.43,455.86 L229.86,455.86 L230.28,455.86 L230.71,455.86 L231.14,455.86 L231.57,455.86 L231.99,455.86 L232.42,455.86 L232.85,455.86 L233.27,455.86 L233.70,455.86 L234.13,455.86 L234.56,455.86 L234.98,455.86 L235.41,455.86 L235.84,455.86 L236.26,455.86 L236.69,455.86 L237.12,455.86 L237.54,455.86 L237.97,455.86 L238.40,455.86 L238.82,455.86 L239.25,455.86 L239.68,455.86 L240.11,455.86 L240.53,455.86 L240.96,455.86 L241.39,455.86 L241.81,455.86 L242.24,455.86 L242.67,455.86 L243.09,455.86 L243.52,455.86 L243.95,455.86 L244.38,455.86 L244.80,455.86 L245.23,455.86 L245.66,455.86 L246.08,455.86 L246.51,455.86 L246.94,455.86 L247.37,455.86 L247.79,455.86 L248.22,455.86 L248.65,455.86 L249.07,455.86 L249.50,455.86 L249.93,455.86 L250.35,455.86 L250.78,455.86 L251.21,455.86 L251.63,455.86 L252.06,455.86 L252.49,455.86 L252.92,455.86 L253.34,455.86 L253.77,455.86 L254.20,455.86 L254.62,455.86 L255.05,455.86 L255.48,455.86 L255.91,455.86 L256.33,455.86 L256.76,455.86 L257.19,455.86 L257.61,455.86 L258.04,455.86 L258.47,455.86 L258.89,455.86 L259.32,455.86 L259.75,455.86 L260.18,455.86 L260.60,455.86 L261.03,455.86 L261.46,455.86 L261.88,455.86 L262.31,455.86 L262.74,455.86 L263.16,455.86 L263.59,455.86 L264.02,455.86 L264.44,455.86 L264.87,455.86 L265.30,455.86 L265.73,455.86 L266.15,455.86 L266.58,455.86 L267.01,455.86 L267.43,455.86 L267.86,455.86 L268.29,455.86 L268.71,455.86 L269.14,455.86 L269.57,455.86 L270.00,455.86 L270.42,455.86 L270.85,455.86 L271.28,455.86 L271.70,455.86 L272.13,455.86 L272.56,455.86 L272.99,455.86 L273.41,455.86 L273.84,455.86 L274.27,455.86 L274.69,455.86 L275.12,455.86 L275.55,455.86 L275.97,455.86 L276.40,455.86 L276.83,455.86 L277.25,455.86 L277.68,455.86 L278.11,455.86 L278.54,455.86 L278.96,455.86 L279.39,455.86 L279.82,455.86 L280.24,455.86 L280.67,455.86 L281.10,455.86 L281.52,455.86 L281.95,455.86 L282.38,455.86 L282.81,455.86 L283.23,455.86 L283.66,455.86 L284.09,455.86 L284.51,455.86 L284.94,455.86 L285.37,455.86 L285.79,455.86 L286.22,455.86 L286.65,455.86 L287.08,455.86 L287.50,455.86 L287.93,455.86 L288.36,455.86 L288.78,455.86 L289.21,455.86 L289.64,455.86 L290.06,455.86 L290.49,455.86 L290.92,455.86 L291.35,455.86 L291.77,455.86 L292.20,455.86 L292.20,465.79 L291.77,465.79 L291.35,465.79 L290.92,465.79 L290.49,465.79 L290.06,465.79 L289.64,465.79 L289.21,465.79 L288.78,465.79 L288.36,465.79 L287.93,465.79 L287.50,465.79 L287.08,465.79 L286.65,465.79 L286.22,465.79 L285.79,465.79 L285.37,465.79 L284.94,465.79 L284.51,465.79 L284.09,465.79 L283.66,465.79 L283.23,465.79 L282.81,465.79 L282.38,465.79 L281.95,465.79 L281.52,465.79 L281.10,465.79 L280.67,465.79 L280.24,465.79 L279.82,465.79 L279.39,465.79 L278.96,465.79 L278.54,465.79 L278.11,465.79 L277.68,465.79 L277.25,465.79 L276.83,465.79 L276.40,465.79 L275.97,465.79 L275.55,465.79 L275.12,465.79 L274.69,465.79 L274.27,465.79 L273.84,465.79 L273.41,465.79 L272.99,465.79 L272.56,465.79 L272.13,465.79 L271.70,465.79 L271.28,465.79 L270.85,465.79 L270.42,465.79 L270.00,465.79 L269.57,465.79 L269.14,465.79 L268.71,465.79 L268.29,465.79 L267.86,465.79 L267.43,465.79 L267.01,465.79 L266.58,465.79 L266.15,465.79 L265.73,465.79 L265.30,465.79 L264.87,465.79 L264.44,465.79 L264.02,465.79 L263.59,465.79 L263.16,465.79 L262.74,465.79 L262.31,465.79 L261.88,465.79 L261.46,465.79 L261.03,465.79 L260.60,465.79 L260.18,465.79 L259.75,465.79 L259.32,465.79 L258.89,465.79 L258.47,465.79 L258.04,465.79 L257.61,465.79 L257.19,465.79 L256.76,465.79 L256.33,465.79 L255.91,465.79 L255.48,465.79 L255.05,465.79 L254.62,465.79 L254.20,465.79 L253.77,465.79 L253.34,465.79 L252.92,465.79 L252.49,465.79 L252.06,465.79 L251.63,465.79 L251.21,465.79 L250.78,465.79 L250.35,465.79 L249.93,465.79 L249.50,465.79 L249.07,465.79 L248.65,465.79 L248.22,465.79 L247.79,465.79 L247.37,465.79 L246.94,465.79 L246.51,465.79 L246.08,465.79 L245.66,465.79 L245.23,465.79 L244.80,465.79 L244.38,465.79 L243.95,465.79 L243.52,465.79 L243.09,465.79 L242.67,465.79 L242.24,465.79 L241.81,465.79 L241.39,465.79 L240.96,465.79 L240.53,465.79 L240.11,465.79 L239.68,465.79 L239.25,465.79 L238.82,465.79 L238.40,465.79 L237.97,465.79 L237.54,465.79 L237.12,465.79 L236.69,465.79 L236.26,465.79 L235.84,465.79 L235.41,465.79 L234.98,465.79 L234.56,465.79 L234.13,465.79 L233.70,465.79 L233.27,465.79 L232.85,465.79 L232.42,465.79 L231.99,465.79 L231.57,465.79 L231.14,465.79 L230.71,465.79 L230.28,465.79 L229.86,465.79 L229.43,465.79 L229.00,465.79 L228.58,465.79 L228.15,465.79 L227.72,465.79 L227.30,465.79 L226.87,465.79 L226.44,465.79 L226.02,465.79 L225.59,465.79 L225.16,465.79 L224.73,465.79 L224.31,465.79 L223.88,465.79 L223.45,465.79 L223.03,465.79 L222.60,465.79 L222.17,465.79 L221.75,465.79 L221.32,465.79 L220.89,465.79 L220.46,465.79 L220.04,465.79 L219.61,465.79 L219.18,465.79 L218.76,465.79 L218.33,465.79 L217.90,465.79 L217.48,465.79 L217.05,465.79 L216.62,465.79 L216.19,465.79 L215.77,465.79 L215.34,465.79 L214.91,465.79 L214.49,465.79 L214.06,465.79 L213.63,465.79 L213.21,465.79 L212.78,465.79 L212.35,465.79 L211.92,465.79 L211.50,465.79 L211.07,465.79 L210.64,465.79 L210.22,465.79 L209.79,465.79 L209.36,465.79 L208.94,465.79 L208.51,465.79 L208.08,465.79 L207.65,465.79 L207.23,465.79 L206.80,465.79Z" fill="#d3e8f2"/>
<path d="M206.80,494.90 L207.23,493.73 L207.65,492.62 L208.08,491.57 L208.51,490.57 L208.94,489.63 L209.36,488.74 L209.79,487.90 L210.22,487.11 L210.64,486.36 L211.07,485.64 L211.50,484.97 L211.92,484.33 L212.35,483.73 L212.78,483.16 L213.21,482.62 L213.63,482.11 L214.06,481.63 L214.49,481.17 L214.91,480.74 L215.34,480.33 L215.77,479.95 L216.19,479.58 L216.62,479.24 L217.05,478.91 L217.48,478.60 L217.90,478.31 L218.33,478.03 L218.76,477.77 L219.18,477.52 L219.61,477.29 L220.04,477.07 L220.46,476.86 L220.89,476.66 L221.32,476.47 L221.75,476.29 L222.17,476.12 L222.60,475.97 L223.03,475.82 L223.45,475.67 L223.88,475.54 L224.31,475.41 L224.73,475.29 L225.16,475.18 L225.59,475.07 L226.02,474.97 L226.44,474.87 L226.87,474.78 L227.30,474.69 L227.72,474.61 L228.15,474.54 L228.58,474.46 L229.00,474.39 L229.43,474.33 L229.86,474.27 L230.28,474.21 L230.71,474.15 L231.14,474.10 L231.57,474.05 L231.99,474.00 L232.42,473.96 L232.85,473.92 L233.27,473.88 L233.70,473.84 L234.13,473.81 L234.56,473.77 L234.98,473.74 L235.41,473.71 L235.84,473.68 L236.26,473.66 L236.69,473.63 L237.12,473.61 L237.54,473.58 L237.97,473.56 L238.40,473.54 L238.82,473.52 L239.25,473.50 L239.68,473.49 L240.11,473.47 L240.53,473.46 L240.96,473.44 L241.39,473.43 L241.81,473.41 L242.24,473.40 L242.67,473.39 L243.09,473.38 L243.52,473.37 L243.95,473.36 L244.38,473.35 L244.80,473.34 L245.23,473.33 L245.66,473.32 L246.08,473.32 L246.51,473.31 L246.94,473.30 L247.37,473.30 L247.79,473.29 L248.22,473.29 L248.65,473.28 L249.07,473.27 L249.50,473.27 L249.93,473.27 L250.35,473.26 L250.78,473.26 L251.21,473.25 L251.63,473.25 L252.06,473.25 L252.49,473.24 L252.92,473.24 L253.34,473.24 L253.77,473.23 L254.20,473.23 L254.62,473.23 L255.05,473.23 L255.48,473.22 L255.91,473.22 L256.33,473.22 L256.76,473.22 L257.19,473.22 L257.61,473.22 L258.04,473.21 L258.47,473.21 L258.89,473.21 L259.32,473.21 L259.75,473.21 L260.18,473.21 L260.60,473.21 L261.03,473.20 L261.46,473.20 L261.88,473.20 L262.31,473.20 L262.74,473.20 L263.16,473.20 L263.59,473.20 L264.02,473.20 L264.44,473.20 L264.87,473.20 L265.30,473.20 L265.73,473.20 L266.15,473.20 L266.58,473.20 L267.01,473.19 L267.43,473.19 L267.86,473.19 L268.29,473.19 L268.71,473.19 L269.14,473.19 L269.57,473.19 L270.00,473.19 L270.42,473.19 L270.85,473.19 L271.28,473.19 L271.70,473.19 L272.13,473.19 L272.56,473.19 L272.99,473.19 L273.41,473.19 L273.84,473.19 L274.27,473.19 L274.69,473.19 L275.12,473.19 L275.55,473.19 L275.97,473.19 L276.40,473.19 L276.83,473.19 L277.25,473.19 L277.68,473.19 L278.11,473.19 L278.54,473.19 L278.96,473.19 L279.39,473.19 L279.82,473.19 L280.24,473.19 L280.67,473.19 L281.10,473.19 L281.52,473.19 L281.95,473.19 L282.38,473.19 L282.81,473.19 L283.23,473.19 L283.66,473.19 L284.09,473.19 L284.51,473.19 L284.94,473.19 L285.37,473.19 L285.79,473.19 L286.22,473.19 L286.65,473.19 L287.08,473.19 L287.50,473.19 L287.93,473.19 L288.36,473.19 L288.78,473.19 L289.21,473.19 L289.64,473.19 L290.06,473.19 L290.49,473.19 L290.92,473.19 L291.35,473.19 L291.77,473.19 L292.20,473.19 L292.20,490.97 L291.77,490.97 L291.35,490.97 L290.92,490.97 L290.49,490.97 L290.06,490.97 L289.64,490.97 L289.21,490.97 L288.78,490.97 L288.36,490.97 L287.93,490.97 L287.50,490.97 L287.08,490.97 L286.65,490.97 L286.22,490.97 L285.79,490.97 L285.37,490.97 L284.94,490.97 L284.51,490.97 L284.09,490.97 L283.66,490.97 L283.23,490.97 L282.81,490.97 L282.38,490.97 L281.95,490.97 L281.52,490.97 L281.10,490.97 L280.67,490.97 L280.24,490.97 L279.82,490.97 L279.39,490.97 L278.96,490.97 L278.54,490.97 L278.11,490.97 L277.68,490.97 L277.25,490.97 L276.83,490.97 L276.40,490.97 L275.97,490.97 L275.55,490.97 L275.12,490.97 L274.69,490.97 L274.27,490.97 L273.84,490.97 L273.41,490.97 L272.99,490.97 L272.56,490.97 L272.13,490.97 L271.70,490.97 L271.28,490.97 L270.85,490.97 L270.42,490.97 L270.00,490.97 L269.57,490.97 L269.14,490.97 L268.71,490.97 L268.29,490.97 L267.86,490.97 L267.43,490.97 L267.01,490.97 L266.58,490.97 L266.15,490.97 L265.73,490.97 L265.30,490.97 L264.87,490.97 L264.44,490.97 L264.02,490.97 L263.59,490.97 L263.16,490.97 L262.74,490.97 L262.31,490.97 L261.88,490.97 L261.46,490.97 L261.03,490.97 L260.60,490.97 L260.18,490.97 L259.75,490.97 L259.32,490.97 L258.89,490.97 L258.47,490.97 L258.04,490.97 L257.61,490.97 L257.19,490.97 L256.76,490.97 L256.33,490.97 L255.91,490.97 L255.48,490.97 L255.05,490.97 L254.62,490.97 L254.20,490.97 L253.77,490.97 L253.34,490.97 L252.92,490.98 L252.49,490.98 L252.06,490.98 L251.63,490.98 L251.21,490.98 L250.78,490.98 L250.35,490.98 L249.93,490.98 L249.50,490.98 L249.07,490.98 L248.65,490.98 L248.22,490.98 L247.79,490.98 L247.37,490.98 L246.94,490.98 L246.51,490.98 L246.08,490.98 L245.66,490.98 L245.23,490.99 L244.80,490.99 L244.38,490.99 L243.95,490.99 L243.52,490.99 L243.09,490.99 L242.67,490.99 L242.24,491.00 L241.81,491.00 L241.39,491.00 L240.96,491.00 L240.53,491.01 L240.11,491.01 L239.68,491.01 L239.25,491.02 L238.82,491.02 L238.40,491.03 L237.97,491.03 L237.54,491.04 L237.12,491.04 L236.69,491.05 L236.26,491.06 L235.84,491.06 L235.41,491.07 L234.98,491.08 L234.56,491.09 L234.13,491.10 L233.70,491.11 L233.27,491.12 L232.85,491.13 L232.42,491.14 L231.99,491.16 L231.57,491.17 L231.14,491.19 L230.71,491.21 L230.28,491.22 L229.86,491.24 L229.43,491.26 L229.00,491.29 L228.58,491.31 L228.15,491.33 L227.72,491.36 L227.30,491.39 L226.87,491.42 L226.44,491.45 L226.02,491.48 L225.59,491.52 L225.16,491.56 L224.73,491.60 L224.31,491.64 L223.88,491.69 L223.45,491.73 L223.03,491.78 L222.60,491.83 L222.17,491.89 L221.75,491.94 L221.32,492.00 L220.89,492.07 L220.46,492.13 L220.04,492.20 L219.61,492.27 L219.18,492.34 L218.76,492.42 L218.33,492.50 L217.90,492.58 L217.48,492.66 L217.05,492.75 L216.62,492.84 L216.19,492.93 L215.77,493.02 L215.34,493.12 L214.91,493.22 L214.49,493.32 L214.06,493.42 L213.63,493.52 L213.21,493.63 L212.78,493.73 L212.35,493.83 L211.92,493.94 L211.50,494.04 L211.07,494.15 L210.64,494.25 L210.22,494.34 L209.79,494.44 L209.36,494.53 L208.94,494.61 L208.51,494.69 L208.08,494.76 L207.65,494.83 L207.23,494.87 L206.80,494.90Z" fill="#d3e8f2"/>
<path d="M206.80,460.94 L207.23,460.94 L207.65,460.94 L208.08,460.94 L208.51,460.94 L208.94,460.94 L209.36,460.94 L209.79,460.94 L210.22,460.94 L210.64,460.94 L211.07,460.94 L211.50,460.94 L211.92,460.94 L212.35,460.94 L212.78,460.94 L213.21,460.94 L213.63,460.94 L214.06,460.94 L214.49,460.94 L214.91,460.94 L215.34,460.94 L215.77,460.94 L216.19,460.94 L216.62,460.94 L217.05,460.94 L217.48,460.94 L217.90,460.94 L218.33,460.94 L218.76,460.94 L219.18,460.94 L219.61,460.94 L220.04,460.94 L220.46,460.94 L220.89,460.94 L221.32,460.94 L221.75,460.94 L222.17,460.94 L222.60,460.94 L223.03,460.94 L223.45,460.94 L223.88,460.94 L224.31,460.94 L224.73,460.94 L225.16,460.94 L225.59,460.94 L226.02,460.94 L226.44,460.94 L226.87,460.94 L227.30,460.94 L227.72,460.94 L228.15,460.94 L228.58,460.94 L229.00,460.94 L229.43,460.94 L229.86,460.94 L230.28,460.94 L230.71,460.94 L231.14,460.94 L231.57,460.94 L231.99,460.94 L232.42,460.94 L232.85,460.94 L233.27,460.94 L233.70,460.94 L234.13,460.94 L234.56,460.94 L234.98,460.94 L235.41,460.94 L235.84,460.94 L236.26,460.94 L236.69,460.94 L237.12,460.94 L237.54,460.94 L237.97,460.94 L238.40,460.94 L238.82,460.94 L239.25,460.94 L239.68,460.94 L240.11,460.94 L240.53,460.94 L240.96,460.94 L241.39,460.94 L241.81,460.94 L242.24,460.94 L242.67,460.94 L243.09,460.94 L243.52,460.94 L243.95,460.94 L244.38,460.94 L244.80,460.94 L245.23,460.94 L245.66,460.94 L246.08,460.94 L246.51,460.94 L246.94,460.94 L247.37,460.94 L247.79,460.94 L248.22,460.94 L248.65,460.94 L249.07,460.94 L249.50,460.94 L249.93,460.94 L250.35,460.94 L250.78,460.94 L251.21,460.94 L251.63,460.94 L252.06,460.94 L252.49,460.94 L252.92,460.94 L253.34,460.94 L253.77,460.94 L254.20,460.94 L254.62,460.94 L255.05,460.94 L255.48,460.94 L255.91,460.94 L256.33,460.94 L256.76,460.94 L257.19,460.94 L257.61,460.94 L258.04,460.94 L258.47,460.94 L258.89,460.94 L259.32,460.94 L259.75,460.94 L260.18,460.94 L260.60,460.94 L261.03,460.94 L261.46,460.94 L261.88,460.94 L262.31,460.94 L262.74,460.94 L263.16,460.94 L263.59,460.94 L264.02,460.94 L264.44,460.94 L264.87,460.94 L265.30,460.94 L265.73,460.94 L266.15,460.94 L266.58,460.94 L267.01,460.94 L267.43,460.94 L267.86,460.94 L268.29,460.94 L268.71,460.94 L269.14,460.94 L269.57,460.94 L270.00,460.94 L270.42,460.94 L270.85,460.94 L271.28,460.94 L271.70,460.94 L272.13,460.94 L272.56,460.94 L272.99,460.94 L273.41,460.94 L273.84,460.94 L274.27,460.94 L274.69,460.94 L275.12,460.94 L275.55,460.94 L275.97,460.94 L276.40,460.94 L276.83,460.94 L277.25,460.94 L277.68,460.94 L278.11,460.94 L278.54,460.94 L278.96,460.94 L279.39,460.94 L279.82,460.94 L280.24,460.94 L280.67,460.94 L281.10,460.94 L281.52,460.94 L281.95,460.94 L282.38,460.94 L282.81,460.94 L283.23,460.94 L283.66,460.94 L284.09,460.94 L284.51,460.94 L284.94,460.94 L285.37,460.94 L285.79,460.94 L286.22,460.94 L286.65,460.94 L287.08,460.94 L287.50,460.94 L287.93,460.94 L288.36,460.94 L288.78,460.94 L289.21,460.94 L289.64,460.94 L290.06,460.94 L290.49,460.94 L290.92,460.94 L291.35,460.94 L291.77,460.94 L292.20,460.94" fill="none" stroke="#3b9dc7" stroke-width="1.6" stroke-dasharray="1.3,1.8"/>
<path d="M206.80,494.90 L207.23,494.44 L207.65,493.90 L208.08,493.34 L208.51,492.79 L208.94,492.24 L209.36,491.71 L209.79,491.19 L210.22,490.70 L210.64,490.22 L211.07,489.77 L211.50,489.33 L211.92,488.92 L212.35,488.53 L212.78,488.16 L213.21,487.81 L213.63,487.47 L214.06,487.16 L214.49,486.87 L214.91,486.59 L215.34,486.32 L215.77,486.08 L216.19,485.85 L216.62,485.63 L217.05,485.43 L217.48,485.23 L217.90,485.06 L218.33,484.89 L218.76,484.73 L219.18,484.59 L219.61,484.45 L220.04,484.32 L220.46,484.20 L220.89,484.09 L221.32,483.99 L221.75,483.89 L222.17,483.80 L222.60,483.72 L223.03,483.64 L223.45,483.57 L223.88,483.50 L224.31,483.44 L224.73,483.38 L225.16,483.33 L225.59,483.28 L226.02,483.23 L226.44,483.19 L226.87,483.15 L227.30,483.11 L227.72,483.07 L228.15,483.04 L228.58,483.01 L229.00,482.99 L229.43,482.96 L229.86,482.94 L230.28,482.92 L230.71,482.90 L231.14,482.88 L231.57,482.86 L231.99,482.84 L232.42,482.83 L232.85,482.82 L233.27,482.80 L233.70,482.79 L234.13,482.78 L234.56,482.77 L234.98,482.76 L235.41,482.75 L235.84,482.75 L236.26,482.74 L236.69,482.73 L237.12,482.73 L237.54,482.72 L237.97,482.72 L238.40,482.71 L238.82,482.71 L239.25,482.70 L239.68,482.70 L240.11,482.70 L240.53,482.69 L240.96,482.69 L241.39,482.69 L241.81,482.68 L242.24,482.68 L242.67,482.68 L243.09,482.68 L243.52,482.68 L243.95,482.67 L244.38,482.67 L244.80,482.67 L245.23,482.67 L245.66,482.67 L246.08,482.67 L246.51,482.67 L246.94,482.67 L247.37,482.67 L247.79,482.67 L248.22,482.66 L248.65,482.66 L249.07,482.66 L249.50,482.66 L249.93,482.66 L250.35,482.66 L250.78,482.66 L251.21,482.66 L251.63,482.66 L252.06,482.66 L252.49,482.66 L252.92,482.66 L253.34,482.66 L253.77,482.66 L254.20,482.66 L254.62,482.66 L255.05,482.66 L255.48,482.66 L255.91,482.66 L256.33,482.66 L256.76,482.66 L257.19,482.66 L257.61,482.66 L258.04,482.66 L258.47,482.66 L258.89,482.66 L259.32,482.66 L259.75,482.66 L260.18,482.66 L260.60,482.66 L261.03,482.66 L261.46,482.66 L261.88,482.66 L262.31,482.66 L262.74,482.66 L263.16,482.66 L263.59,482.66 L264.02,482.66 L264.44,482.66 L264.87,482.66 L265.30,482.66 L265.73,482.66 L266.15,482.66 L266.58,482.66 L267.01,482.66 L267.43,482.66 L267.86,482.66 L268.29,482.66 L268.71,482.66 L269.14,482.66 L269.57,482.66 L270.00,482.66 L270.42,482.66 L270.85,482.66 L271.28,482.66 L271.70,482.66 L272.13,482.66 L272.56,482.66 L272.99,482.66 L273.41,482.66 L273.84,482.66 L274.27,482.66 L274.69,482.66 L275.12,482.66 L275.55,482.66 L275.97,482.66 L276.40,482.66 L276.83,482.66 L277.25,482.66 L277.68,482.66 L278.11,482.66 L278.54,482.66 L278.96,482.66 L279.39,482.66 L279.82,482.66 L280.24,482.66 L280.67,482.66 L281.10,482.66 L281.52,482.66 L281.95,482.66 L282.38,482.66 L282.81,482.66 L283.23,482.66 L283.66,482.66 L284.09,482.66 L284.51,482.66 L284.94,482.66 L285.37,482.66 L285.79,482.66 L286.22,482.66 L286.65,482.66 L287.08,482.66 L287.50,482.66 L287.93,482.66 L288.36,482.66 L288.78,482.66 L289.21,482.66 L289.64,482.66 L290.06,482.66 L290.49,482.66 L290.92,482.66 L291.35,482.66 L291.77,482.66 L292.20,482.66" fill="none" stroke="#3b9dc7" stroke-width="1.65"/>
<path d="M338.60,322.93 L339.03,322.92 L339.46,322.89 L339.88,322.86 L340.31,322.84 L340.74,322.84 L341.17,322.85 L341.59,322.86 L342.02,322.87 L342.45,322.88 L342.88,322.88 L343.30,322.89 L343.73,322.90 L344.16,322.90 L344.59,322.90 L345.01,322.92 L345.44,322.95 L345.87,322.96 L346.30,322.96 L346.72,322.93 L347.15,322.87 L347.58,322.82 L348.00,322.80 L348.43,322.80 L348.86,322.78 L349.29,322.77 L349.72,322.76 L350.14,322.76 L350.57,322.80 L351.00,322.85 L351.43,322.90 L351.85,322.91 L352.28,322.89 L352.71,322.85 L353.14,322.81 L353.56,322.79 L353.99,322.79 L354.42,322.78 L354.85,322.77 L355.27,322.76 L355.70,322.76 L356.13,322.77 L356.56,322.78 L356.98,322.80 L357.41,322.80 L357.84,322.81 L358.27,322.83 L358.69,322.85 L359.12,322.86 L359.55,322.86 L359.98,322.89 L360.40,322.92 L360.83,322.95 L361.26,322.95 L361.69,322.92 L362.11,322.87 L362.54,322.81 L362.97,322.79 L363.40,322.79 L363.82,322.82 L364.25,322.86 L364.68,322.88 L365.11,322.89 L365.53,322.91 L365.96,322.94 L366.39,322.96 L366.81,322.98 L367.24,322.97 L367.67,322.96 L368.10,322.95 L368.53,322.94 L368.95,322.93 L369.38,322.91 L369.81,322.87 L370.24,322.85 L370.66,322.84 L371.09,322.85 L371.52,322.88 L371.95,322.91 L372.37,322.92 L372.80,322.92 L373.23,322.89 L373.66,322.86 L374.08,322.84 L374.51,322.84 L374.94,322.86 L375.37,322.89 L375.79,322.93 L376.22,322.94 L376.65,322.93 L377.08,322.91 L377.50,322.89 L377.93,322.87 L378.36,322.87 L378.79,322.88 L379.21,322.90 L379.64,322.91 L380.07,322.91 L380.50,322.90 L380.92,322.88 L381.35,322.86 L381.78,322.85 L382.21,322.86 L382.63,322.88 L383.06,322.90 L383.49,322.92 L383.92,322.92 L384.34,322.89 L384.77,322.85 L385.20,322.82 L385.62,322.80 L386.05,322.80 L386.48,322.78 L386.91,322.77 L387.34,322.76 L387.76,322.76 L388.19,322.76 L388.62,322.76 L389.05,322.76 L389.47,322.76 L389.90,322.79 L390.33,322.86 L390.75,322.93 L391.18,322.96 L391.61,322.95 L392.04,322.89 L392.47,322.81 L392.89,322.76 L393.32,322.75 L393.75,322.79 L394.18,322.84 L394.60,322.89 L395.03,322.91 L395.46,322.90 L395.89,322.85 L396.31,322.80 L396.74,322.77 L397.17,322.77 L397.60,322.78 L398.02,322.80 L398.45,322.82 L398.88,322.82 L399.31,322.84 L399.73,322.88 L400.16,322.92 L400.59,322.94 L401.02,322.93 L401.44,322.88 L401.87,322.83 L402.30,322.80 L402.73,322.79 L403.15,322.79 L403.58,322.80 L404.01,322.81 L404.44,322.81 L404.86,322.81 L405.29,322.82 L405.72,322.83 L406.15,322.83 L406.57,322.83 L407.00,322.81 L407.43,322.78 L407.86,322.75 L408.28,322.74 L408.71,322.75 L409.14,322.76 L409.57,322.77 L409.99,322.78 L410.42,322.79 L410.85,322.84 L411.28,322.90 L411.70,322.94 L412.13,322.95 L412.56,322.93 L412.99,322.90 L413.41,322.87 L413.84,322.86 L414.27,322.87 L414.70,322.89 L415.12,322.91 L415.55,322.92 L415.98,322.92 L416.41,322.90 L416.83,322.87 L417.26,322.85 L417.69,322.84 L418.12,322.87 L418.54,322.91 L418.97,322.95 L419.40,322.97 L419.83,322.96 L420.25,322.90 L420.68,322.83 L421.11,322.78 L421.54,322.77 L421.96,322.80 L422.39,322.84 L422.82,322.89 L423.25,322.90 L423.67,322.88 L424.10,322.84 L424.10,333.17 L423.67,333.16 L423.25,333.16 L422.82,333.17 L422.39,333.17 L421.96,333.18 L421.54,333.19 L421.11,333.19 L420.68,333.17 L420.25,333.15 L419.83,333.13 L419.40,333.12 L418.97,333.12 L418.54,333.13 L418.12,333.13 L417.69,333.13 L417.26,333.14 L416.83,333.16 L416.41,333.19 L415.98,333.21 L415.55,333.21 L415.12,333.21 L414.70,333.21 L414.27,333.21 L413.84,333.21 L413.41,333.21 L412.99,333.22 L412.56,333.24 L412.13,333.24 L411.70,333.25 L411.28,333.25 L410.85,333.26 L410.42,333.27 L409.99,333.27 L409.57,333.27 L409.14,333.26 L408.71,333.26 L408.28,333.26 L407.86,333.25 L407.43,333.23 L407.00,333.20 L406.57,333.19 L406.15,333.19 L405.72,333.21 L405.29,333.24 L404.86,333.27 L404.44,333.28 L404.01,333.28 L403.58,333.27 L403.15,333.26 L402.73,333.26 L402.30,333.25 L401.87,333.23 L401.44,333.18 L401.02,333.15 L400.59,333.14 L400.16,333.14 L399.73,333.15 L399.31,333.15 L398.88,333.15 L398.45,333.16 L398.02,333.17 L397.60,333.18 L397.17,333.18 L396.74,333.18 L396.31,333.17 L395.89,333.15 L395.46,333.13 L395.03,333.12 L394.60,333.12 L394.18,333.14 L393.75,333.15 L393.32,333.16 L392.89,333.16 L392.47,333.19 L392.04,333.24 L391.61,333.27 L391.18,333.28 L390.75,333.26 L390.33,333.21 L389.90,333.16 L389.47,333.14 L389.05,333.15 L388.62,333.17 L388.19,333.20 L387.76,333.22 L387.34,333.22 L386.91,333.21 L386.48,333.18 L386.05,333.16 L385.62,333.16 L385.20,333.17 L384.77,333.22 L384.34,333.27 L383.92,333.30 L383.49,333.29 L383.06,333.27 L382.63,333.23 L382.21,333.20 L381.78,333.19 L381.35,333.19 L380.92,333.17 L380.50,333.16 L380.07,333.15 L379.64,333.16 L379.21,333.20 L378.79,333.25 L378.36,333.28 L377.93,333.29 L377.50,333.29 L377.08,333.29 L376.65,333.29 L376.22,333.29 L375.79,333.27 L375.37,333.24 L374.94,333.20 L374.51,333.18 L374.08,333.18 L373.66,333.19 L373.23,333.21 L372.80,333.23 L372.37,333.23 L371.95,333.23 L371.52,333.22 L371.09,333.21 L370.66,333.21 L370.24,333.21 L369.81,333.21 L369.38,333.21 L368.95,333.22 L368.53,333.22 L368.10,333.22 L367.67,333.22 L367.24,333.23 L366.81,333.23 L366.39,333.23 L365.96,333.23 L365.53,333.23 L365.11,333.23 L364.68,333.23 L364.25,333.22 L363.82,333.22 L363.40,333.21 L362.97,333.21 L362.54,333.22 L362.11,333.26 L361.69,333.29 L361.26,333.30 L360.83,333.30 L360.40,333.26 L359.98,333.22 L359.55,333.19 L359.12,333.19 L358.69,333.18 L358.27,333.17 L357.84,333.16 L357.41,333.16 L356.98,333.15 L356.56,333.15 L356.13,333.15 L355.70,333.15 L355.27,333.14 L354.85,333.14 L354.42,333.13 L353.99,333.12 L353.56,333.12 L353.14,333.12 L352.71,333.12 L352.28,333.13 L351.85,333.13 L351.43,333.13 L351.00,333.17 L350.57,333.21 L350.14,333.23 L349.72,333.24 L349.29,333.23 L348.86,333.22 L348.43,333.21 L348.00,333.21 L347.58,333.22 L347.15,333.25 L346.72,333.29 L346.30,333.31 L345.87,333.32 L345.44,333.31 L345.01,333.31 L344.59,333.30 L344.16,333.30 L343.73,333.31 L343.30,333.32 L342.88,333.33 L342.45,333.34 L342.02,333.34 L341.59,333.33 L341.17,333.32 L340.74,333.31 L340.31,333.31 L339.88,333.29 L339.46,333.26 L339.03,333.23 L338.60,333.22Z" fill="#e6f2df"/>
<path d="M338.60,364.12 L339.03,363.90 L339.46,363.47 L339.88,362.89 L340.31,362.20 L340.74,361.43 L341.17,360.59 L341.59,359.70 L342.02,358.76 L342.45,357.77 L342.88,356.75 L343.30,355.73 L343.73,354.74 L344.16,353.77 L344.59,352.82 L345.01,351.89 L345.44,351.00 L345.87,350.15 L346.30,349.37 L346.72,348.63 L347.15,347.93 L347.58,347.24 L348.00,346.57 L348.43,345.92 L348.86,345.32 L349.29,344.77 L349.72,344.27 L350.14,343.80 L350.57,343.37 L351.00,342.98 L351.43,342.62 L351.85,342.30 L352.28,342.02 L352.71,341.76 L353.14,341.53 L353.56,341.31 L353.99,341.13 L354.42,340.96 L354.85,340.81 L355.27,340.68 L355.70,340.57 L356.13,340.48 L356.56,340.40 L356.98,340.32 L357.41,340.22 L357.84,340.10 L358.27,340.00 L358.69,339.92 L359.12,339.88 L359.55,339.86 L359.98,339.85 L360.40,339.84 L360.83,339.82 L361.26,339.81 L361.69,339.82 L362.11,339.82 L362.54,339.82 L362.97,339.80 L363.40,339.78 L363.82,339.76 L364.25,339.74 L364.68,339.73 L365.11,339.71 L365.53,339.67 L365.96,339.65 L366.39,339.64 L366.81,339.65 L367.24,339.67 L367.67,339.69 L368.10,339.70 L368.53,339.69 L368.95,339.67 L369.38,339.64 L369.81,339.62 L370.24,339.62 L370.66,339.64 L371.09,339.67 L371.52,339.69 L371.95,339.70 L372.37,339.69 L372.80,339.68 L373.23,339.66 L373.66,339.65 L374.08,339.65 L374.51,339.65 L374.94,339.67 L375.37,339.67 L375.79,339.68 L376.22,339.67 L376.65,339.65 L377.08,339.64 L377.50,339.63 L377.93,339.64 L378.36,339.65 L378.79,339.67 L379.21,339.68 L379.64,339.68 L380.07,339.66 L380.50,339.63 L380.92,339.60 L381.35,339.59 L381.78,339.59 L382.21,339.57 L382.63,339.56 L383.06,339.55 L383.49,339.55 L383.92,339.55 L384.34,339.55 L384.77,339.55 L385.20,339.55 L385.62,339.58 L386.05,339.64 L386.48,339.69 L386.91,339.72 L387.34,339.71 L387.76,339.66 L388.19,339.60 L388.62,339.56 L389.05,339.55 L389.47,339.58 L389.90,339.62 L390.33,339.66 L390.75,339.68 L391.18,339.66 L391.61,339.63 L392.04,339.59 L392.47,339.57 L392.89,339.56 L393.32,339.58 L393.75,339.59 L394.18,339.60 L394.60,339.61 L395.03,339.62 L395.46,339.65 L395.89,339.68 L396.31,339.70 L396.74,339.69 L397.17,339.66 L397.60,339.61 L398.02,339.58 L398.45,339.58 L398.88,339.58 L399.31,339.59 L399.73,339.59 L400.16,339.60 L400.59,339.60 L401.02,339.60 L401.44,339.61 L401.87,339.61 L402.30,339.61 L402.73,339.59 L403.15,339.57 L403.58,339.55 L404.01,339.54 L404.44,339.55 L404.86,339.56 L405.29,339.56 L405.72,339.57 L406.15,339.58 L406.57,339.62 L407.00,339.67 L407.43,339.70 L407.86,339.71 L408.28,339.69 L408.71,339.67 L409.14,339.64 L409.57,339.64 L409.99,339.64 L410.42,339.66 L410.85,339.67 L411.28,339.68 L411.70,339.68 L412.13,339.67 L412.56,339.64 L412.99,339.63 L413.41,339.62 L413.84,339.64 L414.27,339.67 L414.70,339.71 L415.12,339.73 L415.55,339.71 L415.98,339.67 L416.41,339.61 L416.83,339.57 L417.26,339.56 L417.69,339.59 L418.12,339.62 L418.54,339.66 L418.97,339.67 L419.40,339.66 L419.83,339.62 L420.25,339.58 L420.68,339.56 L421.11,339.56 L421.54,339.57 L421.96,339.59 L422.39,339.60 L422.82,339.60 L423.25,339.61 L423.67,339.62 L424.10,339.63 L424.10,358.23 L423.67,358.27 L423.25,358.31 L422.82,358.33 L422.39,358.33 L421.96,358.30 L421.54,358.26 L421.11,358.23 L420.68,358.23 L420.25,358.23 L419.83,358.23 L419.40,358.22 L418.97,358.22 L418.54,358.23 L418.12,358.23 L417.69,358.24 L417.26,358.25 L416.83,358.24 L416.41,358.23 L415.98,358.21 L415.55,358.19 L415.12,358.19 L414.70,358.19 L414.27,358.19 L413.84,358.20 L413.41,358.20 L412.99,358.20 L412.56,358.22 L412.13,358.24 L411.70,358.26 L411.28,358.26 L410.85,358.26 L410.42,358.26 L409.99,358.26 L409.57,358.26 L409.14,358.26 L408.71,358.27 L408.28,358.28 L407.86,358.29 L407.43,358.29 L407.00,358.30 L406.57,358.30 L406.15,358.31 L405.72,358.31 L405.29,358.31 L404.86,358.30 L404.44,358.30 L404.01,358.30 L403.58,358.29 L403.15,358.28 L402.73,358.26 L402.30,358.24 L401.87,358.24 L401.44,358.26 L401.02,358.28 L400.59,358.31 L400.16,358.32 L399.73,358.31 L399.31,358.31 L398.88,358.30 L398.45,358.30 L398.02,358.30 L397.60,358.27 L397.17,358.24 L396.74,358.21 L396.31,358.21 L395.89,358.21 L395.46,358.21 L395.03,358.22 L394.60,358.22 L394.18,358.22 L393.75,358.23 L393.32,358.23 L392.89,358.24 L392.47,358.24 L392.04,358.23 L391.61,358.21 L391.18,358.19 L390.75,358.19 L390.33,358.19 L389.90,358.20 L389.47,358.21 L389.05,358.22 L388.62,358.22 L388.19,358.25 L387.76,358.28 L387.34,358.31 L386.91,358.32 L386.48,358.30 L386.05,358.26 L385.62,358.22 L385.20,358.21 L384.77,358.21 L384.34,358.23 L383.92,358.25 L383.49,358.27 L383.06,358.27 L382.63,358.26 L382.21,358.24 L381.78,358.22 L381.35,358.22 L380.92,358.23 L380.50,358.27 L380.07,358.31 L379.64,358.33 L379.21,358.33 L378.79,358.31 L378.36,358.28 L377.93,358.26 L377.50,358.25 L377.08,358.24 L376.65,358.23 L376.22,358.22 L375.79,358.21 L375.37,358.22 L374.94,358.25 L374.51,358.29 L374.08,358.32 L373.66,358.32 L373.23,358.32 L372.80,358.32 L372.37,358.32 L371.95,358.32 L371.52,358.31 L371.09,358.29 L370.66,358.26 L370.24,358.24 L369.81,358.24 L369.38,358.25 L368.95,358.26 L368.53,358.28 L368.10,358.28 L367.67,358.28 L367.24,358.27 L366.81,358.27 L366.39,358.26 L365.96,358.27 L365.53,358.27 L365.11,358.28 L364.68,358.28 L364.25,358.29 L363.82,358.29 L363.40,358.30 L362.97,358.32 L362.54,358.33 L362.11,358.34 L361.69,358.35 L361.26,358.37 L360.83,358.39 L360.40,358.41 L359.98,358.43 L359.55,358.46 L359.12,358.49 L358.69,358.53 L358.27,358.59 L357.84,358.67 L357.41,358.75 L356.98,358.83 L356.56,358.90 L356.13,358.96 L355.70,359.02 L355.27,359.09 L354.85,359.20 L354.42,359.31 L353.99,359.43 L353.56,359.56 L353.14,359.70 L352.71,359.85 L352.28,360.01 L351.85,360.18 L351.43,360.35 L351.00,360.53 L350.57,360.71 L350.14,360.90 L349.72,361.09 L349.29,361.28 L348.86,361.48 L348.43,361.67 L348.00,361.87 L347.58,362.06 L347.15,362.25 L346.72,362.46 L346.30,362.66 L345.87,362.85 L345.44,363.02 L345.01,363.16 L344.59,363.29 L344.16,363.41 L343.73,363.52 L343.30,363.64 L342.88,363.76 L342.45,363.87 L342.02,363.96 L341.59,364.02 L341.17,364.06 L340.74,364.10 L340.31,364.12 L339.88,364.14 L339.46,364.16 L339.03,364.17 L338.60,364.18Z" fill="#e6f2df"/>
<path d="M338.60,327.95 L339.03,327.96 L339.46,327.97 L339.88,328.00 L340.31,328.03 L340.74,328.06 L341.17,328.08 L341.59,328.08 L342.02,328.07 L342.45,328.05 L342.88,328.01 L343.30,327.96 L343.73,327.92 L344.16,327.89 L344.59,327.88 L345.01,327.89 L345.44,327.91 L345.87,327.93 L346.30,327.96 L346.72,327.98 L347.15,328.00 L347.58,328.00 L348.00,328.00 L348.43,328.01 L348.86,328.03 L349.29,328.04 L349.72,328.06 L350.14,328.07 L350.57,328.07 L351.00,328.07 L351.43,328.06 L351.85,328.06 L352.28,328.06 L352.71,328.05 L353.14,328.05 L353.56,328.05 L353.99,328.04 L354.42,328.03 L354.85,328.02 L355.27,328.00 L355.70,327.98 L356.13,327.97 L356.56,327.96 L356.98,327.97 L357.41,327.97 L357.84,327.98 L358.27,327.99 L358.69,328.00 L359.12,328.01 L359.55,328.01 L359.98,328.01 L360.40,328.02 L360.83,328.03 L361.26,328.04 L361.69,328.04 L362.11,328.05 L362.54,328.05 L362.97,328.05 L363.40,328.05 L363.82,328.04 L364.25,328.04 L364.68,328.04 L365.11,328.04 L365.53,328.03 L365.96,328.04 L366.39,328.04 L366.81,328.04 L367.24,328.05 L367.67,328.05 L368.10,328.06 L368.53,328.06 L368.95,328.05 L369.38,328.02 L369.81,327.98 L370.24,327.94 L370.66,327.91 L371.09,327.88 L371.52,327.87 L371.95,327.87 L372.37,327.87 L372.80,327.87 L373.23,327.87 L373.66,327.87 L374.08,327.88 L374.51,327.88 L374.94,327.87 L375.37,327.87 L375.79,327.87 L376.22,327.87 L376.65,327.87 L377.08,327.87 L377.50,327.87 L377.93,327.87 L378.36,327.88 L378.79,327.89 L379.21,327.91 L379.64,327.92 L380.07,327.93 L380.50,327.93 L380.92,327.94 L381.35,327.96 L381.78,327.99 L382.21,328.02 L382.63,328.05 L383.06,328.07 L383.49,328.07 L383.92,328.07 L384.34,328.05 L384.77,328.02 L385.20,327.98 L385.62,327.95 L386.05,327.93 L386.48,327.92 L386.91,327.93 L387.34,327.95 L387.76,327.97 L388.19,328.00 L388.62,328.03 L389.05,328.05 L389.47,328.05 L389.90,328.05 L390.33,328.03 L390.75,328.00 L391.18,327.96 L391.61,327.94 L392.04,327.92 L392.47,327.91 L392.89,327.91 L393.32,327.90 L393.75,327.90 L394.18,327.89 L394.60,327.88 L395.03,327.88 L395.46,327.87 L395.89,327.88 L396.31,327.89 L396.74,327.91 L397.17,327.93 L397.60,327.95 L398.02,327.97 L398.45,327.97 L398.88,327.97 L399.31,327.96 L399.73,327.94 L400.16,327.93 L400.59,327.91 L401.02,327.90 L401.44,327.90 L401.87,327.90 L402.30,327.91 L402.73,327.92 L403.15,327.93 L403.58,327.95 L404.01,327.96 L404.44,327.96 L404.86,327.96 L405.29,327.95 L405.72,327.94 L406.15,327.93 L406.57,327.91 L407.00,327.91 L407.43,327.90 L407.86,327.90 L408.28,327.90 L408.71,327.90 L409.14,327.90 L409.57,327.90 L409.99,327.89 L410.42,327.89 L410.85,327.89 L411.28,327.90 L411.70,327.90 L412.13,327.90 L412.56,327.91 L412.99,327.91 L413.41,327.91 L413.84,327.92 L414.27,327.93 L414.70,327.96 L415.12,327.99 L415.55,328.01 L415.98,328.03 L416.41,328.04 L416.83,328.03 L417.26,328.02 L417.69,328.01 L418.12,328.00 L418.54,327.99 L418.97,327.98 L419.40,327.98 L419.83,327.97 L420.25,327.96 L420.68,327.93 L421.11,327.91 L421.54,327.89 L421.96,327.88 L422.39,327.87 L422.82,327.88 L423.25,327.90 L423.67,327.94 L424.10,327.98" fill="none" stroke="#92c87b" stroke-width="1.6" stroke-dasharray="1.3,1.8"/>
<path d="M338.60,364.10 L339.03,364.07 L339.46,363.99 L339.88,363.85 L340.31,363.65 L340.74,363.41 L341.17,363.11 L341.59,362.77 L342.02,362.39 L342.45,361.97 L342.88,361.51 L343.30,361.03 L343.73,360.52 L344.16,359.99 L344.59,359.45 L345.01,358.89 L345.44,358.33 L345.87,357.77 L346.30,357.22 L346.72,356.67 L347.15,356.13 L347.58,355.60 L348.00,355.09 L348.43,354.60 L348.86,354.13 L349.29,353.68 L349.72,353.26 L350.14,352.86 L350.57,352.49 L351.00,352.14 L351.43,351.81 L351.85,351.51 L352.28,351.24 L352.71,350.99 L353.14,350.76 L353.56,350.55 L353.99,350.37 L354.42,350.20 L354.85,350.05 L355.27,349.92 L355.70,349.80 L356.13,349.70 L356.56,349.61 L356.98,349.53 L357.41,349.46 L357.84,349.40 L358.27,349.35 L358.69,349.30 L359.12,349.26 L359.55,349.23 L359.98,349.20 L360.40,349.18 L360.83,349.16 L361.26,349.15 L361.69,349.13 L362.11,349.12 L362.54,349.11 L362.97,349.10 L363.40,349.10 L363.82,349.09 L364.25,349.09 L364.68,349.08 L365.11,349.08 L365.53,349.08 L365.96,349.08 L366.39,349.08 L366.81,349.08 L367.24,349.07 L367.67,349.07 L368.10,349.07 L368.53,349.07 L368.95,349.07 L369.38,349.07 L369.81,349.07 L370.24,349.07 L370.66,349.07 L371.09,349.07 L371.52,349.07 L371.95,349.07 L372.37,349.07 L372.80,349.07 L373.23,349.07 L373.66,349.07 L374.08,349.07 L374.51,349.07 L374.94,349.07 L375.37,349.07 L375.79,349.07 L376.22,349.07 L376.65,349.07 L377.08,349.07 L377.50,349.07 L377.93,349.07 L378.36,349.07 L378.79,349.07 L379.21,349.07 L379.64,349.07 L380.07,349.07 L380.50,349.07 L380.92,349.07 L381.35,349.07 L381.78,349.07 L382.21,349.07 L382.63,349.07 L383.06,349.07 L383.49,349.07 L383.92,349.07 L384.34,349.07 L384.77,349.07 L385.20,349.07 L385.62,349.07 L386.05,349.07 L386.48,349.07 L386.91,349.07 L387.34,349.07 L387.76,349.07 L388.19,349.07 L388.62,349.07 L389.05,349.07 L389.47,349.07 L389.90,349.07 L390.33,349.07 L390.75,349.07 L391.18,349.07 L391.61,349.07 L392.04,349.07 L392.47,349.07 L392.89,349.07 L393.32,349.07 L393.75,349.07 L394.18,349.07 L394.60,349.07 L395.03,349.07 L395.46,349.07 L395.89,349.07 L396.31,349.07 L396.74,349.07 L397.17,349.07 L397.60,349.07 L398.02,349.07 L398.45,349.07 L398.88,349.07 L399.31,349.07 L399.73,349.07 L400.16,349.07 L400.59,349.07 L401.02,349.07 L401.44,349.07 L401.87,349.07 L402.30,349.07 L402.73,349.07 L403.15,349.07 L403.58,349.07 L404.01,349.07 L404.44,349.07 L404.86,349.07 L405.29,349.07 L405.72,349.07 L406.15,349.07 L406.57,349.07 L407.00,349.07 L407.43,349.07 L407.86,349.07 L408.28,349.07 L408.71,349.07 L409.14,349.07 L409.57,349.07 L409.99,349.07 L410.42,349.07 L410.85,349.07 L411.28,349.07 L411.70,349.07 L412.13,349.07 L412.56,349.07 L412.99,349.07 L413.41,349.07 L413.84,349.07 L414.27,349.07 L414.70,349.07 L415.12,349.07 L415.55,349.07 L415.98,349.07 L416.41,349.07 L416.83,349.07 L417.26,349.07 L417.69,349.07 L418.12,349.07 L418.54,349.07 L418.97,349.07 L419.40,349.07 L419.83,349.07 L420.25,349.07 L420.68,349.07 L421.11,349.07 L421.54,349.07 L421.96,349.07 L422.39,349.07 L422.82,349.07 L423.25,349.07 L423.67,349.07 L424.10,349.07" fill="none" stroke="#92c87b" stroke-width="1.65"/>
<path d="M338.60,387.89 L339.03,387.88 L339.46,387.87 L339.88,387.91 L340.31,388.08 L340.74,388.15 L341.17,387.99 L341.59,387.84 L342.02,387.91 L342.45,388.10 L342.88,388.13 L343.30,388.01 L343.73,387.94 L344.16,387.99 L344.59,388.07 L345.01,388.04 L345.44,387.90 L345.87,387.84 L346.30,387.98 L346.72,388.11 L347.15,388.04 L347.58,387.85 L348.00,387.83 L348.43,388.06 L348.86,388.21 L349.29,388.11 L349.72,387.95 L350.14,387.93 L350.57,387.93 L351.00,387.93 L351.43,387.98 L351.85,388.04 L352.28,388.08 L352.71,388.18 L353.14,388.20 L353.56,388.16 L353.99,388.14 L354.42,388.04 L354.85,387.89 L355.27,387.91 L355.70,388.05 L356.13,388.11 L356.56,388.14 L356.98,388.16 L357.41,388.13 L357.84,388.06 L358.27,388.02 L358.69,387.92 L359.12,387.85 L359.55,387.90 L359.98,387.97 L360.40,388.01 L360.83,388.12 L361.26,388.16 L361.69,388.00 L362.11,387.83 L362.54,387.84 L362.97,387.86 L363.40,387.89 L363.82,388.06 L364.25,388.17 L364.68,388.14 L365.11,388.11 L365.53,388.08 L365.96,388.02 L366.39,388.00 L366.81,388.05 L367.24,388.11 L367.67,388.07 L368.10,387.95 L368.53,387.94 L368.95,388.10 L369.38,388.21 L369.81,388.19 L370.24,388.16 L370.66,388.12 L371.09,387.97 L371.52,387.90 L371.95,387.89 L372.37,387.88 L372.80,387.89 L373.23,387.89 L373.66,387.91 L374.08,388.04 L374.51,388.14 L374.94,388.04 L375.37,387.89 L375.79,387.87 L376.22,387.84 L376.65,387.83 L377.08,387.87 L377.50,387.91 L377.93,387.92 L378.36,387.96 L378.79,387.98 L379.21,388.10 L379.64,388.18 L380.07,388.16 L380.50,388.13 L380.92,388.11 L381.35,388.01 L381.78,387.97 L382.21,387.95 L382.63,387.92 L383.06,387.95 L383.49,388.02 L383.92,388.04 L384.34,387.98 L384.77,387.95 L385.20,387.99 L385.62,388.05 L386.05,388.08 L386.48,388.20 L386.91,388.24 L387.34,388.04 L387.76,387.85 L388.19,387.84 L388.62,387.82 L389.05,387.83 L389.47,387.91 L389.90,387.96 L390.33,388.06 L390.75,388.22 L391.18,388.20 L391.61,388.04 L392.04,387.97 L392.47,387.94 L392.89,387.90 L393.32,387.96 L393.75,388.11 L394.18,388.12 L394.60,387.98 L395.03,387.89 L395.46,387.86 L395.89,387.81 L396.31,387.84 L396.74,387.95 L397.17,388.01 L397.60,388.11 L398.02,388.21 L398.45,388.14 L398.88,387.93 L399.31,387.85 L399.73,387.83 L400.16,387.81 L400.59,387.79 L401.02,387.77 L401.44,387.81 L401.87,388.02 L402.30,388.12 L402.73,387.80 L403.15,387.43 L403.58,387.50 L404.01,387.78 L404.44,387.82 L404.86,387.59 L405.29,387.42 L405.72,387.34 L406.15,387.23 L406.57,387.22 L407.00,387.35 L407.43,387.39 L407.86,387.33 L408.28,387.26 L408.71,387.61 L409.14,388.52 L409.57,388.71 L409.99,388.23 L410.42,387.89 L410.85,387.63 L411.28,387.21 L411.70,387.11 L412.13,386.96 L412.56,386.87 L412.99,386.65 L413.41,386.42 L413.84,387.09 L414.27,388.87 L414.70,389.23 L415.12,388.43 L415.55,387.88 L415.98,387.56 L416.41,387.08 L416.83,387.09 L417.26,387.44 L417.69,387.60 L418.12,387.74 L418.54,387.89 L418.97,388.05 L419.40,388.42 L419.83,388.50 L420.25,388.40 L420.68,388.34 L421.11,387.34 L421.54,385.79 L421.96,385.91 L422.39,387.34 L422.82,387.97 L423.25,388.78 L423.67,389.62 L424.10,388.93 L424.10,396.93 L423.67,396.51 L423.25,397.23 L422.82,397.92 L422.39,398.70 L421.96,400.47 L421.54,400.83 L421.11,400.55 L420.68,400.36 L420.25,399.53 L419.83,398.32 L419.40,398.06 L418.97,397.56 L418.54,397.39 L418.12,397.90 L417.69,398.40 L417.26,398.03 L416.83,397.12 L416.41,397.01 L415.98,397.69 L415.55,398.13 L415.12,398.76 L414.70,399.67 L414.27,399.71 L413.84,399.54 L413.41,399.47 L412.99,399.80 L412.56,400.11 L412.13,399.78 L411.70,399.03 L411.28,398.80 L410.85,398.46 L410.42,398.24 L409.99,398.05 L409.57,397.78 L409.14,398.03 L408.71,399.08 L408.28,399.48 L407.86,399.39 L407.43,399.31 L407.00,399.06 L406.57,398.55 L406.15,398.50 L405.72,399.08 L405.29,399.41 L404.86,399.21 L404.44,398.95 L404.01,398.78 L403.58,398.31 L403.15,398.16 L402.73,398.55 L402.30,398.89 L401.87,398.81 L401.44,398.64 L401.02,398.61 L400.59,398.67 L400.16,398.69 L399.73,398.66 L399.31,398.63 L398.88,398.62 L398.45,398.66 L398.02,398.68 L397.60,398.71 L397.17,398.74 L396.74,398.63 L396.31,398.35 L395.89,398.30 L395.46,398.45 L395.03,398.54 L394.60,398.46 L394.18,398.33 L393.75,398.34 L393.32,398.42 L392.89,398.46 L392.47,398.57 L392.04,398.68 L391.61,398.69 L391.18,398.70 L390.75,398.70 L390.33,398.67 L389.90,398.65 L389.47,398.58 L389.05,398.48 L388.62,398.51 L388.19,398.67 L387.76,398.73 L387.34,398.53 L386.91,398.32 L386.48,398.37 L386.05,398.50 L385.62,398.52 L385.20,398.41 L384.77,398.34 L384.34,398.39 L383.92,398.47 L383.49,398.48 L383.06,398.50 L382.63,398.51 L382.21,398.45 L381.78,398.40 L381.35,398.45 L380.92,398.57 L380.50,398.61 L380.07,398.65 L379.64,398.67 L379.21,398.60 L378.79,398.50 L378.36,398.47 L377.93,398.38 L377.50,398.35 L377.08,398.38 L376.65,398.41 L376.22,398.45 L375.79,398.55 L375.37,398.56 L374.94,398.45 L374.51,398.38 L374.08,398.42 L373.66,398.48 L373.23,398.50 L372.80,398.56 L372.37,398.58 L371.95,398.65 L371.52,398.72 L371.09,398.67 L370.66,398.55 L370.24,398.51 L369.81,398.42 L369.38,398.37 L368.95,398.48 L368.53,398.67 L368.10,398.64 L367.67,398.45 L367.24,398.37 L366.81,398.51 L366.39,398.65 L365.96,398.65 L365.53,398.62 L365.11,398.61 L364.68,398.53 L364.25,398.48 L363.82,398.44 L363.40,398.37 L362.97,398.36 L362.54,398.36 L362.11,398.36 L361.69,398.46 L361.26,398.56 L360.83,398.49 L360.40,398.33 L359.98,398.30 L359.55,398.36 L359.12,398.40 L358.69,398.41 L358.27,398.43 L357.84,398.47 L357.41,398.64 L356.98,398.71 L356.56,398.64 L356.13,398.56 L355.70,398.56 L355.27,398.57 L354.85,398.58 L354.42,398.58 L353.99,398.58 L353.56,398.62 L353.14,398.68 L352.71,398.64 L352.28,398.41 L351.85,398.32 L351.43,398.38 L351.00,398.43 L350.57,398.40 L350.14,398.31 L349.72,398.30 L349.29,398.39 L348.86,398.45 L348.43,398.43 L348.00,398.39 L347.58,398.39 L347.15,398.42 L346.72,398.44 L346.30,398.46 L345.87,398.49 L345.44,398.47 L345.01,398.40 L344.59,398.39 L344.16,398.41 L343.73,398.43 L343.30,398.46 L342.88,398.50 L342.45,398.51 L342.02,398.50 L341.59,398.50 L341.17,398.53 L340.74,398.56 L340.31,398.56 L339.88,398.54 L339.46,398.54 L339.03,398.57 L338.60,398.59Z" fill="#fde3bb"/>
<path d="M338.60,429.59 L339.03,428.97 L339.46,428.07 L339.88,427.11 L340.31,426.08 L340.74,424.90 L341.17,423.59 L341.59,422.34 L342.02,421.24 L342.45,420.16 L342.88,418.93 L343.30,417.63 L343.73,416.51 L344.16,415.63 L344.59,414.74 L345.01,413.68 L345.44,412.64 L345.87,411.75 L346.30,410.92 L346.72,410.15 L347.15,409.47 L347.58,408.84 L348.00,408.24 L348.43,407.74 L348.86,407.21 L349.29,406.68 L349.72,406.19 L350.14,405.69 L350.57,405.18 L351.00,404.83 L351.43,404.62 L351.85,404.36 L352.28,404.11 L352.71,403.87 L353.14,403.62 L353.56,403.35 L353.99,403.14 L354.42,402.89 L354.85,402.68 L355.27,402.58 L355.70,402.52 L356.13,402.43 L356.56,402.42 L356.98,402.36 L357.41,402.15 L357.84,401.95 L358.27,401.89 L358.69,401.85 L359.12,401.82 L359.55,401.91 L359.98,401.96 L360.40,401.90 L360.83,401.84 L361.26,401.79 L361.69,401.72 L362.11,401.67 L362.54,401.70 L362.97,401.73 L363.40,401.68 L363.82,401.57 L364.25,401.55 L364.68,401.67 L365.11,401.75 L365.53,401.72 L365.96,401.69 L366.39,401.65 L366.81,401.53 L367.24,401.47 L367.67,401.46 L368.10,401.45 L368.53,401.45 L368.95,401.45 L369.38,401.46 L369.81,401.57 L370.24,401.64 L370.66,401.56 L371.09,401.44 L371.52,401.42 L371.95,401.40 L372.37,401.39 L372.80,401.42 L373.23,401.45 L373.66,401.46 L374.08,401.49 L374.51,401.50 L374.94,401.60 L375.37,401.67 L375.79,401.65 L376.22,401.63 L376.65,401.61 L377.08,401.53 L377.50,401.50 L377.93,401.48 L378.36,401.46 L378.79,401.48 L379.21,401.54 L379.64,401.55 L380.07,401.51 L380.50,401.48 L380.92,401.51 L381.35,401.56 L381.78,401.59 L382.21,401.68 L382.63,401.71 L383.06,401.55 L383.49,401.40 L383.92,401.39 L384.34,401.38 L384.77,401.38 L385.20,401.45 L385.62,401.49 L386.05,401.57 L386.48,401.69 L386.91,401.68 L387.34,401.55 L387.76,401.49 L388.19,401.47 L388.62,401.44 L389.05,401.49 L389.47,401.60 L389.90,401.62 L390.33,401.50 L390.75,401.43 L391.18,401.41 L391.61,401.37 L392.04,401.39 L392.47,401.48 L392.89,401.52 L393.32,401.61 L393.75,401.69 L394.18,401.63 L394.60,401.47 L395.03,401.44 L395.46,401.44 L395.89,401.44 L396.31,401.44 L396.74,401.44 L397.17,401.46 L397.60,401.54 L398.02,401.57 L398.45,401.48 L398.88,401.35 L399.31,401.36 L399.73,401.45 L400.16,401.46 L400.59,401.36 L401.02,401.28 L401.44,401.24 L401.87,401.18 L402.30,401.16 L402.73,401.21 L403.15,401.22 L403.58,401.18 L404.01,401.14 L404.44,401.32 L404.86,401.81 L405.29,401.91 L405.72,401.65 L406.15,401.46 L406.57,401.31 L407.00,401.07 L407.43,401.01 L407.86,400.91 L408.28,400.85 L408.71,400.72 L409.14,400.57 L409.57,400.97 L409.99,402.05 L410.42,402.28 L410.85,401.79 L411.28,401.45 L411.70,401.25 L412.13,400.94 L412.56,400.95 L412.99,401.17 L413.41,401.26 L413.84,401.36 L414.27,401.45 L414.70,401.55 L415.12,401.79 L415.55,401.85 L415.98,401.79 L416.41,401.74 L416.83,401.09 L417.26,400.05 L417.69,400.13 L418.12,401.08 L418.54,401.50 L418.97,402.05 L419.40,402.62 L419.83,402.15 L420.25,400.92 L420.68,400.75 L421.11,401.96 L421.54,402.79 L421.96,402.44 L422.39,401.87 L422.82,402.05 L423.25,403.09 L423.67,403.54 L424.10,403.40 L424.10,419.77 L423.67,420.56 L423.25,420.29 L422.82,419.63 L422.39,419.37 L421.96,418.51 L421.54,417.97 L421.11,418.33 L420.68,418.85 L420.25,418.72 L419.83,417.94 L419.40,417.66 L418.97,418.15 L418.54,418.62 L418.12,419.14 L417.69,420.32 L417.26,420.56 L416.83,420.37 L416.41,420.23 L415.98,419.68 L415.55,418.89 L415.12,418.72 L414.70,418.40 L414.27,418.29 L413.84,418.62 L413.41,418.94 L412.99,418.71 L412.56,418.13 L412.13,418.07 L411.70,418.50 L411.28,418.78 L410.85,419.17 L410.42,419.73 L409.99,419.75 L409.57,419.64 L409.14,419.59 L408.71,419.78 L408.28,419.96 L407.86,419.76 L407.43,419.32 L407.00,419.18 L406.57,418.98 L406.15,418.86 L405.72,418.76 L405.29,418.62 L404.86,418.76 L404.44,419.32 L404.01,419.52 L403.58,419.46 L403.15,419.41 L402.73,419.28 L402.30,419.03 L401.87,419.01 L401.44,419.27 L401.02,419.40 L400.59,419.30 L400.16,419.18 L399.73,419.11 L399.31,418.95 L398.88,418.90 L398.45,419.02 L398.02,419.13 L397.60,419.11 L397.17,419.06 L396.74,419.05 L396.31,419.08 L395.89,419.10 L395.46,419.09 L395.03,419.08 L394.60,419.09 L394.18,419.13 L393.75,419.15 L393.32,419.17 L392.89,419.20 L392.47,419.11 L392.04,418.89 L391.61,418.85 L391.18,418.96 L390.75,419.04 L390.33,418.97 L389.90,418.87 L389.47,418.88 L389.05,418.94 L388.62,418.97 L388.19,419.06 L387.76,419.15 L387.34,419.16 L386.91,419.17 L386.48,419.17 L386.05,419.14 L385.62,419.12 L385.20,419.07 L384.77,418.99 L384.34,419.01 L383.92,419.14 L383.49,419.19 L383.06,419.03 L382.63,418.86 L382.21,418.90 L381.78,419.01 L381.35,419.02 L380.92,418.93 L380.50,418.88 L380.07,418.92 L379.64,418.98 L379.21,418.99 L378.79,419.01 L378.36,419.01 L377.93,418.97 L377.50,418.92 L377.08,418.96 L376.65,419.07 L376.22,419.09 L375.79,419.13 L375.37,419.15 L374.94,419.09 L374.51,419.00 L374.08,418.98 L373.66,418.91 L373.23,418.89 L372.80,418.91 L372.37,418.94 L371.95,418.97 L371.52,419.04 L371.09,419.05 L370.66,418.97 L370.24,418.91 L369.81,418.94 L369.38,418.99 L368.95,419.01 L368.53,419.05 L368.10,419.07 L367.67,419.13 L367.24,419.18 L366.81,419.15 L366.39,419.05 L365.96,419.02 L365.53,418.95 L365.11,418.91 L364.68,419.01 L364.25,419.16 L363.82,419.14 L363.40,418.99 L362.97,418.94 L362.54,419.06 L362.11,419.19 L361.69,419.19 L361.26,419.19 L360.83,419.20 L360.40,419.16 L359.98,419.14 L359.55,419.14 L359.12,419.13 L358.69,419.16 L358.27,419.21 L357.84,419.27 L357.41,419.41 L356.98,419.56 L356.56,419.59 L356.13,419.56 L355.70,419.64 L355.27,419.81 L354.85,419.97 L354.42,420.13 L353.99,420.30 L353.56,420.51 L353.14,420.84 L352.71,421.11 L352.28,421.28 L351.85,421.46 L351.43,421.72 L351.00,422.01 L350.57,422.30 L350.14,422.61 L349.72,422.93 L349.29,423.29 L348.86,423.69 L348.43,424.00 L348.00,424.18 L347.58,424.48 L347.15,424.89 L346.72,425.30 L346.30,425.64 L345.87,425.94 L345.44,426.29 L345.01,426.70 L344.59,427.08 L344.16,427.38 L343.73,427.65 L343.30,427.94 L342.88,428.22 L342.45,428.47 L342.02,428.71 L341.59,428.92 L341.17,429.06 L340.74,429.14 L340.31,429.23 L339.88,429.33 L339.46,429.40 L339.03,429.45 L338.60,429.49Z" fill="#fde3bb"/>
<path d="M338.60,393.05 L339.03,393.05 L339.46,393.05 L339.88,393.05 L340.31,393.05 L340.74,393.05 L341.17,393.05 L341.59,393.05 L342.02,393.06 L342.45,393.10 L342.88,393.14 L343.30,393.19 L343.73,393.24 L344.16,393.27 L344.59,393.28 L345.01,393.27 L345.44,393.23 L345.87,393.18 L346.30,393.13 L346.72,393.07 L347.15,393.04 L347.58,393.03 L348.00,393.04 L348.43,393.07 L348.86,393.12 L349.29,393.17 L349.72,393.22 L350.14,393.25 L350.57,393.27 L351.00,393.25 L351.43,393.22 L351.85,393.16 L352.28,393.10 L352.71,393.05 L353.14,393.01 L353.56,393.00 L353.99,393.00 L354.42,393.02 L354.85,393.05 L355.27,393.07 L355.70,393.10 L356.13,393.12 L356.56,393.12 L356.98,393.13 L357.41,393.14 L357.84,393.16 L358.27,393.18 L358.69,393.20 L359.12,393.21 L359.55,393.22 L359.98,393.21 L360.40,393.18 L360.83,393.14 L361.26,393.10 L361.69,393.06 L362.11,393.03 L362.54,393.02 L362.97,393.02 L363.40,393.01 L363.82,393.01 L364.25,393.00 L364.68,393.00 L365.11,392.99 L365.53,392.99 L365.96,393.00 L366.39,393.03 L366.81,393.07 L367.24,393.11 L367.67,393.15 L368.10,393.17 L368.53,393.18 L368.95,393.18 L369.38,393.17 L369.81,393.15 L370.24,393.13 L370.66,393.12 L371.09,393.11 L371.52,393.10 L371.95,393.11 L372.37,393.14 L372.80,393.18 L373.23,393.22 L373.66,393.26 L374.08,393.28 L374.51,393.29 L374.94,393.28 L375.37,393.26 L375.79,393.23 L376.22,393.19 L376.65,393.16 L377.08,393.13 L377.50,393.12 L377.93,393.12 L378.36,393.13 L378.79,393.13 L379.21,393.13 L379.64,393.14 L380.07,393.14 L380.50,393.14 L380.92,393.14 L381.35,393.14 L381.78,393.15 L382.21,393.15 L382.63,393.16 L383.06,393.16 L383.49,393.16 L383.92,393.17 L384.34,393.18 L384.77,393.20 L385.20,393.23 L385.62,393.25 L386.05,393.26 L386.48,393.27 L386.91,393.26 L387.34,393.24 L387.76,393.21 L388.19,393.17 L388.62,393.14 L389.05,393.11 L389.47,393.10 L389.90,393.11 L390.33,393.12 L390.75,393.13 L391.18,393.15 L391.61,393.16 L392.04,393.17 L392.47,393.17 L392.89,393.18 L393.32,393.20 L393.75,393.22 L394.18,393.25 L394.60,393.28 L395.03,393.30 L395.46,393.30 L395.89,393.29 L396.31,393.24 L396.74,393.18 L397.17,393.11 L397.60,393.05 L398.02,393.00 L398.45,392.99 L398.88,392.96 L399.31,392.95 L399.73,392.96 L400.16,392.98 L400.59,393.01 L401.02,393.03 L401.44,393.03 L401.87,393.04 L402.30,393.08 L402.73,393.17 L403.15,393.27 L403.58,393.38 L404.01,393.47 L404.44,393.51 L404.86,393.52 L405.29,393.51 L405.72,393.49 L406.15,393.47 L406.57,393.44 L407.00,393.42 L407.43,393.42 L407.86,393.38 L408.28,393.25 L408.71,393.03 L409.14,392.78 L409.57,392.54 L409.99,392.35 L410.42,392.27 L410.85,392.33 L411.28,392.58 L411.70,392.97 L412.13,393.43 L412.56,393.86 L412.99,394.18 L413.41,394.32 L413.84,394.28 L414.27,394.10 L414.70,393.83 L415.12,393.51 L415.55,393.20 L415.98,392.99 L416.41,392.90 L416.83,392.95 L417.26,393.11 L417.69,393.34 L418.12,393.61 L418.54,393.86 L418.97,394.05 L419.40,394.13 L419.83,394.16 L420.25,394.22 L420.68,394.30 L421.11,394.39 L421.54,394.48 L421.96,394.55 L422.39,394.59 L422.82,394.44 L423.25,393.98 L423.67,393.29 L424.10,392.51" fill="none" stroke="#fba81e" stroke-width="1.6" stroke-dasharray="1.3,1.8"/>
<path d="M338.60,429.42 L339.03,429.26 L339.46,428.94 L339.88,428.51 L340.31,428.05 L340.74,427.51 L341.17,426.86 L341.59,426.15 L342.02,425.44 L342.45,424.71 L342.88,423.98 L343.30,423.26 L343.73,422.59 L344.16,421.90 L344.59,421.13 L345.01,420.35 L345.44,419.64 L345.87,418.98 L346.30,418.35 L346.72,417.77 L347.15,417.26 L347.58,416.73 L348.00,416.20 L348.43,415.69 L348.86,415.22 L349.29,414.77 L349.72,414.36 L350.14,413.99 L350.57,413.65 L351.00,413.33 L351.43,413.03 L351.85,412.75 L352.28,412.48 L352.71,412.23 L353.14,412.00 L353.56,411.80 L353.99,411.61 L354.42,411.45 L354.85,411.29 L355.27,411.15 L355.70,411.05 L356.13,410.98 L356.56,410.88 L356.98,410.69 L357.41,410.52 L357.84,410.46 L358.27,410.44 L358.69,410.39 L359.12,410.35 L359.55,410.32 L359.98,410.27 L360.40,410.21 L360.83,410.17 L361.26,410.16 L361.69,410.16 L362.11,410.15 L362.54,410.16 L362.97,410.16 L363.40,410.13 L363.82,410.08 L364.25,410.06 L364.68,410.11 L365.11,410.18 L365.53,410.17 L365.96,410.11 L366.39,410.08 L366.81,410.06 L367.24,410.02 L367.67,410.02 L368.10,410.09 L368.53,410.16 L368.95,410.12 L369.38,410.01 L369.81,409.96 L370.24,409.97 L370.66,409.98 L371.09,409.98 L371.52,409.98 L371.95,409.99 L372.37,410.00 L372.80,410.01 L373.23,410.02 L373.66,410.04 L374.08,410.06 L374.51,410.04 L374.94,409.98 L375.37,409.96 L375.79,409.97 L376.22,409.99 L376.65,410.00 L377.08,410.02 L377.50,410.03 L377.93,410.03 L378.36,410.04 L378.79,410.03 L379.21,409.99 L379.64,409.96 L380.07,409.99 L380.50,410.06 L380.92,410.08 L381.35,410.03 L381.78,409.96 L382.21,409.97 L382.63,410.07 L383.06,410.13 L383.49,410.11 L383.92,410.08 L384.34,410.07 L384.77,410.03 L385.20,409.99 L385.62,410.02 L386.05,410.08 L386.48,410.11 L386.91,410.05 L387.34,409.98 L387.76,409.98 L388.19,410.01 L388.62,410.02 L389.05,410.03 L389.47,410.04 L389.90,410.04 L390.33,410.03 L390.75,410.02 L391.18,410.04 L391.61,410.09 L392.04,410.12 L392.47,410.14 L392.89,410.16 L393.32,410.14 L393.75,410.06 L394.18,410.02 L394.60,409.99 L395.03,409.95 L395.46,409.95 L395.89,410.05 L396.31,410.13 L396.74,410.12 L397.17,410.06 L397.60,410.04 L398.02,410.03 L398.45,410.02 L398.88,410.01 L399.31,410.03 L399.73,410.05 L400.16,410.11 L400.59,410.22 L401.02,410.25 L401.44,410.11 L401.87,409.97 L402.30,410.05 L402.73,410.28 L403.15,410.39 L403.58,410.37 L404.01,410.34 L404.44,410.29 L404.86,410.00 L405.29,409.82 L405.72,409.82 L406.15,409.84 L406.57,409.87 L407.00,410.19 L407.43,410.49 L407.86,410.41 L408.28,410.13 L408.71,410.02 L409.14,410.20 L409.57,410.42 L409.99,410.49 L410.42,410.65 L410.85,410.75 L411.28,410.74 L411.70,410.71 L412.13,410.69 L412.56,410.44 L412.99,410.23 L413.41,410.05 L413.84,409.58 L414.27,409.38 L414.70,409.40 L415.12,409.43 L415.55,409.53 L415.98,409.98 L416.41,410.26 L416.83,410.43 L417.26,410.72 L417.69,410.81 L418.12,410.93 L418.54,411.03 L418.97,410.94 L419.40,410.67 L419.83,410.55 L420.25,410.20 L420.68,409.76 L421.11,409.88 L421.54,410.65 L421.96,411.13 L422.39,411.16 L422.82,411.20 L423.25,411.11 L423.67,410.16 L424.10,409.34" fill="none" stroke="#fba81e" stroke-width="1.65"/>
<path d="M339.46,452.32 L339.88,452.31 L340.30,452.30 L340.72,452.29 L341.15,452.36 L341.57,452.44 L341.99,452.46 L342.42,452.53 L342.84,452.55 L343.26,452.59 L343.69,452.62 L344.11,452.58 L344.53,452.51 L344.96,452.50 L345.38,452.57 L345.80,452.61 L346.23,452.59 L346.65,452.57 L347.07,452.54 L347.50,452.42 L347.92,452.38 L348.34,452.39 L348.77,452.40 L349.19,452.36 L349.61,452.26 L350.04,452.25 L350.46,452.43 L350.88,452.57 L351.31,452.58 L351.73,452.59 L352.15,452.59 L352.57,452.57 L353.00,452.57 L353.42,452.51 L353.84,452.44 L354.27,452.46 L354.69,452.53 L355.11,452.56 L355.54,452.41 L355.96,452.27 L356.38,452.29 L356.81,452.34 L357.23,452.35 L357.65,452.24 L358.08,452.17 L358.50,452.28 L358.92,452.47 L359.35,452.46 L359.77,452.28 L360.19,452.19 L360.62,452.31 L361.04,452.46 L361.46,452.44 L361.89,452.31 L362.31,452.27 L362.73,452.25 L363.16,452.24 L363.58,452.31 L364.00,452.46 L364.43,452.49 L364.85,452.48 L365.27,452.48 L365.69,452.53 L366.12,452.61 L366.54,452.59 L366.96,452.41 L367.39,452.33 L367.81,452.36 L368.23,452.39 L368.66,452.38 L369.08,452.34 L369.50,452.34 L369.93,452.49 L370.35,452.62 L370.77,452.62 L371.20,452.62 L371.62,452.59 L372.04,452.40 L372.47,452.29 L372.89,452.36 L373.31,452.48 L373.74,452.45 L374.16,452.26 L374.58,452.17 L375.01,452.24 L375.43,452.31 L375.85,452.37 L376.28,452.51 L376.70,452.53 L377.12,452.38 L377.55,452.26 L377.97,452.26 L378.39,452.27 L378.81,452.28 L379.24,452.34 L379.66,452.38 L380.08,452.30 L380.51,452.20 L380.93,452.19 L381.35,452.20 L381.78,452.21 L382.20,452.24 L382.62,452.26 L383.05,452.26 L383.47,452.25 L383.89,452.25 L384.32,452.28 L384.74,452.30 L385.16,452.33 L385.59,452.37 L386.01,452.38 L386.43,452.44 L386.86,452.46 L387.28,452.43 L387.70,452.39 L388.13,452.39 L388.55,452.43 L388.97,452.45 L389.40,452.46 L389.82,452.48 L390.24,452.44 L390.67,452.30 L391.09,452.24 L391.51,452.16 L391.93,452.09 L392.36,452.29 L392.78,452.72 L393.20,452.83 L393.63,452.90 L394.05,452.96 L394.47,452.67 L394.90,452.27 L395.32,452.24 L395.74,452.26 L396.17,452.29 L396.59,452.73 L397.01,453.17 L397.44,452.82 L397.86,451.93 L398.28,451.80 L398.71,452.65 L399.13,453.27 L399.55,452.52 L399.98,451.25 L400.40,451.13 L400.82,451.55 L401.25,451.75 L401.67,451.34 L402.09,450.84 L402.52,451.02 L402.94,451.78 L403.36,452.03 L403.79,451.99 L404.21,451.95 L404.63,452.09 L405.05,452.40 L405.48,452.33 L405.90,451.34 L406.32,450.69 L406.75,450.87 L407.17,451.17 L407.59,451.66 L408.02,453.68 L408.44,454.59 L408.86,453.74 L409.29,452.77 L409.71,452.51 L410.13,451.88 L410.56,451.63 L410.98,450.99 L411.40,450.45 L411.83,450.95 L412.25,451.99 L412.67,452.32 L413.10,453.12 L413.52,453.60 L413.94,452.52 L414.37,450.99 L414.79,451.38 L415.21,453.62 L415.64,454.58 L416.06,454.98 L416.48,455.40 L416.91,454.26 L417.33,451.12 L417.75,450.45 L418.17,452.86 L418.60,454.73 L419.02,454.77 L419.44,454.80 L419.87,454.78 L420.29,454.56 L420.71,454.44 L421.14,453.15 L421.56,451.43 L421.98,451.54 L422.41,452.54 L422.83,452.89 L423.25,452.18 L423.68,451.47 L424.10,450.99 L424.10,462.02 L423.68,461.69 L423.25,463.89 L422.83,466.12 L422.41,464.68 L421.98,460.74 L421.56,459.76 L421.14,460.73 L420.71,461.47 L420.29,461.59 L419.87,461.78 L419.44,462.14 L419.02,463.96 L418.60,464.92 L418.17,463.80 L417.75,462.34 L417.33,462.21 L416.91,462.21 L416.48,462.21 L416.06,462.12 L415.64,462.05 L415.21,461.98 L414.79,461.80 L414.37,461.70 L413.94,461.07 L413.52,460.64 L413.10,462.05 L412.67,464.41 L412.25,464.78 L411.83,464.89 L411.40,464.92 L410.98,464.20 L410.56,463.33 L410.13,463.26 L409.71,463.28 L409.29,463.27 L408.86,463.22 L408.44,463.18 L408.02,462.86 L407.59,462.15 L407.17,462.04 L406.75,462.43 L406.32,462.68 L405.90,463.05 L405.48,463.63 L405.05,463.52 L404.63,462.71 L404.21,462.36 L403.79,463.26 L403.36,464.26 L402.94,464.04 L402.52,463.24 L402.09,462.98 L401.67,462.90 L401.25,462.82 L400.82,463.10 L400.40,463.66 L399.98,463.74 L399.55,463.58 L399.13,463.49 L398.71,463.50 L398.28,463.52 L397.86,463.32 L397.44,462.55 L397.01,462.25 L396.59,462.30 L396.17,462.34 L395.74,462.61 L395.32,463.27 L394.90,463.42 L394.47,463.19 L394.05,463.03 L393.63,463.03 L393.20,463.04 L392.78,463.06 L392.36,463.12 L391.93,463.15 L391.51,463.11 L391.09,463.06 L390.67,463.01 L390.24,462.85 L389.82,462.82 L389.40,462.87 L388.97,462.92 L388.55,462.97 L388.13,463.12 L387.70,463.16 L387.28,463.18 L386.86,463.19 L386.43,463.18 L386.01,463.15 L385.59,463.13 L385.16,463.05 L384.74,463.00 L384.32,462.95 L383.89,462.88 L383.47,462.91 L383.05,463.07 L382.62,463.13 L382.20,463.12 L381.78,463.11 L381.35,463.07 L380.93,462.96 L380.51,462.94 L380.08,463.07 L379.66,463.17 L379.24,463.11 L378.81,463.02 L378.39,463.00 L377.97,462.98 L377.55,462.97 L377.12,463.01 L376.70,463.05 L376.28,463.09 L375.85,463.20 L375.43,463.23 L375.01,463.10 L374.58,462.98 L374.16,463.02 L373.74,463.12 L373.31,463.14 L372.89,463.09 L372.47,463.06 L372.04,463.12 L371.62,463.22 L371.20,463.21 L370.77,463.09 L370.35,463.03 L369.93,463.10 L369.50,463.18 L369.08,463.20 L368.66,463.22 L368.23,463.22 L367.81,463.09 L367.39,462.97 L366.96,462.95 L366.54,462.90 L366.12,462.89 L365.69,462.93 L365.27,462.96 L364.85,462.97 L364.43,462.99 L364.00,463.03 L363.58,463.16 L363.16,463.22 L362.73,463.04 L362.31,462.85 L361.89,462.88 L361.46,463.01 L361.04,463.06 L360.62,463.11 L360.19,463.16 L359.77,463.14 L359.35,463.10 L358.92,463.06 L358.50,462.89 L358.08,462.79 L357.65,462.91 L357.23,463.08 L356.81,463.11 L356.38,463.16 L355.96,463.18 L355.54,463.03 L355.11,462.88 L354.69,462.91 L354.27,463.02 L353.84,463.05 L353.42,462.99 L353.00,462.95 L352.57,463.03 L352.15,463.17 L351.73,463.19 L351.31,463.12 L350.88,463.09 L350.46,463.01 L350.04,462.90 L349.61,462.91 L349.19,462.99 L348.77,463.02 L348.34,462.96 L347.92,462.90 L347.50,462.96 L347.07,463.14 L346.65,463.16 L346.23,462.98 L345.80,462.85 L345.38,462.91 L344.96,463.01 L344.53,463.02 L344.11,462.98 L343.69,462.96 L343.26,462.96 L342.84,462.96 L342.42,462.97 L341.99,462.97 L341.57,462.98 L341.15,463.05 L340.72,463.12 L340.30,463.05 L339.88,462.90 L339.46,462.88Z" fill="#d3e8f2"/>
<path d="M338.60,495.03 L339.03,493.22 L339.46,491.03 L339.88,488.73 L340.31,486.48 L340.74,484.39 L341.17,482.49 L341.59,480.69 L342.02,479.00 L342.45,477.45 L342.88,476.01 L343.30,474.66 L343.73,473.51 L344.16,472.50 L344.59,471.59 L345.01,470.73 L345.44,469.93 L345.87,469.32 L346.30,468.91 L346.72,468.47 L347.15,468.04 L347.58,467.65 L348.00,467.31 L348.43,466.99 L348.86,466.72 L349.29,466.43 L349.72,466.19 L350.14,466.05 L350.57,465.96 L351.00,465.80 L351.43,465.54 L351.85,465.39 L352.28,465.33 L352.71,465.29 L353.14,465.19 L353.56,465.04 L353.99,464.99 L354.42,465.10 L354.85,465.16 L355.27,465.04 L355.70,464.87 L356.13,464.87 L356.56,464.99 L356.98,465.02 L357.41,464.93 L357.84,464.84 L358.27,464.82 L358.69,464.80 L359.12,464.80 L359.55,464.91 L359.98,464.98 L360.40,464.97 L360.83,464.96 L361.26,464.97 L361.69,465.04 L362.11,465.06 L362.54,464.95 L362.97,464.83 L363.40,464.84 L363.82,464.87 L364.25,464.87 L364.68,464.84 L365.11,464.82 L365.53,464.91 L365.96,465.04 L366.39,465.05 L366.81,465.05 L367.24,465.04 L367.67,464.92 L368.10,464.79 L368.53,464.82 L368.95,464.93 L369.38,464.93 L369.81,464.79 L370.24,464.69 L370.66,464.73 L371.09,464.80 L371.52,464.83 L371.95,464.94 L372.37,464.99 L372.80,464.88 L373.23,464.76 L373.66,464.76 L374.08,464.77 L374.51,464.77 L374.94,464.82 L375.37,464.85 L375.79,464.80 L376.22,464.71 L376.65,464.70 L377.08,464.72 L377.50,464.72 L377.93,464.74 L378.36,464.76 L378.79,464.76 L379.21,464.75 L379.64,464.75 L380.07,464.78 L380.50,464.80 L380.92,464.82 L381.35,464.85 L381.78,464.86 L382.21,464.91 L382.63,464.92 L383.06,464.89 L383.49,464.86 L383.92,464.87 L384.34,464.90 L384.77,464.91 L385.20,464.93 L385.62,464.94 L386.05,464.88 L386.48,464.80 L386.91,464.79 L387.34,464.76 L387.76,464.75 L388.19,464.87 L388.62,465.00 L389.05,465.01 L389.47,465.02 L389.90,465.01 L390.33,464.91 L390.75,464.82 L391.18,464.82 L391.61,464.82 L392.04,464.87 L392.47,465.09 L392.89,465.20 L393.32,464.91 L393.75,464.56 L394.18,464.71 L394.60,465.17 L395.03,465.24 L395.46,464.63 L395.89,464.17 L396.31,464.29 L396.74,464.50 L397.17,464.44 L397.60,464.13 L398.02,463.98 L398.45,464.30 L398.88,464.65 L399.31,464.65 L399.73,464.62 L400.16,464.62 L400.59,464.79 L401.02,464.91 L401.44,464.53 L401.87,463.91 L402.30,463.86 L402.73,464.05 L403.15,464.15 L403.58,465.16 L404.01,466.23 L404.44,465.99 L404.86,465.26 L405.29,465.04 L405.72,464.67 L406.15,464.41 L406.57,464.11 L407.00,463.65 L407.43,463.74 L407.86,464.44 L408.28,464.75 L408.71,465.19 L409.14,465.65 L409.57,465.22 L409.99,464.10 L410.42,463.97 L410.85,465.37 L411.28,466.33 L411.70,466.55 L412.13,466.89 L412.56,466.44 L412.99,464.30 L413.41,463.43 L413.84,464.90 L414.27,466.42 L414.70,466.50 L415.12,466.53 L415.55,466.53 L415.98,466.39 L416.41,466.30 L416.83,465.50 L417.26,464.24 L417.69,464.24 L418.12,464.94 L418.54,465.22 L418.97,464.73 L419.40,464.22 L419.83,463.88 L420.25,463.09 L420.68,463.20 L421.11,465.92 L421.54,467.77 L421.96,467.84 L422.39,467.93 L422.82,467.32 L423.25,464.62 L423.67,463.47 L424.10,463.41 L424.10,485.19 L423.67,485.31 L423.25,485.46 L422.82,485.82 L422.39,485.99 L421.96,486.70 L421.54,487.15 L421.11,486.75 L420.68,486.16 L420.25,485.91 L419.83,485.19 L419.40,484.96 L418.97,486.54 L418.54,488.08 L418.12,486.95 L417.69,484.19 L417.26,483.64 L416.83,484.35 L416.41,484.81 L415.98,484.91 L415.55,485.04 L415.12,485.38 L414.70,486.69 L414.27,487.17 L413.84,486.25 L413.41,485.36 L412.99,485.34 L412.56,485.33 L412.13,485.33 L411.70,485.27 L411.28,485.23 L410.85,485.16 L410.42,485.05 L409.99,484.93 L409.57,484.47 L409.14,484.35 L408.71,485.71 L408.28,487.01 L407.86,487.07 L407.43,487.14 L407.00,487.06 L406.57,486.44 L406.15,486.04 L405.72,486.05 L405.29,486.06 L404.86,486.04 L404.44,486.01 L404.01,485.98 L403.58,485.61 L403.15,485.26 L402.73,485.36 L402.30,485.62 L401.87,485.72 L401.44,486.08 L401.02,486.30 L400.59,485.99 L400.16,485.54 L399.73,485.67 L399.31,486.37 L398.88,486.62 L398.45,486.24 L398.02,485.88 L397.60,485.85 L397.17,485.79 L396.74,485.82 L396.31,486.11 L395.89,486.28 L395.46,486.22 L395.03,486.13 L394.60,486.12 L394.18,486.12 L393.75,486.11 L393.32,485.81 L392.89,485.56 L392.47,485.58 L392.04,485.62 L391.61,485.67 L391.18,485.91 L390.75,486.03 L390.33,485.97 L389.90,485.90 L389.47,485.89 L389.05,485.90 L388.62,485.90 L388.19,485.92 L387.76,485.94 L387.34,485.93 L386.91,485.91 L386.48,485.90 L386.05,485.80 L385.62,485.73 L385.20,485.76 L384.77,485.80 L384.34,485.84 L383.92,485.95 L383.49,486.00 L383.06,486.01 L382.63,486.03 L382.21,486.02 L381.78,485.99 L381.35,485.98 L380.92,485.92 L380.50,485.87 L380.07,485.84 L379.64,485.78 L379.21,485.80 L378.79,485.92 L378.36,485.98 L377.93,485.97 L377.50,485.96 L377.08,485.93 L376.65,485.84 L376.22,485.83 L375.79,485.94 L375.37,486.01 L374.94,485.96 L374.51,485.89 L374.08,485.87 L373.66,485.85 L373.23,485.85 L372.80,485.88 L372.37,485.92 L371.95,485.95 L371.52,486.04 L371.09,486.05 L370.66,485.93 L370.24,485.85 L369.81,485.90 L369.38,485.98 L368.95,485.98 L368.53,485.94 L368.10,485.92 L367.67,485.99 L367.24,486.06 L366.81,486.02 L366.39,485.92 L365.96,485.91 L365.53,485.98 L365.11,486.02 L364.68,486.04 L364.25,486.05 L363.82,486.03 L363.40,485.90 L362.97,485.85 L362.54,485.82 L362.11,485.79 L361.69,485.80 L361.26,485.83 L360.83,485.84 L360.40,485.86 L359.98,485.87 L359.55,485.94 L359.12,486.05 L358.69,486.02 L358.27,485.83 L357.84,485.76 L357.41,485.85 L356.98,485.94 L356.56,485.98 L356.13,486.04 L355.70,486.06 L355.27,486.05 L354.85,486.05 L354.42,485.99 L353.99,485.89 L353.56,485.95 L353.14,486.14 L352.71,486.26 L352.28,486.37 L351.85,486.48 L351.43,486.52 L351.00,486.48 L350.57,486.58 L350.14,486.81 L349.72,487.03 L349.29,487.19 L348.86,487.36 L348.43,487.62 L348.00,488.01 L347.58,488.34 L347.15,488.61 L346.72,488.90 L346.30,489.22 L345.87,489.50 L345.44,489.88 L345.01,490.35 L344.59,490.81 L344.16,491.20 L343.73,491.57 L343.30,492.02 L342.88,492.58 L342.45,493.03 L342.02,493.28 L341.59,493.50 L341.17,493.85 L340.74,494.21 L340.31,494.46 L339.88,494.62 L339.46,494.74 L339.03,494.82 L338.60,494.85Z" fill="#d3e8f2"/>
<path d="M339.46,457.86 L339.88,457.84 L340.30,457.82 L340.72,457.80 L341.15,457.79 L341.57,457.79 L341.99,457.78 L342.42,457.75 L342.84,457.71 L343.26,457.67 L343.69,457.62 L344.11,457.59 L344.53,457.58 L344.96,457.59 L345.38,457.61 L345.80,457.64 L346.23,457.68 L346.65,457.71 L347.07,457.74 L347.50,457.75 L347.92,457.74 L348.34,457.71 L348.77,457.67 L349.19,457.62 L349.61,457.57 L350.04,457.53 L350.46,457.52 L350.88,457.53 L351.31,457.57 L351.73,457.63 L352.15,457.71 L352.57,457.79 L353.00,457.85 L353.42,457.87 L353.84,457.87 L354.27,457.87 L354.69,457.85 L355.11,457.84 L355.54,457.83 L355.96,457.81 L356.38,457.81 L356.81,457.81 L357.23,457.80 L357.65,457.78 L358.08,457.76 L358.50,457.73 L358.92,457.72 L359.35,457.71 L359.77,457.71 L360.19,457.72 L360.62,457.75 L361.04,457.78 L361.46,457.81 L361.89,457.83 L362.31,457.84 L362.73,457.85 L363.16,457.84 L363.58,457.82 L364.00,457.81 L364.43,457.79 L364.85,457.77 L365.27,457.76 L365.69,457.76 L366.12,457.76 L366.54,457.76 L366.96,457.76 L367.39,457.77 L367.81,457.77 L368.23,457.77 L368.66,457.77 L369.08,457.75 L369.50,457.73 L369.93,457.69 L370.35,457.65 L370.77,457.62 L371.20,457.60 L371.62,457.59 L372.04,457.59 L372.47,457.59 L372.89,457.58 L373.31,457.57 L373.74,457.57 L374.16,457.57 L374.58,457.56 L375.01,457.57 L375.43,457.57 L375.85,457.58 L376.28,457.58 L376.70,457.59 L377.12,457.59 L377.55,457.59 L377.97,457.60 L378.39,457.63 L378.81,457.67 L379.24,457.72 L379.66,457.75 L380.08,457.78 L380.51,457.79 L380.93,457.79 L381.35,457.79 L381.78,457.79 L382.20,457.79 L382.62,457.80 L383.05,457.80 L383.47,457.80 L383.89,457.80 L384.32,457.82 L384.74,457.84 L385.16,457.86 L385.59,457.88 L386.01,457.89 L386.43,457.90 L386.86,457.89 L387.28,457.87 L387.70,457.83 L388.13,457.79 L388.55,457.76 L388.97,457.73 L389.40,457.72 L389.82,457.72 L390.24,457.72 L390.67,457.74 L391.09,457.75 L391.51,457.77 L391.93,457.79 L392.36,457.80 L392.78,457.80 L393.20,457.75 L393.63,457.67 L394.05,457.55 L394.47,457.41 L394.90,457.30 L395.32,457.22 L395.74,457.19 L396.17,457.14 L396.59,457.08 L397.01,457.00 L397.44,456.92 L397.86,456.85 L398.28,456.80 L398.71,456.78 L399.13,456.86 L399.55,457.03 L399.98,457.26 L400.40,457.51 L400.82,457.72 L401.25,457.84 L401.67,457.88 L402.09,458.00 L402.52,458.22 L402.94,458.51 L403.36,458.82 L403.79,459.08 L404.21,459.25 L404.63,459.30 L405.05,459.23 L405.48,459.05 L405.90,458.81 L406.32,458.56 L406.75,458.34 L407.17,458.21 L407.59,458.18 L408.02,457.99 L408.44,457.61 L408.86,457.09 L409.29,456.54 L409.71,456.06 L410.13,455.75 L410.56,455.67 L410.98,455.90 L411.40,456.40 L411.83,457.10 L412.25,457.86 L412.67,458.53 L413.10,458.96 L413.52,459.08 L413.94,459.01 L414.37,458.82 L414.79,458.55 L415.21,458.26 L415.64,458.00 L416.06,457.83 L416.48,457.78 L416.91,457.76 L417.33,457.70 L417.75,457.62 L418.17,457.52 L418.60,457.44 L419.02,457.38 L419.44,457.37 L419.87,457.49 L420.29,457.80 L420.71,458.25 L421.14,458.76 L421.56,459.21 L421.98,459.54 L422.41,459.67 L422.83,459.59 L423.25,459.33 L423.68,458.94 L424.10,458.50" fill="none" stroke="#3b9dc7" stroke-width="1.6" stroke-dasharray="1.3,1.8"/>
<path d="M338.60,494.84 L339.03,493.92 L339.46,492.64 L339.88,491.29 L340.31,489.94 L340.74,488.61 L341.17,487.33 L341.59,486.17 L342.02,485.03 L342.45,483.94 L342.88,482.94 L343.30,482.00 L343.73,481.11 L344.16,480.31 L344.59,479.61 L345.01,478.98 L345.44,478.41 L345.87,477.88 L346.30,477.41 L346.72,477.05 L347.15,476.80 L347.58,476.53 L348.00,476.14 L348.43,475.78 L348.86,475.59 L349.29,475.55 L349.72,475.47 L350.14,475.29 L350.57,475.09 L351.00,474.96 L351.43,474.85 L351.85,474.75 L352.28,474.70 L352.71,474.71 L353.14,474.68 L353.56,474.63 L353.99,474.57 L354.42,474.53 L354.85,474.43 L355.27,474.37 L355.70,474.37 L356.13,474.38 L356.56,474.38 L356.98,474.44 L357.41,474.49 L357.84,474.45 L358.27,474.35 L358.69,474.32 L359.12,474.28 L359.55,474.25 L359.98,474.24 L360.40,474.25 L360.83,474.25 L361.26,474.30 L361.69,474.39 L362.11,474.42 L362.54,474.46 L362.97,474.50 L363.40,474.50 L363.82,474.47 L364.25,474.46 L364.68,474.44 L365.11,474.40 L365.53,474.39 L365.96,474.35 L366.39,474.33 L366.81,474.36 L367.24,474.42 L367.67,474.42 L368.10,474.32 L368.53,474.24 L368.95,474.26 L369.38,474.30 L369.81,474.31 L370.24,474.25 L370.66,474.18 L371.09,474.21 L371.52,474.37 L371.95,474.47 L372.37,474.40 L372.80,474.28 L373.23,474.26 L373.66,474.37 L374.08,474.46 L374.51,474.47 L374.94,474.50 L375.37,474.51 L375.79,474.46 L376.22,474.40 L376.65,474.38 L377.08,474.35 L377.50,474.34 L377.93,474.30 L378.36,474.23 L378.79,474.22 L379.21,474.23 L379.64,474.25 L380.07,474.27 L380.50,474.33 L380.92,474.34 L381.35,474.27 L381.78,474.19 L382.21,474.21 L382.63,474.32 L383.06,474.39 L383.49,474.32 L383.92,474.21 L384.34,474.20 L384.77,474.34 L385.20,474.45 L385.62,474.44 L386.05,474.39 L386.48,474.37 L386.91,474.43 L387.34,474.49 L387.76,474.48 L388.19,474.40 L388.62,474.36 L389.05,474.36 L389.47,474.37 L389.90,474.38 L390.33,474.44 L390.75,474.50 L391.18,474.52 L391.61,474.53 L392.04,474.54 L392.47,474.32 L392.89,474.02 L393.32,474.01 L393.75,474.28 L394.18,474.45 L394.60,474.52 L395.03,474.63 L395.46,474.63 L395.89,474.30 L396.31,473.99 L396.74,473.96 L397.17,473.94 L397.60,473.93 L398.02,474.16 L398.45,474.46 L398.88,474.44 L399.31,474.17 L399.73,474.00 L400.16,473.83 L400.59,473.53 L401.02,473.54 L401.44,474.39 L401.87,475.16 L402.30,475.03 L402.73,474.57 L403.15,474.37 L403.58,473.79 L404.01,473.07 L404.44,473.21 L404.86,474.32 L405.29,475.01 L405.72,475.14 L406.15,475.36 L406.57,475.32 L407.00,474.43 L407.43,473.64 L407.86,474.00 L408.28,475.05 L408.71,475.46 L409.14,474.76 L409.57,473.89 L409.99,473.77 L410.42,473.71 L410.85,473.67 L411.28,474.05 L411.70,474.72 L412.13,474.85 L412.56,474.52 L412.99,474.23 L413.41,474.15 L413.84,473.97 L414.27,473.90 L414.70,474.15 L415.12,474.45 L415.55,474.64 L415.98,475.35 L416.41,475.79 L416.83,475.46 L417.26,474.88 L417.69,474.69 L418.12,474.18 L418.54,473.74 L418.97,473.38 L419.40,472.47 L419.83,472.17 L420.25,474.01 L420.68,476.26 L421.11,476.29 L421.54,475.18 L421.96,474.51 L422.39,474.80 L422.82,475.30 L423.25,475.20 L423.67,473.16 L424.10,471.39" fill="none" stroke="#3b9dc7" stroke-width="1.65"/>
<text x="219.80" y="386.30" font-size="12.3" text-anchor="start" fill="#111" stroke="#111" stroke-width="0.22" font-style="italic">SVs upon fusion</text>
<text x="219.60" y="442.50" font-size="12.3" text-anchor="start" fill="#111" stroke="#111" stroke-width="0.22" font-style="italic">Docked SVs</text>
<path d="M216.6,383.1 C214.5,381.2 210.5,380.8 208.8,383.5 C207.9,385 208.2,388 208.2,390.2" fill="none" stroke="#222" stroke-width="1.1"/>
<path d="M205,387.8 L208.2,390.8 L210.8,387.5" fill="none" stroke="#222" stroke-width="1.1"/>
<path d="M216.6,440.3 C214.5,442.2 210.5,442.6 208.8,439.9 C207.9,438.4 208.2,435.4 208.2,433.2" fill="none" stroke="#222" stroke-width="1.1"/>
<path d="M205,435.8 L208.2,432.6 L210.8,435.8" fill="none" stroke="#222" stroke-width="1.1"/>
</svg></body></html>
